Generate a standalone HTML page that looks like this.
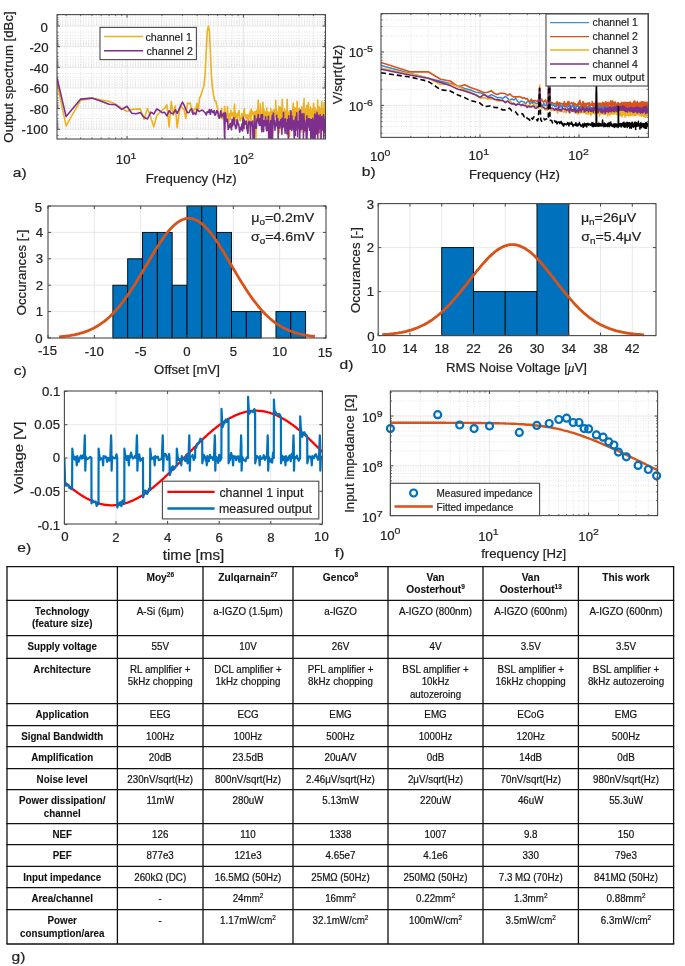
<!DOCTYPE html>
<html><head><meta charset="utf-8"><style>
html,body{margin:0;padding:0;background:#fff;}
body{width:685px;height:966px;overflow:hidden;position:relative;}
svg{position:absolute;left:0;top:0;font-family:"Liberation Sans", sans-serif;will-change:transform;}
</style></head><body>
<svg width="685" height="966" viewBox="0 0 685 966">
<clipPath id="ca"><rect x="57" y="14.6" width="268.5" height="124.4"/></clipPath>
<line x1="66.14" y1="14.60" x2="66.14" y2="139.00" stroke="#d0d0d0" stroke-width="0.7" stroke-dasharray="0.9 1.7"/>
<line x1="80.68" y1="14.60" x2="80.68" y2="139.00" stroke="#d0d0d0" stroke-width="0.7" stroke-dasharray="0.9 1.7"/>
<line x1="91.96" y1="14.60" x2="91.96" y2="139.00" stroke="#d0d0d0" stroke-width="0.7" stroke-dasharray="0.9 1.7"/>
<line x1="101.18" y1="14.60" x2="101.18" y2="139.00" stroke="#d0d0d0" stroke-width="0.7" stroke-dasharray="0.9 1.7"/>
<line x1="108.97" y1="14.60" x2="108.97" y2="139.00" stroke="#d0d0d0" stroke-width="0.7" stroke-dasharray="0.9 1.7"/>
<line x1="115.72" y1="14.60" x2="115.72" y2="139.00" stroke="#d0d0d0" stroke-width="0.7" stroke-dasharray="0.9 1.7"/>
<line x1="121.67" y1="14.60" x2="121.67" y2="139.00" stroke="#d0d0d0" stroke-width="0.7" stroke-dasharray="0.9 1.7"/>
<line x1="162.04" y1="14.60" x2="162.04" y2="139.00" stroke="#d0d0d0" stroke-width="0.7" stroke-dasharray="0.9 1.7"/>
<line x1="182.54" y1="14.60" x2="182.54" y2="139.00" stroke="#d0d0d0" stroke-width="0.7" stroke-dasharray="0.9 1.7"/>
<line x1="197.08" y1="14.60" x2="197.08" y2="139.00" stroke="#d0d0d0" stroke-width="0.7" stroke-dasharray="0.9 1.7"/>
<line x1="208.36" y1="14.60" x2="208.36" y2="139.00" stroke="#d0d0d0" stroke-width="0.7" stroke-dasharray="0.9 1.7"/>
<line x1="217.58" y1="14.60" x2="217.58" y2="139.00" stroke="#d0d0d0" stroke-width="0.7" stroke-dasharray="0.9 1.7"/>
<line x1="225.37" y1="14.60" x2="225.37" y2="139.00" stroke="#d0d0d0" stroke-width="0.7" stroke-dasharray="0.9 1.7"/>
<line x1="232.12" y1="14.60" x2="232.12" y2="139.00" stroke="#d0d0d0" stroke-width="0.7" stroke-dasharray="0.9 1.7"/>
<line x1="238.07" y1="14.60" x2="238.07" y2="139.00" stroke="#d0d0d0" stroke-width="0.7" stroke-dasharray="0.9 1.7"/>
<line x1="278.44" y1="14.60" x2="278.44" y2="139.00" stroke="#d0d0d0" stroke-width="0.7" stroke-dasharray="0.9 1.7"/>
<line x1="298.94" y1="14.60" x2="298.94" y2="139.00" stroke="#d0d0d0" stroke-width="0.7" stroke-dasharray="0.9 1.7"/>
<line x1="313.48" y1="14.60" x2="313.48" y2="139.00" stroke="#d0d0d0" stroke-width="0.7" stroke-dasharray="0.9 1.7"/>
<line x1="57.00" y1="15.20" x2="325.50" y2="15.20" stroke="#d0d0d0" stroke-width="0.7" stroke-dasharray="0.9 1.7"/>
<line x1="57.00" y1="15.20" x2="58.60" y2="15.20" stroke="#4a4a4a" stroke-width="0.7" />
<line x1="325.50" y1="15.20" x2="323.90" y2="15.20" stroke="#4a4a4a" stroke-width="0.7" />
<line x1="57.00" y1="17.78" x2="325.50" y2="17.78" stroke="#d0d0d0" stroke-width="0.7" stroke-dasharray="0.9 1.7"/>
<line x1="57.00" y1="17.78" x2="58.60" y2="17.78" stroke="#4a4a4a" stroke-width="0.7" />
<line x1="325.50" y1="17.78" x2="323.90" y2="17.78" stroke="#4a4a4a" stroke-width="0.7" />
<line x1="57.00" y1="19.78" x2="325.50" y2="19.78" stroke="#d0d0d0" stroke-width="0.7" stroke-dasharray="0.9 1.7"/>
<line x1="57.00" y1="19.78" x2="58.60" y2="19.78" stroke="#4a4a4a" stroke-width="0.7" />
<line x1="325.50" y1="19.78" x2="323.90" y2="19.78" stroke="#4a4a4a" stroke-width="0.7" />
<line x1="57.00" y1="21.42" x2="325.50" y2="21.42" stroke="#d0d0d0" stroke-width="0.7" stroke-dasharray="0.9 1.7"/>
<line x1="57.00" y1="21.42" x2="58.60" y2="21.42" stroke="#4a4a4a" stroke-width="0.7" />
<line x1="325.50" y1="21.42" x2="323.90" y2="21.42" stroke="#4a4a4a" stroke-width="0.7" />
<line x1="57.00" y1="22.80" x2="325.50" y2="22.80" stroke="#d0d0d0" stroke-width="0.7" stroke-dasharray="0.9 1.7"/>
<line x1="57.00" y1="22.80" x2="58.60" y2="22.80" stroke="#4a4a4a" stroke-width="0.7" />
<line x1="325.50" y1="22.80" x2="323.90" y2="22.80" stroke="#4a4a4a" stroke-width="0.7" />
<line x1="57.00" y1="24.00" x2="325.50" y2="24.00" stroke="#d0d0d0" stroke-width="0.7" stroke-dasharray="0.9 1.7"/>
<line x1="57.00" y1="24.00" x2="58.60" y2="24.00" stroke="#4a4a4a" stroke-width="0.7" />
<line x1="325.50" y1="24.00" x2="323.90" y2="24.00" stroke="#4a4a4a" stroke-width="0.7" />
<line x1="57.00" y1="25.05" x2="325.50" y2="25.05" stroke="#d0d0d0" stroke-width="0.7" stroke-dasharray="0.9 1.7"/>
<line x1="57.00" y1="25.05" x2="58.60" y2="25.05" stroke="#4a4a4a" stroke-width="0.7" />
<line x1="325.50" y1="25.05" x2="323.90" y2="25.05" stroke="#4a4a4a" stroke-width="0.7" />
<line x1="57.00" y1="32.22" x2="325.50" y2="32.22" stroke="#d0d0d0" stroke-width="0.7" stroke-dasharray="0.9 1.7"/>
<line x1="57.00" y1="32.22" x2="58.60" y2="32.22" stroke="#4a4a4a" stroke-width="0.7" />
<line x1="325.50" y1="32.22" x2="323.90" y2="32.22" stroke="#4a4a4a" stroke-width="0.7" />
<line x1="57.00" y1="35.86" x2="325.50" y2="35.86" stroke="#d0d0d0" stroke-width="0.7" stroke-dasharray="0.9 1.7"/>
<line x1="57.00" y1="35.86" x2="58.60" y2="35.86" stroke="#4a4a4a" stroke-width="0.7" />
<line x1="325.50" y1="35.86" x2="323.90" y2="35.86" stroke="#4a4a4a" stroke-width="0.7" />
<line x1="57.00" y1="38.44" x2="325.50" y2="38.44" stroke="#d0d0d0" stroke-width="0.7" stroke-dasharray="0.9 1.7"/>
<line x1="57.00" y1="38.44" x2="58.60" y2="38.44" stroke="#4a4a4a" stroke-width="0.7" />
<line x1="325.50" y1="38.44" x2="323.90" y2="38.44" stroke="#4a4a4a" stroke-width="0.7" />
<line x1="57.00" y1="40.44" x2="325.50" y2="40.44" stroke="#d0d0d0" stroke-width="0.7" stroke-dasharray="0.9 1.7"/>
<line x1="57.00" y1="40.44" x2="58.60" y2="40.44" stroke="#4a4a4a" stroke-width="0.7" />
<line x1="325.50" y1="40.44" x2="323.90" y2="40.44" stroke="#4a4a4a" stroke-width="0.7" />
<line x1="57.00" y1="42.08" x2="325.50" y2="42.08" stroke="#d0d0d0" stroke-width="0.7" stroke-dasharray="0.9 1.7"/>
<line x1="57.00" y1="42.08" x2="58.60" y2="42.08" stroke="#4a4a4a" stroke-width="0.7" />
<line x1="325.50" y1="42.08" x2="323.90" y2="42.08" stroke="#4a4a4a" stroke-width="0.7" />
<line x1="57.00" y1="43.46" x2="325.50" y2="43.46" stroke="#d0d0d0" stroke-width="0.7" stroke-dasharray="0.9 1.7"/>
<line x1="57.00" y1="43.46" x2="58.60" y2="43.46" stroke="#4a4a4a" stroke-width="0.7" />
<line x1="325.50" y1="43.46" x2="323.90" y2="43.46" stroke="#4a4a4a" stroke-width="0.7" />
<line x1="57.00" y1="44.66" x2="325.50" y2="44.66" stroke="#d0d0d0" stroke-width="0.7" stroke-dasharray="0.9 1.7"/>
<line x1="57.00" y1="44.66" x2="58.60" y2="44.66" stroke="#4a4a4a" stroke-width="0.7" />
<line x1="325.50" y1="44.66" x2="323.90" y2="44.66" stroke="#4a4a4a" stroke-width="0.7" />
<line x1="57.00" y1="45.71" x2="325.50" y2="45.71" stroke="#d0d0d0" stroke-width="0.7" stroke-dasharray="0.9 1.7"/>
<line x1="57.00" y1="45.71" x2="58.60" y2="45.71" stroke="#4a4a4a" stroke-width="0.7" />
<line x1="325.50" y1="45.71" x2="323.90" y2="45.71" stroke="#4a4a4a" stroke-width="0.7" />
<line x1="57.00" y1="52.88" x2="325.50" y2="52.88" stroke="#d0d0d0" stroke-width="0.7" stroke-dasharray="0.9 1.7"/>
<line x1="57.00" y1="52.88" x2="58.60" y2="52.88" stroke="#4a4a4a" stroke-width="0.7" />
<line x1="325.50" y1="52.88" x2="323.90" y2="52.88" stroke="#4a4a4a" stroke-width="0.7" />
<line x1="57.00" y1="56.52" x2="325.50" y2="56.52" stroke="#d0d0d0" stroke-width="0.7" stroke-dasharray="0.9 1.7"/>
<line x1="57.00" y1="56.52" x2="58.60" y2="56.52" stroke="#4a4a4a" stroke-width="0.7" />
<line x1="325.50" y1="56.52" x2="323.90" y2="56.52" stroke="#4a4a4a" stroke-width="0.7" />
<line x1="57.00" y1="59.10" x2="325.50" y2="59.10" stroke="#d0d0d0" stroke-width="0.7" stroke-dasharray="0.9 1.7"/>
<line x1="57.00" y1="59.10" x2="58.60" y2="59.10" stroke="#4a4a4a" stroke-width="0.7" />
<line x1="325.50" y1="59.10" x2="323.90" y2="59.10" stroke="#4a4a4a" stroke-width="0.7" />
<line x1="57.00" y1="61.10" x2="325.50" y2="61.10" stroke="#d0d0d0" stroke-width="0.7" stroke-dasharray="0.9 1.7"/>
<line x1="57.00" y1="61.10" x2="58.60" y2="61.10" stroke="#4a4a4a" stroke-width="0.7" />
<line x1="325.50" y1="61.10" x2="323.90" y2="61.10" stroke="#4a4a4a" stroke-width="0.7" />
<line x1="57.00" y1="62.74" x2="325.50" y2="62.74" stroke="#d0d0d0" stroke-width="0.7" stroke-dasharray="0.9 1.7"/>
<line x1="57.00" y1="62.74" x2="58.60" y2="62.74" stroke="#4a4a4a" stroke-width="0.7" />
<line x1="325.50" y1="62.74" x2="323.90" y2="62.74" stroke="#4a4a4a" stroke-width="0.7" />
<line x1="57.00" y1="64.12" x2="325.50" y2="64.12" stroke="#d0d0d0" stroke-width="0.7" stroke-dasharray="0.9 1.7"/>
<line x1="57.00" y1="64.12" x2="58.60" y2="64.12" stroke="#4a4a4a" stroke-width="0.7" />
<line x1="325.50" y1="64.12" x2="323.90" y2="64.12" stroke="#4a4a4a" stroke-width="0.7" />
<line x1="57.00" y1="65.32" x2="325.50" y2="65.32" stroke="#d0d0d0" stroke-width="0.7" stroke-dasharray="0.9 1.7"/>
<line x1="57.00" y1="65.32" x2="58.60" y2="65.32" stroke="#4a4a4a" stroke-width="0.7" />
<line x1="325.50" y1="65.32" x2="323.90" y2="65.32" stroke="#4a4a4a" stroke-width="0.7" />
<line x1="57.00" y1="66.37" x2="325.50" y2="66.37" stroke="#d0d0d0" stroke-width="0.7" stroke-dasharray="0.9 1.7"/>
<line x1="57.00" y1="66.37" x2="58.60" y2="66.37" stroke="#4a4a4a" stroke-width="0.7" />
<line x1="325.50" y1="66.37" x2="323.90" y2="66.37" stroke="#4a4a4a" stroke-width="0.7" />
<line x1="57.00" y1="73.54" x2="325.50" y2="73.54" stroke="#d0d0d0" stroke-width="0.7" stroke-dasharray="0.9 1.7"/>
<line x1="57.00" y1="73.54" x2="58.60" y2="73.54" stroke="#4a4a4a" stroke-width="0.7" />
<line x1="325.50" y1="73.54" x2="323.90" y2="73.54" stroke="#4a4a4a" stroke-width="0.7" />
<line x1="57.00" y1="77.18" x2="325.50" y2="77.18" stroke="#d0d0d0" stroke-width="0.7" stroke-dasharray="0.9 1.7"/>
<line x1="57.00" y1="77.18" x2="58.60" y2="77.18" stroke="#4a4a4a" stroke-width="0.7" />
<line x1="325.50" y1="77.18" x2="323.90" y2="77.18" stroke="#4a4a4a" stroke-width="0.7" />
<line x1="57.00" y1="79.76" x2="325.50" y2="79.76" stroke="#d0d0d0" stroke-width="0.7" stroke-dasharray="0.9 1.7"/>
<line x1="57.00" y1="79.76" x2="58.60" y2="79.76" stroke="#4a4a4a" stroke-width="0.7" />
<line x1="325.50" y1="79.76" x2="323.90" y2="79.76" stroke="#4a4a4a" stroke-width="0.7" />
<line x1="57.00" y1="81.76" x2="325.50" y2="81.76" stroke="#d0d0d0" stroke-width="0.7" stroke-dasharray="0.9 1.7"/>
<line x1="57.00" y1="81.76" x2="58.60" y2="81.76" stroke="#4a4a4a" stroke-width="0.7" />
<line x1="325.50" y1="81.76" x2="323.90" y2="81.76" stroke="#4a4a4a" stroke-width="0.7" />
<line x1="57.00" y1="83.40" x2="325.50" y2="83.40" stroke="#d0d0d0" stroke-width="0.7" stroke-dasharray="0.9 1.7"/>
<line x1="57.00" y1="83.40" x2="58.60" y2="83.40" stroke="#4a4a4a" stroke-width="0.7" />
<line x1="325.50" y1="83.40" x2="323.90" y2="83.40" stroke="#4a4a4a" stroke-width="0.7" />
<line x1="57.00" y1="84.78" x2="325.50" y2="84.78" stroke="#d0d0d0" stroke-width="0.7" stroke-dasharray="0.9 1.7"/>
<line x1="57.00" y1="84.78" x2="58.60" y2="84.78" stroke="#4a4a4a" stroke-width="0.7" />
<line x1="325.50" y1="84.78" x2="323.90" y2="84.78" stroke="#4a4a4a" stroke-width="0.7" />
<line x1="57.00" y1="85.98" x2="325.50" y2="85.98" stroke="#d0d0d0" stroke-width="0.7" stroke-dasharray="0.9 1.7"/>
<line x1="57.00" y1="85.98" x2="58.60" y2="85.98" stroke="#4a4a4a" stroke-width="0.7" />
<line x1="325.50" y1="85.98" x2="323.90" y2="85.98" stroke="#4a4a4a" stroke-width="0.7" />
<line x1="57.00" y1="87.03" x2="325.50" y2="87.03" stroke="#d0d0d0" stroke-width="0.7" stroke-dasharray="0.9 1.7"/>
<line x1="57.00" y1="87.03" x2="58.60" y2="87.03" stroke="#4a4a4a" stroke-width="0.7" />
<line x1="325.50" y1="87.03" x2="323.90" y2="87.03" stroke="#4a4a4a" stroke-width="0.7" />
<line x1="57.00" y1="94.20" x2="325.50" y2="94.20" stroke="#d0d0d0" stroke-width="0.7" stroke-dasharray="0.9 1.7"/>
<line x1="57.00" y1="94.20" x2="58.60" y2="94.20" stroke="#4a4a4a" stroke-width="0.7" />
<line x1="325.50" y1="94.20" x2="323.90" y2="94.20" stroke="#4a4a4a" stroke-width="0.7" />
<line x1="57.00" y1="97.84" x2="325.50" y2="97.84" stroke="#d0d0d0" stroke-width="0.7" stroke-dasharray="0.9 1.7"/>
<line x1="57.00" y1="97.84" x2="58.60" y2="97.84" stroke="#4a4a4a" stroke-width="0.7" />
<line x1="325.50" y1="97.84" x2="323.90" y2="97.84" stroke="#4a4a4a" stroke-width="0.7" />
<line x1="57.00" y1="100.42" x2="325.50" y2="100.42" stroke="#d0d0d0" stroke-width="0.7" stroke-dasharray="0.9 1.7"/>
<line x1="57.00" y1="100.42" x2="58.60" y2="100.42" stroke="#4a4a4a" stroke-width="0.7" />
<line x1="325.50" y1="100.42" x2="323.90" y2="100.42" stroke="#4a4a4a" stroke-width="0.7" />
<line x1="57.00" y1="102.42" x2="325.50" y2="102.42" stroke="#d0d0d0" stroke-width="0.7" stroke-dasharray="0.9 1.7"/>
<line x1="57.00" y1="102.42" x2="58.60" y2="102.42" stroke="#4a4a4a" stroke-width="0.7" />
<line x1="325.50" y1="102.42" x2="323.90" y2="102.42" stroke="#4a4a4a" stroke-width="0.7" />
<line x1="57.00" y1="104.06" x2="325.50" y2="104.06" stroke="#d0d0d0" stroke-width="0.7" stroke-dasharray="0.9 1.7"/>
<line x1="57.00" y1="104.06" x2="58.60" y2="104.06" stroke="#4a4a4a" stroke-width="0.7" />
<line x1="325.50" y1="104.06" x2="323.90" y2="104.06" stroke="#4a4a4a" stroke-width="0.7" />
<line x1="57.00" y1="105.44" x2="325.50" y2="105.44" stroke="#d0d0d0" stroke-width="0.7" stroke-dasharray="0.9 1.7"/>
<line x1="57.00" y1="105.44" x2="58.60" y2="105.44" stroke="#4a4a4a" stroke-width="0.7" />
<line x1="325.50" y1="105.44" x2="323.90" y2="105.44" stroke="#4a4a4a" stroke-width="0.7" />
<line x1="57.00" y1="106.64" x2="325.50" y2="106.64" stroke="#d0d0d0" stroke-width="0.7" stroke-dasharray="0.9 1.7"/>
<line x1="57.00" y1="106.64" x2="58.60" y2="106.64" stroke="#4a4a4a" stroke-width="0.7" />
<line x1="325.50" y1="106.64" x2="323.90" y2="106.64" stroke="#4a4a4a" stroke-width="0.7" />
<line x1="57.00" y1="107.69" x2="325.50" y2="107.69" stroke="#d0d0d0" stroke-width="0.7" stroke-dasharray="0.9 1.7"/>
<line x1="57.00" y1="107.69" x2="58.60" y2="107.69" stroke="#4a4a4a" stroke-width="0.7" />
<line x1="325.50" y1="107.69" x2="323.90" y2="107.69" stroke="#4a4a4a" stroke-width="0.7" />
<line x1="57.00" y1="114.86" x2="325.50" y2="114.86" stroke="#d0d0d0" stroke-width="0.7" stroke-dasharray="0.9 1.7"/>
<line x1="57.00" y1="114.86" x2="58.60" y2="114.86" stroke="#4a4a4a" stroke-width="0.7" />
<line x1="325.50" y1="114.86" x2="323.90" y2="114.86" stroke="#4a4a4a" stroke-width="0.7" />
<line x1="57.00" y1="118.50" x2="325.50" y2="118.50" stroke="#d0d0d0" stroke-width="0.7" stroke-dasharray="0.9 1.7"/>
<line x1="57.00" y1="118.50" x2="58.60" y2="118.50" stroke="#4a4a4a" stroke-width="0.7" />
<line x1="325.50" y1="118.50" x2="323.90" y2="118.50" stroke="#4a4a4a" stroke-width="0.7" />
<line x1="57.00" y1="121.08" x2="325.50" y2="121.08" stroke="#d0d0d0" stroke-width="0.7" stroke-dasharray="0.9 1.7"/>
<line x1="57.00" y1="121.08" x2="58.60" y2="121.08" stroke="#4a4a4a" stroke-width="0.7" />
<line x1="325.50" y1="121.08" x2="323.90" y2="121.08" stroke="#4a4a4a" stroke-width="0.7" />
<line x1="57.00" y1="123.08" x2="325.50" y2="123.08" stroke="#d0d0d0" stroke-width="0.7" stroke-dasharray="0.9 1.7"/>
<line x1="57.00" y1="123.08" x2="58.60" y2="123.08" stroke="#4a4a4a" stroke-width="0.7" />
<line x1="325.50" y1="123.08" x2="323.90" y2="123.08" stroke="#4a4a4a" stroke-width="0.7" />
<line x1="57.00" y1="124.72" x2="325.50" y2="124.72" stroke="#d0d0d0" stroke-width="0.7" stroke-dasharray="0.9 1.7"/>
<line x1="57.00" y1="124.72" x2="58.60" y2="124.72" stroke="#4a4a4a" stroke-width="0.7" />
<line x1="325.50" y1="124.72" x2="323.90" y2="124.72" stroke="#4a4a4a" stroke-width="0.7" />
<line x1="57.00" y1="126.10" x2="325.50" y2="126.10" stroke="#d0d0d0" stroke-width="0.7" stroke-dasharray="0.9 1.7"/>
<line x1="57.00" y1="126.10" x2="58.60" y2="126.10" stroke="#4a4a4a" stroke-width="0.7" />
<line x1="325.50" y1="126.10" x2="323.90" y2="126.10" stroke="#4a4a4a" stroke-width="0.7" />
<line x1="57.00" y1="127.30" x2="325.50" y2="127.30" stroke="#d0d0d0" stroke-width="0.7" stroke-dasharray="0.9 1.7"/>
<line x1="57.00" y1="127.30" x2="58.60" y2="127.30" stroke="#4a4a4a" stroke-width="0.7" />
<line x1="325.50" y1="127.30" x2="323.90" y2="127.30" stroke="#4a4a4a" stroke-width="0.7" />
<line x1="57.00" y1="128.35" x2="325.50" y2="128.35" stroke="#d0d0d0" stroke-width="0.7" stroke-dasharray="0.9 1.7"/>
<line x1="57.00" y1="128.35" x2="58.60" y2="128.35" stroke="#4a4a4a" stroke-width="0.7" />
<line x1="325.50" y1="128.35" x2="323.90" y2="128.35" stroke="#4a4a4a" stroke-width="0.7" />
<line x1="57.00" y1="135.52" x2="325.50" y2="135.52" stroke="#d0d0d0" stroke-width="0.7" stroke-dasharray="0.9 1.7"/>
<line x1="57.00" y1="135.52" x2="58.60" y2="135.52" stroke="#4a4a4a" stroke-width="0.7" />
<line x1="325.50" y1="135.52" x2="323.90" y2="135.52" stroke="#4a4a4a" stroke-width="0.7" />
<line x1="57.00" y1="26.00" x2="325.50" y2="26.00" stroke="#e2e2e2" stroke-width="0.8" />
<line x1="57.00" y1="46.66" x2="325.50" y2="46.66" stroke="#e2e2e2" stroke-width="0.8" />
<line x1="57.00" y1="67.32" x2="325.50" y2="67.32" stroke="#e2e2e2" stroke-width="0.8" />
<line x1="57.00" y1="87.98" x2="325.50" y2="87.98" stroke="#e2e2e2" stroke-width="0.8" />
<line x1="57.00" y1="108.64" x2="325.50" y2="108.64" stroke="#e2e2e2" stroke-width="0.8" />
<line x1="57.00" y1="129.30" x2="325.50" y2="129.30" stroke="#e2e2e2" stroke-width="0.8" />
<line x1="127.00" y1="14.60" x2="127.00" y2="139.00" stroke="#e2e2e2" stroke-width="0.8" />
<line x1="243.40" y1="14.60" x2="243.40" y2="139.00" stroke="#e2e2e2" stroke-width="0.8" />
<line x1="57.00" y1="26.00" x2="60.00" y2="26.00" stroke="#4a4a4a" stroke-width="1" />
<line x1="325.50" y1="26.00" x2="322.50" y2="26.00" stroke="#4a4a4a" stroke-width="1" />
<line x1="57.00" y1="46.66" x2="60.00" y2="46.66" stroke="#4a4a4a" stroke-width="1" />
<line x1="325.50" y1="46.66" x2="322.50" y2="46.66" stroke="#4a4a4a" stroke-width="1" />
<line x1="57.00" y1="67.32" x2="60.00" y2="67.32" stroke="#4a4a4a" stroke-width="1" />
<line x1="325.50" y1="67.32" x2="322.50" y2="67.32" stroke="#4a4a4a" stroke-width="1" />
<line x1="57.00" y1="87.98" x2="60.00" y2="87.98" stroke="#4a4a4a" stroke-width="1" />
<line x1="325.50" y1="87.98" x2="322.50" y2="87.98" stroke="#4a4a4a" stroke-width="1" />
<line x1="57.00" y1="108.64" x2="60.00" y2="108.64" stroke="#4a4a4a" stroke-width="1" />
<line x1="325.50" y1="108.64" x2="322.50" y2="108.64" stroke="#4a4a4a" stroke-width="1" />
<line x1="57.00" y1="129.30" x2="60.00" y2="129.30" stroke="#4a4a4a" stroke-width="1" />
<line x1="325.50" y1="129.30" x2="322.50" y2="129.30" stroke="#4a4a4a" stroke-width="1" />
<line x1="127.00" y1="14.60" x2="127.00" y2="17.60" stroke="#4a4a4a" stroke-width="1" />
<line x1="127.00" y1="139.00" x2="127.00" y2="136.00" stroke="#4a4a4a" stroke-width="1" />
<line x1="243.40" y1="14.60" x2="243.40" y2="17.60" stroke="#4a4a4a" stroke-width="1" />
<line x1="243.40" y1="139.00" x2="243.40" y2="136.00" stroke="#4a4a4a" stroke-width="1" />
<line x1="66.14" y1="14.60" x2="66.14" y2="16.20" stroke="#4a4a4a" stroke-width="0.8" />
<line x1="66.14" y1="139.00" x2="66.14" y2="137.40" stroke="#4a4a4a" stroke-width="0.8" />
<line x1="80.68" y1="14.60" x2="80.68" y2="16.20" stroke="#4a4a4a" stroke-width="0.8" />
<line x1="80.68" y1="139.00" x2="80.68" y2="137.40" stroke="#4a4a4a" stroke-width="0.8" />
<line x1="91.96" y1="14.60" x2="91.96" y2="16.20" stroke="#4a4a4a" stroke-width="0.8" />
<line x1="91.96" y1="139.00" x2="91.96" y2="137.40" stroke="#4a4a4a" stroke-width="0.8" />
<line x1="101.18" y1="14.60" x2="101.18" y2="16.20" stroke="#4a4a4a" stroke-width="0.8" />
<line x1="101.18" y1="139.00" x2="101.18" y2="137.40" stroke="#4a4a4a" stroke-width="0.8" />
<line x1="108.97" y1="14.60" x2="108.97" y2="16.20" stroke="#4a4a4a" stroke-width="0.8" />
<line x1="108.97" y1="139.00" x2="108.97" y2="137.40" stroke="#4a4a4a" stroke-width="0.8" />
<line x1="115.72" y1="14.60" x2="115.72" y2="16.20" stroke="#4a4a4a" stroke-width="0.8" />
<line x1="115.72" y1="139.00" x2="115.72" y2="137.40" stroke="#4a4a4a" stroke-width="0.8" />
<line x1="121.67" y1="14.60" x2="121.67" y2="16.20" stroke="#4a4a4a" stroke-width="0.8" />
<line x1="121.67" y1="139.00" x2="121.67" y2="137.40" stroke="#4a4a4a" stroke-width="0.8" />
<line x1="162.04" y1="14.60" x2="162.04" y2="16.20" stroke="#4a4a4a" stroke-width="0.8" />
<line x1="162.04" y1="139.00" x2="162.04" y2="137.40" stroke="#4a4a4a" stroke-width="0.8" />
<line x1="182.54" y1="14.60" x2="182.54" y2="16.20" stroke="#4a4a4a" stroke-width="0.8" />
<line x1="182.54" y1="139.00" x2="182.54" y2="137.40" stroke="#4a4a4a" stroke-width="0.8" />
<line x1="197.08" y1="14.60" x2="197.08" y2="16.20" stroke="#4a4a4a" stroke-width="0.8" />
<line x1="197.08" y1="139.00" x2="197.08" y2="137.40" stroke="#4a4a4a" stroke-width="0.8" />
<line x1="208.36" y1="14.60" x2="208.36" y2="16.20" stroke="#4a4a4a" stroke-width="0.8" />
<line x1="208.36" y1="139.00" x2="208.36" y2="137.40" stroke="#4a4a4a" stroke-width="0.8" />
<line x1="217.58" y1="14.60" x2="217.58" y2="16.20" stroke="#4a4a4a" stroke-width="0.8" />
<line x1="217.58" y1="139.00" x2="217.58" y2="137.40" stroke="#4a4a4a" stroke-width="0.8" />
<line x1="225.37" y1="14.60" x2="225.37" y2="16.20" stroke="#4a4a4a" stroke-width="0.8" />
<line x1="225.37" y1="139.00" x2="225.37" y2="137.40" stroke="#4a4a4a" stroke-width="0.8" />
<line x1="232.12" y1="14.60" x2="232.12" y2="16.20" stroke="#4a4a4a" stroke-width="0.8" />
<line x1="232.12" y1="139.00" x2="232.12" y2="137.40" stroke="#4a4a4a" stroke-width="0.8" />
<line x1="238.07" y1="14.60" x2="238.07" y2="16.20" stroke="#4a4a4a" stroke-width="0.8" />
<line x1="238.07" y1="139.00" x2="238.07" y2="137.40" stroke="#4a4a4a" stroke-width="0.8" />
<line x1="278.44" y1="14.60" x2="278.44" y2="16.20" stroke="#4a4a4a" stroke-width="0.8" />
<line x1="278.44" y1="139.00" x2="278.44" y2="137.40" stroke="#4a4a4a" stroke-width="0.8" />
<line x1="298.94" y1="14.60" x2="298.94" y2="16.20" stroke="#4a4a4a" stroke-width="0.8" />
<line x1="298.94" y1="139.00" x2="298.94" y2="137.40" stroke="#4a4a4a" stroke-width="0.8" />
<line x1="313.48" y1="14.60" x2="313.48" y2="16.20" stroke="#4a4a4a" stroke-width="0.8" />
<line x1="313.48" y1="139.00" x2="313.48" y2="137.40" stroke="#4a4a4a" stroke-width="0.8" />
<g clip-path="url(#ca)">
<path d="M56.9 82.6L66.1 125.9L80.7 100.1L92.0 98.1L101.2 100.1L109.0 101.2L115.7 104.2L121.7 108.4L127.0 111.5L131.8 109.4L136.2 109.1L140.3 108.9L144.0 119.2L147.5 108.6L150.8 117.3L153.8 126.9L156.7 115.7L159.4 112.7L162.0 110.4L164.5 108.4L166.9 104.8L169.1 127.0L171.3 101.6L173.3 115.1L175.3 106.0L177.2 127.7L179.0 113.7L180.8 105.8L182.5 108.1L184.2 110.0L185.8 118.4L187.4 103.0L188.9 103.7L190.3 102.9L191.8 112.3L193.1 113.6L194.5 108.4L195.8 109.5L197.1 103.2L198.3 111.7L199.5 98.1L200.7 96.0L201.9 91.9L203.0 88.8L204.1 84.7L205.2 73.3L206.3 49.7L207.3 31.1L208.4 26.0L209.4 31.1L210.3 49.7L211.3 73.3L212.3 86.7L213.2 92.9L214.1 98.1L215.0 101.2L215.9 101.2L216.7 105.3L217.6 108.4L218.4 116.9L219.2 116.0L220.0 115.5L220.8 118.1L221.6 108.3L222.4 118.6L223.2 118.9L223.9 118.3L224.6 106.5L225.4 114.4L226.1 116.6L226.8 115.8L227.5 106.8L228.2 122.6L228.9 121.6L229.5 113.7L230.2 119.3L230.8 110.1L231.5 115.9L232.1 113.7L232.7 112.9L233.4 118.4L234.0 112.1L234.6 104.1L235.2 121.4L235.8 113.2L236.4 116.8L236.9 114.7L237.5 118.6L238.1 113.0L238.6 112.1L239.2 110.6L239.7 119.0L240.3 120.8L240.8 117.9L241.3 118.6L241.9 113.5L242.4 118.8L242.9 120.0L243.4 116.0L243.9 110.3L244.4 108.8L244.9 116.2L245.4 114.8L245.9 117.7L246.3 118.8L246.8 117.5L247.3 114.6L247.8 115.8L248.2 131.5L248.7 119.5L249.1 116.4L249.6 113.4L250.0 112.8L250.5 110.4L250.9 125.0L251.3 109.3L251.8 115.0L252.2 112.9L252.6 111.5L253.0 113.1L253.5 113.3L253.9 123.8L254.3 114.6L254.7 111.7L255.1 111.3L255.5 115.2L255.9 137.9L256.3 120.8L256.7 110.3L257.1 115.5L257.4 117.4L257.8 116.0L258.2 100.3L258.6 118.6L258.9 120.5L259.3 112.0L259.7 118.8L260.0 115.5L260.4 104.1L260.8 115.5L261.1 116.6L261.5 122.9L261.8 116.0L262.2 117.0L262.5 110.0L262.9 102.4L263.2 113.3L263.6 117.1L263.9 109.1L264.2 114.8L264.6 119.0L264.9 112.4L265.2 113.4L265.6 116.7L265.9 111.8L266.2 115.8L266.5 116.1L266.8 108.0L267.2 119.6L267.5 122.7L267.8 111.9L268.1 112.9L268.4 120.1L268.7 115.7L269.0 112.3L269.3 118.7L269.6 116.5L269.9 123.2L270.2 121.9L270.5 118.2L270.8 108.6L271.1 117.0L271.4 131.8L271.7 114.5L272.0 119.1L272.3 113.9L272.5 111.5L272.8 115.1L273.1 115.5L273.4 109.9L273.7 114.1L273.9 114.8L274.2 111.5L274.5 110.8L274.8 116.4L275.0 109.7L275.3 109.4L275.6 109.6L275.8 100.4L276.1 116.9L276.4 109.6L276.6 115.9L276.9 111.8L277.2 111.9L277.4 118.8L277.7 118.3L277.9 115.2L278.2 114.9L278.4 115.2L278.7 112.6L278.9 106.2L279.2 116.1L279.4 132.5L279.7 115.5L279.9 123.0L280.2 120.2L280.4 107.3L280.7 115.6L280.9 115.8L281.1 120.2L281.4 118.1L281.6 110.9L281.9 117.4L282.1 106.9L282.3 99.3L282.6 119.1L282.8 115.4L283.0 114.0L283.3 113.1L283.5 113.3L283.7 115.4L283.9 116.2L284.2 115.3L284.4 114.3L284.6 109.0L284.8 113.9L285.1 117.6L285.3 120.1L285.5 116.7L285.7 113.1L285.9 118.5L286.2 120.6L286.4 110.2L286.6 112.3L286.8 112.5L287.0 107.9L287.2 99.4L287.4 118.1L287.7 116.6L287.9 115.2L288.1 116.7L288.3 118.2L288.5 115.3L288.7 112.1L288.9 120.6L289.1 111.9L289.3 113.4L289.5 136.4L289.7 110.8L289.9 113.6L290.1 117.3L290.3 116.5L290.5 113.6L290.7 118.4L290.9 114.9L291.1 115.1L291.3 117.0L291.5 112.8L291.7 119.4L291.9 112.1L292.1 114.2L292.3 121.6L292.5 114.8L292.7 112.0L292.9 108.1L293.0 107.1L293.2 103.4L293.4 109.0L293.6 112.8L293.8 117.5L294.0 120.1L294.2 120.7L294.4 107.5L294.5 113.3L294.7 117.2L294.9 112.8L295.1 108.0L295.3 109.5L295.4 117.5L295.6 118.3L295.8 119.5L296.0 118.6L296.2 114.7L296.3 119.7L296.5 117.6L296.7 108.6L296.9 107.8L297.0 113.4L297.2 101.5L297.4 120.4L297.6 111.0L297.7 117.3L297.9 113.9L298.1 112.6L298.3 117.5L298.4 118.4L298.6 116.7L298.8 118.3L298.9 111.1L299.1 108.3L299.3 111.5L299.4 112.5L299.6 111.6L299.8 112.8L299.9 118.2L300.1 112.6L300.3 116.1L300.4 111.4L300.6 115.0L300.8 115.4L300.9 118.4L301.1 125.5L301.2 131.9L301.4 118.3L301.6 114.3L301.7 106.8L301.9 115.1L302.0 111.2L302.2 114.5L302.4 112.8L302.5 115.3L302.7 114.7L302.8 115.5L303.0 116.2L303.1 118.1L303.3 113.3L303.4 114.0L303.6 103.1L303.8 109.9L303.9 116.7L304.1 98.5L304.2 132.2L304.4 123.4L304.5 115.5L304.7 114.0L304.8 109.7L305.0 111.3L305.1 115.9L305.3 120.4L305.4 118.7L305.6 117.8L305.7 116.5L305.9 110.2L306.0 108.6L306.1 111.3L306.3 123.6L306.4 124.3L306.6 111.7L306.7 105.3L306.9 109.6L307.0 110.0L307.2 120.3L307.3 114.2L307.4 119.6L307.6 110.4L307.7 113.3L307.9 112.9L308.0 118.5L308.2 117.5L308.3 116.0L308.4 102.9L308.6 113.5L308.7 117.6L308.9 113.2L309.0 113.1L309.1 109.6L309.3 118.6L309.4 115.7L309.5 117.2L309.7 114.3L309.8 119.0L309.9 109.6L310.1 113.6L310.2 115.0L310.4 115.8L310.5 113.7L310.6 107.1L310.8 114.6L310.9 116.4L311.0 108.7L311.2 114.9L311.3 115.7L311.4 116.9L311.5 112.7L311.7 113.3L311.8 118.2L311.9 114.8L312.1 120.3L312.2 116.1L312.3 115.0L312.5 118.8L312.6 115.6L312.7 110.5L312.8 108.7L313.0 121.1L313.1 117.4L313.2 114.4L313.4 114.5L313.5 116.8L313.6 103.4L313.7 119.7L313.9 118.2L314.0 136.5L314.1 113.6L314.2 121.8L314.4 109.4L314.5 120.8L314.6 113.1L314.7 116.5L314.9 118.8L315.0 107.7L315.1 108.5L315.2 120.2L315.3 114.5L315.5 121.7L315.6 120.3L315.7 116.0L315.8 115.8L315.9 112.3L316.1 117.6L316.2 115.9L316.3 110.3L316.4 118.3L316.5 114.9L316.7 113.4L316.8 113.6L316.9 109.8L317.0 110.2L317.1 113.1L317.3 118.4L317.4 117.4L317.5 112.6L317.6 112.5L317.7 100.0L317.8 117.4L318.0 115.6L318.1 114.5L318.2 113.9L318.3 120.4L318.4 117.1L318.5 117.9L318.6 120.4L318.8 113.5L318.9 106.6L319.0 113.9L319.1 122.9L319.2 120.4L319.3 117.0L319.4 115.2L319.5 119.5L319.7 113.2L319.8 108.6L319.9 108.1L320.0 114.1L320.1 108.6L320.2 114.9L320.3 137.6L320.4 115.8L320.5 111.5L320.7 116.3L320.8 113.8L320.9 111.1L321.0 116.1L321.1 116.8L321.2 109.9L321.3 116.8L321.4 132.4L321.5 113.6L321.6 115.7L321.7 104.9L321.8 101.8L322.0 115.9L322.1 110.9L322.2 117.0L322.3 113.7L322.4 120.3L322.5 113.8L322.6 116.2L322.7 116.4L322.8 120.7L322.9 121.4L323.0 111.5L323.1 117.6L323.2 119.0L323.3 112.1L323.4 113.2L323.5 108.8L323.6 114.5L323.7 111.4L323.8 110.4L323.9 113.8L324.0 117.3L324.1 103.0L324.3 110.3L324.4 117.0L324.5 118.9L324.6 113.0L324.7 117.0L324.8 111.6" fill="none" stroke="#EDB120" stroke-width="1.6" stroke-linejoin="round" />
<path d="M56.9 77.5L66.1 116.6L80.7 99.1L92.0 98.1L101.2 101.2L109.0 104.2L115.7 104.8L121.7 109.4L127.0 106.3L131.8 113.2L136.2 113.8L140.3 112.6L144.0 117.2L147.5 119.0L150.8 112.1L153.8 114.0L156.7 109.0L159.4 110.5L162.0 112.7L164.5 112.2L166.9 115.9L169.1 110.7L171.3 113.3L173.3 113.6L175.3 109.8L177.2 113.3L179.0 109.4L180.8 105.3L182.5 102.2L184.2 105.3L185.8 109.4L187.4 112.7L188.9 112.6L190.3 110.0L191.8 108.7L193.1 114.2L194.5 113.0L195.8 114.4L197.1 109.1L198.3 110.9L199.5 111.5L200.7 110.5L201.9 110.3L203.0 110.4L204.1 111.8L205.2 112.9L206.3 115.0L207.3 111.6L208.4 112.5L209.4 109.5L210.3 114.3L211.3 109.6L212.3 111.9L213.2 112.8L214.1 110.5L215.0 115.3L215.9 113.9L216.7 110.8L217.6 111.2L218.4 115.2L219.2 118.2L220.0 115.0L220.8 110.7L221.6 117.0L222.4 114.3L223.2 115.7L223.9 113.0L224.6 138.2L225.4 112.8L226.1 119.2L226.8 121.5L227.5 119.4L228.2 129.5L228.9 125.5L229.5 127.4L230.2 123.3L230.8 126.0L231.5 129.8L232.1 119.2L232.7 125.6L233.4 120.1L234.0 117.6L234.6 124.6L235.2 125.6L235.8 128.7L236.4 127.7L236.9 119.7L237.5 119.9L238.1 124.9L238.6 124.0L239.2 128.0L239.7 132.2L240.3 128.9L240.8 127.2L241.3 129.4L241.9 124.0L242.4 131.0L242.9 120.4L243.4 117.4L243.9 128.8L244.4 120.0L244.9 124.0L245.4 124.0L245.9 124.1L246.3 121.0L246.8 128.2L247.3 130.1L247.8 133.4L248.2 125.6L248.7 122.7L249.1 121.3L249.6 122.0L250.0 122.9L250.5 138.2L250.9 122.1L251.3 125.5L251.8 124.9L252.2 123.3L252.6 121.1L253.0 138.2L253.5 131.7L253.9 125.4L254.3 138.2L254.7 115.9L255.1 126.3L255.5 124.0L255.9 128.3L256.3 128.1L256.7 121.5L257.1 118.7L257.4 120.7L257.8 119.6L258.2 114.6L258.6 123.3L258.9 120.7L259.3 125.4L259.7 118.6L260.0 120.6L260.4 119.4L260.8 125.5L261.1 114.9L261.5 120.9L261.8 131.7L262.2 125.4L262.5 114.6L262.9 126.1L263.2 124.3L263.6 131.6L263.9 120.5L264.2 125.2L264.6 125.6L264.9 120.5L265.2 123.3L265.6 116.9L265.9 121.0L266.2 126.9L266.5 130.8L266.8 124.7L267.2 121.8L267.5 120.6L267.8 123.6L268.1 130.6L268.4 116.2L268.7 138.2L269.0 127.2L269.3 126.0L269.6 124.0L269.9 130.5L270.2 138.2L270.5 120.9L270.8 122.8L271.1 124.5L271.4 138.2L271.7 123.3L272.0 119.8L272.3 115.5L272.5 138.2L272.8 129.1L273.1 120.7L273.4 113.1L273.7 123.3L273.9 117.3L274.2 123.7L274.5 120.6L274.8 127.1L275.0 130.2L275.3 124.3L275.6 125.8L275.8 124.0L276.1 125.8L276.4 121.1L276.6 115.2L276.9 120.2L277.2 124.2L277.4 119.4L277.7 128.1L277.9 119.1L278.2 138.2L278.4 123.4L278.7 127.6L278.9 122.1L279.2 121.8L279.4 124.9L279.7 122.6L279.9 128.3L280.2 122.4L280.4 122.9L280.7 120.0L280.9 119.7L281.1 123.3L281.4 125.7L281.6 119.8L281.9 134.2L282.1 118.4L282.3 128.2L282.6 125.1L282.8 118.6L283.0 122.8L283.3 127.0L283.5 112.2L283.7 126.3L283.9 125.9L284.2 119.0L284.4 124.4L284.6 123.7L284.8 127.1L285.1 133.1L285.3 127.4L285.5 118.9L285.7 121.0L285.9 124.1L286.2 127.8L286.4 126.1L286.6 123.6L286.8 126.6L287.0 134.0L287.2 124.1L287.4 126.4L287.7 119.5L287.9 124.6L288.1 125.5L288.3 138.2L288.5 138.2L288.7 115.7L288.9 129.4L289.1 118.0L289.3 120.9L289.5 120.8L289.7 125.5L289.9 119.5L290.1 125.9L290.3 129.1L290.5 121.8L290.7 123.0L290.9 110.7L291.1 120.5L291.3 126.3L291.5 118.9L291.7 130.5L291.9 115.9L292.1 123.0L292.3 122.6L292.5 120.2L292.7 123.0L292.9 122.5L293.0 123.7L293.2 120.5L293.4 129.5L293.6 122.0L293.8 129.9L294.0 131.4L294.2 138.2L294.4 125.4L294.5 130.2L294.7 120.9L294.9 126.5L295.1 134.0L295.3 119.3L295.4 135.5L295.6 117.0L295.8 124.6L296.0 124.6L296.2 118.2L296.3 125.1L296.5 122.8L296.7 112.9L296.9 120.6L297.0 121.0L297.2 130.4L297.4 127.6L297.6 125.4L297.7 136.7L297.9 124.8L298.1 122.8L298.3 122.6L298.4 121.4L298.6 126.1L298.8 122.5L298.9 124.0L299.1 128.0L299.3 125.7L299.4 115.5L299.6 111.3L299.8 138.2L299.9 127.0L300.1 130.5L300.3 124.2L300.4 110.0L300.6 117.3L300.8 125.8L300.9 119.7L301.1 123.8L301.2 128.9L301.4 124.1L301.6 124.4L301.7 129.2L301.9 127.0L302.0 126.1L302.2 113.7L302.4 127.9L302.5 125.2L302.7 123.3L302.8 117.6L303.0 125.2L303.1 128.6L303.3 128.0L303.4 138.2L303.6 128.2L303.8 126.2L303.9 113.7L304.1 120.8L304.2 121.0L304.4 119.7L304.5 121.9L304.7 125.6L304.8 128.7L305.0 130.6L305.1 126.2L305.3 126.9L305.4 123.9L305.6 128.1L305.7 127.5L305.9 123.2L306.0 123.1L306.1 129.9L306.3 138.2L306.4 120.7L306.6 124.9L306.7 127.7L306.9 115.8L307.0 138.2L307.2 130.4L307.3 126.8L307.4 122.1L307.6 123.2L307.7 123.3L307.9 119.7L308.0 119.5L308.2 125.2L308.3 122.1L308.4 120.7L308.6 122.9L308.7 118.6L308.9 123.3L309.0 127.6L309.1 126.5L309.3 121.2L309.4 122.4L309.5 130.2L309.7 118.9L309.8 119.1L309.9 119.9L310.1 122.8L310.2 119.3L310.4 129.7L310.5 119.5L310.6 127.0L310.8 138.2L310.9 130.0L311.0 126.2L311.2 123.8L311.3 122.2L311.4 124.4L311.5 124.1L311.7 122.4L311.8 120.6L311.9 119.5L312.1 123.2L312.2 127.3L312.3 138.2L312.5 138.2L312.6 131.0L312.7 118.2L312.8 127.2L313.0 123.7L313.1 124.2L313.2 127.6L313.4 120.5L313.5 124.2L313.6 123.4L313.7 138.2L313.9 120.2L314.0 120.8L314.1 129.0L314.2 128.7L314.4 126.6L314.5 119.5L314.6 126.9L314.7 114.0L314.9 127.4L315.0 119.8L315.1 138.2L315.2 125.4L315.3 125.5L315.5 123.3L315.6 115.1L315.7 129.2L315.8 118.9L315.9 129.6L316.1 134.1L316.2 123.9L316.3 121.4L316.4 118.2L316.5 127.4L316.7 119.2L316.8 131.1L316.9 120.6L317.0 112.3L317.1 120.8L317.3 122.5L317.4 126.0L317.5 121.0L317.6 119.8L317.7 138.2L317.8 121.5L318.0 127.1L318.1 124.6L318.2 115.2L318.3 131.6L318.4 123.4L318.5 119.8L318.6 121.6L318.8 128.9L318.9 132.7L319.0 119.8L319.1 117.0L319.2 124.4L319.3 119.3L319.4 123.4L319.5 128.7L319.7 127.1L319.8 117.3L319.9 128.7L320.0 124.8L320.1 114.7L320.2 122.5L320.3 128.7L320.4 123.2L320.5 120.8L320.7 123.0L320.8 129.2L320.9 127.2L321.0 127.4L321.1 140.8L321.2 122.6L321.3 126.5L321.4 125.0L321.5 126.9L321.6 117.0L321.7 122.0L321.8 121.9L322.0 130.6L322.1 126.6L322.2 124.6L322.3 120.8L322.4 116.3L322.5 124.9L322.6 119.9L322.7 120.0L322.8 119.6L322.9 128.2L323.0 124.9L323.1 123.9L323.2 123.0L323.3 127.4L323.4 122.1L323.5 125.0L323.6 126.4L323.7 114.7L323.8 138.2L323.9 122.4L324.0 133.2L324.1 119.8L324.3 121.8L324.4 127.7L324.5 121.1L324.6 132.6L324.7 119.5L324.8 126.0" fill="none" stroke="#7E2F8E" stroke-width="1.6" stroke-linejoin="round" />
</g>
<rect x="57.00" y="14.60" width="268.50" height="124.40" fill="none" stroke="#4a4a4a" stroke-width="1.1" />
<rect x="100.00" y="27.40" width="96.40" height="32.20" fill="#fff" stroke="#4a4a4a" stroke-width="1.1" />
<line x1="104.00" y1="36.60" x2="143.00" y2="36.60" stroke="#EDB120" stroke-width="1.5" />
<text id="L_a_leg1" transform="translate(145.50 40.60)" font-size="10.7" text-anchor="start" font-weight="normal" fill="#222222" stroke="#222222" stroke-width="0.2">channel 1</text>
<line x1="104.00" y1="50.80" x2="143.00" y2="50.80" stroke="#7E2F8E" stroke-width="1.5" />
<text id="L_a_leg2" transform="translate(146.50 54.80)" font-size="10.7" text-anchor="start" font-weight="normal" fill="#222222" stroke="#222222" stroke-width="0.2">channel 2</text>
<text id="L_a_y0" transform="translate(47.80 31.60) scale(1.1 1)" font-size="12" text-anchor="end" font-weight="normal" fill="#222222" stroke="#222222" stroke-width="0.2">0</text>
<text id="L_a_y-20" transform="translate(48.50 51.90) scale(1.1 1)" font-size="12" text-anchor="end" font-weight="normal" fill="#222222" stroke="#222222" stroke-width="0.2">-20</text>
<text id="L_a_y-40" transform="translate(48.50 72.50) scale(1.1 1)" font-size="12" text-anchor="end" font-weight="normal" fill="#222222" stroke="#222222" stroke-width="0.2">-40</text>
<text id="L_a_y-60" transform="translate(48.50 93.10) scale(1.1 1)" font-size="12" text-anchor="end" font-weight="normal" fill="#222222" stroke="#222222" stroke-width="0.2">-60</text>
<text id="L_a_y-80" transform="translate(48.50 113.70) scale(1.1 1)" font-size="12" text-anchor="end" font-weight="normal" fill="#222222" stroke="#222222" stroke-width="0.2">-80</text>
<text id="L_a_y-100" transform="translate(48.00 134.40) scale(1.1 1)" font-size="12" text-anchor="end" font-weight="normal" fill="#222222" stroke="#222222" stroke-width="0.2">-100</text>
<text id="L_a_x1" transform="translate(126.10 163.70) scale(1.1 1)" font-size="12" text-anchor="middle" font-weight="normal" fill="#222222" stroke="#222222" stroke-width="0.2">10<tspan font-size="9.6" dy="-5.2">1</tspan></text>
<text id="L_a_x2" transform="translate(243.50 163.70) scale(1.1 1)" font-size="12" text-anchor="middle" font-weight="normal" fill="#222222" stroke="#222222" stroke-width="0.2">10<tspan font-size="9.6" dy="-5.2">2</tspan></text>
<text id="L_a_xl" transform="translate(191.20 182.80) scale(1.1 1)" font-size="12" text-anchor="middle" font-weight="normal" fill="#222222" stroke="#222222" stroke-width="0.2">Frequency (Hz)</text>
<text id="L_a_yl" transform="translate(13.30 77.00) rotate(-90) scale(1.1 1)" font-size="12" text-anchor="middle" font-weight="normal" fill="#222222" stroke="#222222" stroke-width="0.2">Output spectrum [dBc]</text>
<text id="L_a_lab" transform="translate(12.80 176.60) scale(1.2 1)" font-size="13" text-anchor="start" font-weight="normal" fill="#222222" stroke="#222222" stroke-width="0.2">a)</text>
<clipPath id="cb"><rect x="381" y="13.6" width="267.4" height="123.80000000000001"/></clipPath>
<line x1="410.80" y1="13.60" x2="410.80" y2="137.40" stroke="#d4d4d4" stroke-width="0.6" stroke-dasharray="1 1.5"/>
<line x1="428.24" y1="13.60" x2="428.24" y2="137.40" stroke="#d4d4d4" stroke-width="0.6" stroke-dasharray="1 1.5"/>
<line x1="440.60" y1="13.60" x2="440.60" y2="137.40" stroke="#d4d4d4" stroke-width="0.6" stroke-dasharray="1 1.5"/>
<line x1="450.20" y1="13.60" x2="450.20" y2="137.40" stroke="#d4d4d4" stroke-width="0.6" stroke-dasharray="1 1.5"/>
<line x1="458.04" y1="13.60" x2="458.04" y2="137.40" stroke="#d4d4d4" stroke-width="0.6" stroke-dasharray="1 1.5"/>
<line x1="464.66" y1="13.60" x2="464.66" y2="137.40" stroke="#d4d4d4" stroke-width="0.6" stroke-dasharray="1 1.5"/>
<line x1="470.41" y1="13.60" x2="470.41" y2="137.40" stroke="#d4d4d4" stroke-width="0.6" stroke-dasharray="1 1.5"/>
<line x1="475.47" y1="13.60" x2="475.47" y2="137.40" stroke="#d4d4d4" stroke-width="0.6" stroke-dasharray="1 1.5"/>
<line x1="509.80" y1="13.60" x2="509.80" y2="137.40" stroke="#d4d4d4" stroke-width="0.6" stroke-dasharray="1 1.5"/>
<line x1="527.24" y1="13.60" x2="527.24" y2="137.40" stroke="#d4d4d4" stroke-width="0.6" stroke-dasharray="1 1.5"/>
<line x1="539.60" y1="13.60" x2="539.60" y2="137.40" stroke="#d4d4d4" stroke-width="0.6" stroke-dasharray="1 1.5"/>
<line x1="549.20" y1="13.60" x2="549.20" y2="137.40" stroke="#d4d4d4" stroke-width="0.6" stroke-dasharray="1 1.5"/>
<line x1="557.04" y1="13.60" x2="557.04" y2="137.40" stroke="#d4d4d4" stroke-width="0.6" stroke-dasharray="1 1.5"/>
<line x1="563.66" y1="13.60" x2="563.66" y2="137.40" stroke="#d4d4d4" stroke-width="0.6" stroke-dasharray="1 1.5"/>
<line x1="569.41" y1="13.60" x2="569.41" y2="137.40" stroke="#d4d4d4" stroke-width="0.6" stroke-dasharray="1 1.5"/>
<line x1="574.47" y1="13.60" x2="574.47" y2="137.40" stroke="#d4d4d4" stroke-width="0.6" stroke-dasharray="1 1.5"/>
<line x1="608.80" y1="13.60" x2="608.80" y2="137.40" stroke="#d4d4d4" stroke-width="0.6" stroke-dasharray="1 1.5"/>
<line x1="626.24" y1="13.60" x2="626.24" y2="137.40" stroke="#d4d4d4" stroke-width="0.6" stroke-dasharray="1 1.5"/>
<line x1="638.60" y1="13.60" x2="638.60" y2="137.40" stroke="#d4d4d4" stroke-width="0.6" stroke-dasharray="1 1.5"/>
<line x1="381.00" y1="35.92" x2="648.40" y2="35.92" stroke="#d4d4d4" stroke-width="0.6" stroke-dasharray="1 1.5"/>
<line x1="381.00" y1="26.52" x2="648.40" y2="26.52" stroke="#d4d4d4" stroke-width="0.6" stroke-dasharray="1 1.5"/>
<line x1="381.00" y1="19.85" x2="648.40" y2="19.85" stroke="#d4d4d4" stroke-width="0.6" stroke-dasharray="1 1.5"/>
<line x1="381.00" y1="14.68" x2="648.40" y2="14.68" stroke="#d4d4d4" stroke-width="0.6" stroke-dasharray="1 1.5"/>
<line x1="381.00" y1="89.32" x2="648.40" y2="89.32" stroke="#d4d4d4" stroke-width="0.6" stroke-dasharray="1 1.5"/>
<line x1="381.00" y1="79.92" x2="648.40" y2="79.92" stroke="#d4d4d4" stroke-width="0.6" stroke-dasharray="1 1.5"/>
<line x1="381.00" y1="73.25" x2="648.40" y2="73.25" stroke="#d4d4d4" stroke-width="0.6" stroke-dasharray="1 1.5"/>
<line x1="381.00" y1="68.08" x2="648.40" y2="68.08" stroke="#d4d4d4" stroke-width="0.6" stroke-dasharray="1 1.5"/>
<line x1="381.00" y1="63.85" x2="648.40" y2="63.85" stroke="#d4d4d4" stroke-width="0.6" stroke-dasharray="1 1.5"/>
<line x1="381.00" y1="60.27" x2="648.40" y2="60.27" stroke="#d4d4d4" stroke-width="0.6" stroke-dasharray="1 1.5"/>
<line x1="381.00" y1="57.17" x2="648.40" y2="57.17" stroke="#d4d4d4" stroke-width="0.6" stroke-dasharray="1 1.5"/>
<line x1="381.00" y1="54.44" x2="648.40" y2="54.44" stroke="#d4d4d4" stroke-width="0.6" stroke-dasharray="1 1.5"/>
<line x1="381.00" y1="133.32" x2="648.40" y2="133.32" stroke="#d4d4d4" stroke-width="0.6" stroke-dasharray="1 1.5"/>
<line x1="381.00" y1="126.65" x2="648.40" y2="126.65" stroke="#d4d4d4" stroke-width="0.6" stroke-dasharray="1 1.5"/>
<line x1="381.00" y1="121.48" x2="648.40" y2="121.48" stroke="#d4d4d4" stroke-width="0.6" stroke-dasharray="1 1.5"/>
<line x1="381.00" y1="117.25" x2="648.40" y2="117.25" stroke="#d4d4d4" stroke-width="0.6" stroke-dasharray="1 1.5"/>
<line x1="381.00" y1="113.67" x2="648.40" y2="113.67" stroke="#d4d4d4" stroke-width="0.6" stroke-dasharray="1 1.5"/>
<line x1="381.00" y1="110.57" x2="648.40" y2="110.57" stroke="#d4d4d4" stroke-width="0.6" stroke-dasharray="1 1.5"/>
<line x1="381.00" y1="107.84" x2="648.40" y2="107.84" stroke="#d4d4d4" stroke-width="0.6" stroke-dasharray="1 1.5"/>
<line x1="381.00" y1="52.00" x2="648.40" y2="52.00" stroke="#e2e2e2" stroke-width="0.8" />
<line x1="381.00" y1="105.40" x2="648.40" y2="105.40" stroke="#e2e2e2" stroke-width="0.8" />
<line x1="480.00" y1="13.60" x2="480.00" y2="137.40" stroke="#e2e2e2" stroke-width="0.8" />
<line x1="579.00" y1="13.60" x2="579.00" y2="137.40" stroke="#e2e2e2" stroke-width="0.8" />
<line x1="381.00" y1="52.00" x2="384.00" y2="52.00" stroke="#4a4a4a" stroke-width="1" />
<line x1="648.40" y1="52.00" x2="645.40" y2="52.00" stroke="#4a4a4a" stroke-width="1" />
<line x1="381.00" y1="105.40" x2="384.00" y2="105.40" stroke="#4a4a4a" stroke-width="1" />
<line x1="648.40" y1="105.40" x2="645.40" y2="105.40" stroke="#4a4a4a" stroke-width="1" />
<line x1="480.00" y1="13.60" x2="480.00" y2="16.60" stroke="#4a4a4a" stroke-width="1" />
<line x1="480.00" y1="137.40" x2="480.00" y2="134.40" stroke="#4a4a4a" stroke-width="1" />
<line x1="579.00" y1="13.60" x2="579.00" y2="16.60" stroke="#4a4a4a" stroke-width="1" />
<line x1="579.00" y1="137.40" x2="579.00" y2="134.40" stroke="#4a4a4a" stroke-width="1" />
<line x1="410.80" y1="13.60" x2="410.80" y2="15.20" stroke="#4a4a4a" stroke-width="0.8" />
<line x1="410.80" y1="137.40" x2="410.80" y2="135.80" stroke="#4a4a4a" stroke-width="0.8" />
<line x1="428.24" y1="13.60" x2="428.24" y2="15.20" stroke="#4a4a4a" stroke-width="0.8" />
<line x1="428.24" y1="137.40" x2="428.24" y2="135.80" stroke="#4a4a4a" stroke-width="0.8" />
<line x1="440.60" y1="13.60" x2="440.60" y2="15.20" stroke="#4a4a4a" stroke-width="0.8" />
<line x1="440.60" y1="137.40" x2="440.60" y2="135.80" stroke="#4a4a4a" stroke-width="0.8" />
<line x1="450.20" y1="13.60" x2="450.20" y2="15.20" stroke="#4a4a4a" stroke-width="0.8" />
<line x1="450.20" y1="137.40" x2="450.20" y2="135.80" stroke="#4a4a4a" stroke-width="0.8" />
<line x1="458.04" y1="13.60" x2="458.04" y2="15.20" stroke="#4a4a4a" stroke-width="0.8" />
<line x1="458.04" y1="137.40" x2="458.04" y2="135.80" stroke="#4a4a4a" stroke-width="0.8" />
<line x1="464.66" y1="13.60" x2="464.66" y2="15.20" stroke="#4a4a4a" stroke-width="0.8" />
<line x1="464.66" y1="137.40" x2="464.66" y2="135.80" stroke="#4a4a4a" stroke-width="0.8" />
<line x1="470.41" y1="13.60" x2="470.41" y2="15.20" stroke="#4a4a4a" stroke-width="0.8" />
<line x1="470.41" y1="137.40" x2="470.41" y2="135.80" stroke="#4a4a4a" stroke-width="0.8" />
<line x1="475.47" y1="13.60" x2="475.47" y2="15.20" stroke="#4a4a4a" stroke-width="0.8" />
<line x1="475.47" y1="137.40" x2="475.47" y2="135.80" stroke="#4a4a4a" stroke-width="0.8" />
<line x1="509.80" y1="13.60" x2="509.80" y2="15.20" stroke="#4a4a4a" stroke-width="0.8" />
<line x1="509.80" y1="137.40" x2="509.80" y2="135.80" stroke="#4a4a4a" stroke-width="0.8" />
<line x1="527.24" y1="13.60" x2="527.24" y2="15.20" stroke="#4a4a4a" stroke-width="0.8" />
<line x1="527.24" y1="137.40" x2="527.24" y2="135.80" stroke="#4a4a4a" stroke-width="0.8" />
<line x1="539.60" y1="13.60" x2="539.60" y2="15.20" stroke="#4a4a4a" stroke-width="0.8" />
<line x1="539.60" y1="137.40" x2="539.60" y2="135.80" stroke="#4a4a4a" stroke-width="0.8" />
<line x1="549.20" y1="13.60" x2="549.20" y2="15.20" stroke="#4a4a4a" stroke-width="0.8" />
<line x1="549.20" y1="137.40" x2="549.20" y2="135.80" stroke="#4a4a4a" stroke-width="0.8" />
<line x1="557.04" y1="13.60" x2="557.04" y2="15.20" stroke="#4a4a4a" stroke-width="0.8" />
<line x1="557.04" y1="137.40" x2="557.04" y2="135.80" stroke="#4a4a4a" stroke-width="0.8" />
<line x1="563.66" y1="13.60" x2="563.66" y2="15.20" stroke="#4a4a4a" stroke-width="0.8" />
<line x1="563.66" y1="137.40" x2="563.66" y2="135.80" stroke="#4a4a4a" stroke-width="0.8" />
<line x1="569.41" y1="13.60" x2="569.41" y2="15.20" stroke="#4a4a4a" stroke-width="0.8" />
<line x1="569.41" y1="137.40" x2="569.41" y2="135.80" stroke="#4a4a4a" stroke-width="0.8" />
<line x1="574.47" y1="13.60" x2="574.47" y2="15.20" stroke="#4a4a4a" stroke-width="0.8" />
<line x1="574.47" y1="137.40" x2="574.47" y2="135.80" stroke="#4a4a4a" stroke-width="0.8" />
<line x1="608.80" y1="13.60" x2="608.80" y2="15.20" stroke="#4a4a4a" stroke-width="0.8" />
<line x1="608.80" y1="137.40" x2="608.80" y2="135.80" stroke="#4a4a4a" stroke-width="0.8" />
<line x1="626.24" y1="13.60" x2="626.24" y2="15.20" stroke="#4a4a4a" stroke-width="0.8" />
<line x1="626.24" y1="137.40" x2="626.24" y2="135.80" stroke="#4a4a4a" stroke-width="0.8" />
<line x1="638.60" y1="13.60" x2="638.60" y2="15.20" stroke="#4a4a4a" stroke-width="0.8" />
<line x1="638.60" y1="137.40" x2="638.60" y2="135.80" stroke="#4a4a4a" stroke-width="0.8" />
<line x1="381.00" y1="35.92" x2="382.60" y2="35.92" stroke="#4a4a4a" stroke-width="0.8" />
<line x1="648.40" y1="35.92" x2="646.80" y2="35.92" stroke="#4a4a4a" stroke-width="0.8" />
<line x1="381.00" y1="26.52" x2="382.60" y2="26.52" stroke="#4a4a4a" stroke-width="0.8" />
<line x1="648.40" y1="26.52" x2="646.80" y2="26.52" stroke="#4a4a4a" stroke-width="0.8" />
<line x1="381.00" y1="19.85" x2="382.60" y2="19.85" stroke="#4a4a4a" stroke-width="0.8" />
<line x1="648.40" y1="19.85" x2="646.80" y2="19.85" stroke="#4a4a4a" stroke-width="0.8" />
<line x1="381.00" y1="14.68" x2="382.60" y2="14.68" stroke="#4a4a4a" stroke-width="0.8" />
<line x1="648.40" y1="14.68" x2="646.80" y2="14.68" stroke="#4a4a4a" stroke-width="0.8" />
<line x1="381.00" y1="89.32" x2="382.60" y2="89.32" stroke="#4a4a4a" stroke-width="0.8" />
<line x1="648.40" y1="89.32" x2="646.80" y2="89.32" stroke="#4a4a4a" stroke-width="0.8" />
<line x1="381.00" y1="79.92" x2="382.60" y2="79.92" stroke="#4a4a4a" stroke-width="0.8" />
<line x1="648.40" y1="79.92" x2="646.80" y2="79.92" stroke="#4a4a4a" stroke-width="0.8" />
<line x1="381.00" y1="73.25" x2="382.60" y2="73.25" stroke="#4a4a4a" stroke-width="0.8" />
<line x1="648.40" y1="73.25" x2="646.80" y2="73.25" stroke="#4a4a4a" stroke-width="0.8" />
<line x1="381.00" y1="68.08" x2="382.60" y2="68.08" stroke="#4a4a4a" stroke-width="0.8" />
<line x1="648.40" y1="68.08" x2="646.80" y2="68.08" stroke="#4a4a4a" stroke-width="0.8" />
<line x1="381.00" y1="63.85" x2="382.60" y2="63.85" stroke="#4a4a4a" stroke-width="0.8" />
<line x1="648.40" y1="63.85" x2="646.80" y2="63.85" stroke="#4a4a4a" stroke-width="0.8" />
<line x1="381.00" y1="60.27" x2="382.60" y2="60.27" stroke="#4a4a4a" stroke-width="0.8" />
<line x1="648.40" y1="60.27" x2="646.80" y2="60.27" stroke="#4a4a4a" stroke-width="0.8" />
<line x1="381.00" y1="57.17" x2="382.60" y2="57.17" stroke="#4a4a4a" stroke-width="0.8" />
<line x1="648.40" y1="57.17" x2="646.80" y2="57.17" stroke="#4a4a4a" stroke-width="0.8" />
<line x1="381.00" y1="54.44" x2="382.60" y2="54.44" stroke="#4a4a4a" stroke-width="0.8" />
<line x1="648.40" y1="54.44" x2="646.80" y2="54.44" stroke="#4a4a4a" stroke-width="0.8" />
<line x1="381.00" y1="133.32" x2="382.60" y2="133.32" stroke="#4a4a4a" stroke-width="0.8" />
<line x1="648.40" y1="133.32" x2="646.80" y2="133.32" stroke="#4a4a4a" stroke-width="0.8" />
<line x1="381.00" y1="126.65" x2="382.60" y2="126.65" stroke="#4a4a4a" stroke-width="0.8" />
<line x1="648.40" y1="126.65" x2="646.80" y2="126.65" stroke="#4a4a4a" stroke-width="0.8" />
<line x1="381.00" y1="121.48" x2="382.60" y2="121.48" stroke="#4a4a4a" stroke-width="0.8" />
<line x1="648.40" y1="121.48" x2="646.80" y2="121.48" stroke="#4a4a4a" stroke-width="0.8" />
<line x1="381.00" y1="117.25" x2="382.60" y2="117.25" stroke="#4a4a4a" stroke-width="0.8" />
<line x1="648.40" y1="117.25" x2="646.80" y2="117.25" stroke="#4a4a4a" stroke-width="0.8" />
<line x1="381.00" y1="113.67" x2="382.60" y2="113.67" stroke="#4a4a4a" stroke-width="0.8" />
<line x1="648.40" y1="113.67" x2="646.80" y2="113.67" stroke="#4a4a4a" stroke-width="0.8" />
<line x1="381.00" y1="110.57" x2="382.60" y2="110.57" stroke="#4a4a4a" stroke-width="0.8" />
<line x1="648.40" y1="110.57" x2="646.80" y2="110.57" stroke="#4a4a4a" stroke-width="0.8" />
<line x1="381.00" y1="107.84" x2="382.60" y2="107.84" stroke="#4a4a4a" stroke-width="0.8" />
<line x1="648.40" y1="107.84" x2="646.80" y2="107.84" stroke="#4a4a4a" stroke-width="0.8" />
<g clip-path="url(#cb)">
<path d="M381.0 65.5L410.8 73.5L428.2 78.1L440.6 81.2L450.2 83.5L458.0 86.0L464.7 88.5L470.4 90.0L475.5 92.1L480.0 92.7L484.1 94.4L487.8 96.7L491.3 94.6L494.5 96.2L497.4 97.7L500.2 97.4L502.8 98.5L505.3 96.4L507.6 98.2L509.8 100.4L511.9 98.9L513.9 100.1L515.8 98.3L517.6 101.4L519.4 102.8L521.1 101.0L522.7 101.6L524.3 102.0L525.8 103.9L527.2 101.7L528.6 100.7L530.0 104.5L531.3 101.7L532.6 103.6L533.9 100.9L535.1 103.1L536.3 103.9L537.4 102.8L538.5 103.6L539.6 104.9L540.7 103.7L541.7 105.0L542.7 106.5L543.7 102.5L544.7 105.1L545.6 105.5L546.5 104.5L547.4 106.7L548.3 106.5L549.2 46.7L550.0 105.7L550.9 105.2L551.7 104.1L552.5 105.9L553.3 104.9L554.1 104.8L554.8 106.8L555.6 105.4L556.3 106.8L557.0 104.5L557.7 105.3L558.4 105.8L559.1 107.4L559.8 105.8L560.5 106.9L561.1 105.3L561.8 106.3L562.4 107.1L563.0 105.2L563.7 105.5L564.3 107.0L564.9 105.0L565.5 106.8L566.1 106.8L566.6 106.4L567.2 107.5L567.8 107.1L568.3 106.9L568.9 104.9L569.4 105.0L569.9 107.1L570.5 104.9L571.0 106.9L571.5 106.5L572.0 105.9L572.5 106.7L573.0 104.1L573.5 106.8L574.0 108.6L574.5 105.6L574.9 107.7L575.4 107.6L575.9 110.9L576.3 106.1L576.8 106.3L577.2 106.4L577.7 106.2L578.1 105.4L578.6 107.6L579.0 106.4L579.4 108.5L579.9 108.0L580.3 106.2L580.7 107.1L581.1 109.2L581.5 107.1L581.9 107.8L582.3 108.6L582.7 107.0L583.1 108.1L583.5 109.6L583.9 109.0L584.3 105.3L584.6 109.5L585.0 107.3L585.4 106.8L585.8 106.8L586.1 109.2L586.5 108.0L586.8 107.4L587.2 106.6L587.5 108.4L587.9 109.1L588.2 106.3L588.6 106.2L588.9 107.1L589.3 108.4L589.6 107.1L589.9 107.5L590.3 106.5L590.6 109.3L590.9 107.5L591.3 107.8L591.6 109.1L591.9 107.4L592.2 107.6L592.5 108.2L592.8 107.1L593.2 109.5L593.5 107.7L593.8 107.1L594.1 107.3L594.4 106.2L594.7 109.2L595.0 109.7L595.3 107.3L595.6 107.1L595.9 104.8L596.1 106.8L596.4 108.8L596.7 106.6L597.0 108.8L597.3 109.7L597.6 104.2L597.8 107.2L598.1 106.7L598.4 106.9L598.7 105.3L598.9 107.3L599.2 106.1L599.5 109.1L599.7 109.6L600.0 105.8L600.3 105.7L600.5 107.0L600.8 107.4L601.0 107.5L601.3 108.6L601.6 105.6L601.8 106.8L602.1 107.0L602.3 107.2L602.6 106.3L602.8 107.0L603.1 106.7L603.3 109.3L603.5 107.0L603.8 104.7L604.0 108.4L604.3 107.9L604.5 106.5L604.7 106.4L605.0 106.9L605.2 110.0L605.5 107.0L605.7 109.4L605.9 108.9L606.1 107.0L606.4 108.2L606.6 106.6L606.8 103.4L607.0 106.7L607.3 106.8L607.5 109.0L607.7 108.7L607.9 109.2L608.2 108.5L608.4 109.3L608.6 108.7L608.8 108.1L609.0 109.2L609.2 109.8L609.4 109.7L609.7 107.1L609.9 107.7L610.1 106.3L610.3 106.3L610.5 108.3L610.7 106.8L610.9 109.8L611.1 104.6L611.3 106.1L611.5 108.1L611.7 109.4L611.9 107.3L612.1 110.4L612.3 108.9L612.5 106.7L612.7 107.7L612.9 108.5L613.1 106.4L613.3 109.3L613.5 107.4L613.7 108.5L613.9 109.0L614.1 107.1L614.2 109.2L614.4 105.1L614.6 108.6L614.8 105.0L615.0 109.4L615.2 106.9L615.4 109.5L615.6 109.7L615.7 107.6L615.9 106.8L616.1 109.7L616.3 106.1L616.5 109.0L616.6 107.6L616.8 107.3L617.0 107.0L617.2 110.4L617.4 105.5L617.5 107.0L617.7 108.4L617.9 109.3L618.1 110.3L618.2 109.8L618.4 107.1L618.6 108.3L618.7 109.5L618.9 108.6L619.1 105.6L619.2 108.3L619.4 108.7L619.6 105.9L619.8 107.2L619.9 107.8L620.1 108.7L620.2 110.1L620.4 109.6L620.6 108.6L620.7 108.2L620.9 107.3L621.1 107.1L621.2 107.5L621.4 107.5L621.5 109.3L621.7 111.0L621.9 108.6L622.0 109.3L622.2 108.8L622.3 108.3L622.5 109.7L622.6 109.5L622.8 108.0L623.0 107.7L623.1 108.8L623.3 107.1L623.4 108.2L623.6 109.4L623.7 107.8L623.9 105.1L624.0 108.9L624.2 106.2L624.3 105.9L624.5 105.7L624.6 109.1L624.8 104.9L624.9 107.7L625.1 108.3L625.2 108.2L625.4 107.0L625.5 107.8L625.7 108.2L625.8 106.0L625.9 109.0L626.1 109.5L626.2 106.7L626.4 106.9L626.5 106.3L626.7 109.5L626.8 106.3L626.9 107.2L627.1 105.3L627.2 109.8L627.4 107.6L627.5 108.3L627.6 110.3L627.8 109.0L627.9 106.2L628.1 108.6L628.2 109.0L628.3 106.6L628.5 106.4L628.6 106.4L628.7 109.1L628.9 108.0L629.0 106.4L629.1 108.9L629.3 109.1L629.4 106.7L629.5 105.6L629.7 109.7L629.8 111.8L629.9 110.1L630.1 109.5L630.2 108.1L630.3 107.0L630.5 108.2L630.6 109.0L630.7 107.7L630.9 109.4L631.0 108.0L631.1 108.9L631.2 103.9L631.4 106.7L631.5 109.2L631.6 109.5L631.7 108.6L631.9 110.4L632.0 109.1L632.1 109.1L632.2 106.6L632.4 108.6L632.5 109.2L632.6 110.0L632.7 109.7L632.9 108.1L633.0 108.3L633.1 106.2L633.2 108.9L633.4 106.3L633.5 107.6L633.6 108.0L633.7 111.0L633.8 109.9L634.0 106.8L634.1 105.8L634.2 107.6L634.3 106.8L634.4 108.6L634.5 108.5L634.7 109.0L634.8 106.5L634.9 107.4L635.0 108.3L635.1 108.5L635.3 107.1L635.4 107.5L635.5 109.2L635.6 105.3L635.7 107.6L635.8 108.0L635.9 105.7L636.1 106.4L636.2 108.1L636.3 107.2L636.4 109.6L636.5 109.0L636.6 111.5L636.7 106.1L636.8 110.9L637.0 106.9L637.1 109.3L637.2 109.5L637.3 108.3L637.4 107.6L637.5 107.0L637.6 105.2L637.7 107.4L637.8 106.6L638.0 108.9L638.1 106.9L638.2 107.8L638.3 108.7L638.4 108.1L638.5 108.1L638.6 107.7L638.7 107.4L638.8 108.8L638.9 109.1L639.0 106.8L639.1 110.6L639.2 109.0L639.3 105.6L639.5 112.2L639.6 109.1L639.7 106.9L639.8 110.6L639.9 104.0L640.0 112.0L640.1 105.8L640.2 105.6L640.3 106.6L640.4 108.4L640.5 107.5L640.6 109.4L640.7 106.7L640.8 109.8L640.9 108.4L641.0 106.5L641.1 109.8L641.2 108.6L641.3 107.8L641.4 110.1L641.5 106.2L641.6 107.5L641.7 110.4L641.8 108.1L641.9 109.2L642.0 109.1L642.1 107.9L642.2 109.1L642.3 106.5L642.4 109.1L642.5 106.5L642.6 108.1L642.7 106.7L642.8 108.9L642.9 108.8L643.0 109.8L643.1 107.1L643.2 106.6L643.3 104.7L643.4 106.0L643.5 107.6L643.6 108.4L643.7 107.4L643.8 108.1L643.9 105.7L644.0 106.5L644.0 109.4L644.1 109.1L644.2 105.9L644.3 107.6L644.4 108.4L644.5 106.2L644.6 108.7L644.7 108.5L644.8 108.8L644.9 111.2L645.0 106.7L645.1 110.0L645.2 108.9L645.3 109.2L645.4 106.9L645.4 108.2L645.5 108.0L645.6 110.7L645.7 108.2L645.8 110.4L645.9 107.6L646.0 107.5L646.1 108.1L646.2 104.8L646.3 107.2L646.4 107.1L646.4 107.8L646.5 108.4L646.6 106.5L646.7 106.3L646.8 110.1L646.9 106.4L647.0 107.2L647.1 106.5L647.2 107.3L647.2 110.0L647.3 109.9L647.4 105.1L647.5 107.7L647.6 110.3L647.7 107.5L647.8 108.6L647.9 111.0L647.9 111.7L648.0 110.6L648.1 107.6L648.2 108.1" fill="none" stroke="#2f8ad0" stroke-width="1.4" stroke-linejoin="round" />
<path d="M381.0 62.5L410.8 71.9L428.2 71.7L440.6 79.3L450.2 81.0L458.0 86.7L464.7 84.8L470.4 87.5L475.5 89.2L480.0 91.1L484.1 92.5L487.8 92.3L491.3 90.7L494.5 93.6L497.4 94.5L500.2 93.3L502.8 93.3L505.3 93.7L507.6 95.4L509.8 93.8L511.9 96.0L513.9 96.9L515.8 96.9L517.6 96.9L519.4 96.6L521.1 97.2L522.7 98.2L524.3 97.7L525.8 98.9L527.2 98.5L528.6 101.0L530.0 101.3L531.3 99.2L532.6 101.5L533.9 100.6L535.1 100.6L536.3 101.1L537.4 101.3L538.5 99.5L539.6 103.7L540.7 100.3L541.7 99.0L542.7 101.5L543.7 101.7L544.7 101.0L545.6 99.9L546.5 103.3L547.4 102.0L548.3 102.5L549.2 46.7L550.0 102.3L550.9 101.9L551.7 103.2L552.5 102.8L553.3 103.7L554.1 103.8L554.8 103.3L555.6 103.4L556.3 104.6L557.0 101.7L557.7 103.7L558.4 105.2L559.1 102.5L559.8 104.7L560.5 103.2L561.1 103.9L561.8 103.6L562.4 103.7L563.0 104.6L563.7 103.9L564.3 101.6L564.9 106.6L565.5 103.9L566.1 103.5L566.6 105.2L567.2 105.6L567.8 101.5L568.3 104.5L568.9 101.6L569.4 103.4L569.9 104.0L570.5 103.5L571.0 103.3L571.5 102.7L572.0 103.6L572.5 104.0L573.0 104.0L573.5 102.5L574.0 103.2L574.5 105.4L574.9 105.0L575.4 103.8L575.9 105.0L576.3 104.7L576.8 105.4L577.2 104.6L577.7 103.8L578.1 103.1L578.6 104.3L579.0 101.8L579.4 104.4L579.9 100.4L580.3 103.1L580.7 103.7L581.1 105.0L581.5 107.9L581.9 104.5L582.3 104.1L582.7 101.9L583.1 106.1L583.5 102.0L583.9 104.7L584.3 103.5L584.6 107.6L585.0 104.2L585.4 104.8L585.8 103.5L586.1 104.3L586.5 105.9L586.8 103.2L587.2 103.5L587.5 103.6L587.9 103.1L588.2 103.0L588.6 104.4L588.9 106.2L589.3 106.2L589.6 102.7L589.9 103.5L590.3 104.3L590.6 105.0L590.9 104.4L591.3 104.4L591.6 104.9L591.9 105.3L592.2 101.6L592.5 104.1L592.8 105.2L593.2 106.2L593.5 105.4L593.8 103.5L594.1 103.4L594.4 104.7L594.7 104.4L595.0 104.9L595.3 105.9L595.6 102.7L595.9 104.0L596.1 101.2L596.4 105.5L596.7 104.7L597.0 103.3L597.3 104.8L597.6 106.3L597.8 105.7L598.1 104.3L598.4 104.0L598.7 104.6L598.9 103.1L599.2 103.2L599.5 104.1L599.7 104.5L600.0 104.8L600.3 103.8L600.5 103.3L600.8 104.4L601.0 103.9L601.3 104.9L601.6 106.4L601.8 105.9L602.1 103.5L602.3 103.9L602.6 102.3L602.8 104.4L603.1 103.3L603.3 102.7L603.5 103.2L603.8 105.4L604.0 104.8L604.3 104.3L604.5 105.9L604.7 103.9L605.0 103.1L605.2 105.2L605.5 101.8L605.7 104.9L605.9 104.8L606.1 104.9L606.4 105.5L606.6 104.0L606.8 104.5L607.0 102.2L607.3 103.7L607.5 103.8L607.7 104.9L607.9 106.5L608.2 104.7L608.4 105.7L608.6 103.2L608.8 104.6L609.0 102.2L609.2 103.5L609.4 103.4L609.7 104.2L609.9 104.3L610.1 103.7L610.3 103.3L610.5 105.6L610.7 103.9L610.9 100.9L611.1 104.7L611.3 104.9L611.5 105.6L611.7 106.6L611.9 102.9L612.1 104.5L612.3 104.2L612.5 102.0L612.7 101.0L612.9 105.9L613.1 103.1L613.3 103.7L613.5 104.0L613.7 103.9L613.9 104.6L614.1 102.3L614.2 103.7L614.4 104.1L614.6 102.8L614.8 103.3L615.0 103.9L615.2 104.1L615.4 102.1L615.6 103.9L615.7 104.7L615.9 105.8L616.1 105.1L616.3 106.1L616.5 104.5L616.6 104.2L616.8 107.6L617.0 104.6L617.2 103.7L617.4 104.4L617.5 106.0L617.7 102.8L617.9 105.6L618.1 106.4L618.2 106.2L618.4 104.7L618.6 103.2L618.7 102.9L618.9 104.3L619.1 106.4L619.2 105.6L619.4 105.9L619.6 104.9L619.8 107.2L619.9 104.5L620.1 103.7L620.2 104.9L620.4 104.0L620.6 106.0L620.7 106.8L620.9 105.6L621.1 103.0L621.2 103.2L621.4 105.3L621.5 102.9L621.7 105.1L621.9 102.4L622.0 104.0L622.2 105.3L622.3 103.5L622.5 105.8L622.6 106.0L622.8 106.8L623.0 104.3L623.1 104.8L623.3 104.8L623.4 105.3L623.6 102.6L623.7 105.3L623.9 105.7L624.0 102.8L624.2 102.6L624.3 104.2L624.5 107.3L624.6 105.6L624.8 103.8L624.9 104.7L625.1 102.4L625.2 106.7L625.4 103.7L625.5 105.6L625.7 102.7L625.8 104.8L625.9 103.2L626.1 105.7L626.2 106.8L626.4 106.4L626.5 105.6L626.7 106.2L626.8 102.9L626.9 102.7L627.1 104.3L627.2 106.2L627.4 104.9L627.5 105.7L627.6 102.5L627.8 104.2L627.9 104.0L628.1 105.3L628.2 107.7L628.3 105.9L628.5 106.4L628.6 104.2L628.7 104.6L628.9 105.9L629.0 105.3L629.1 102.4L629.3 106.2L629.4 106.1L629.5 105.1L629.7 105.8L629.8 105.4L629.9 103.9L630.1 102.1L630.2 107.4L630.3 104.8L630.5 104.7L630.6 104.9L630.7 105.0L630.9 105.2L631.0 103.2L631.1 105.4L631.2 104.9L631.4 104.7L631.5 104.6L631.6 105.0L631.7 103.2L631.9 104.8L632.0 104.5L632.1 104.8L632.2 106.3L632.4 106.0L632.5 106.3L632.6 104.5L632.7 105.8L632.9 106.4L633.0 104.4L633.1 103.9L633.2 107.4L633.4 102.2L633.5 104.7L633.6 104.9L633.7 103.1L633.8 104.6L634.0 105.7L634.1 101.4L634.2 106.4L634.3 104.9L634.4 103.5L634.5 106.4L634.7 104.9L634.8 104.2L634.9 101.1L635.0 106.1L635.1 104.8L635.3 103.8L635.4 104.6L635.5 106.6L635.6 104.1L635.7 104.6L635.8 104.1L635.9 103.0L636.1 103.2L636.2 104.1L636.3 104.3L636.4 106.5L636.5 105.0L636.6 104.4L636.7 105.4L636.8 104.6L637.0 106.1L637.1 102.4L637.2 101.5L637.3 105.4L637.4 104.2L637.5 105.1L637.6 102.8L637.7 104.1L637.8 104.7L638.0 105.1L638.1 104.6L638.2 106.3L638.3 103.7L638.4 105.9L638.5 104.0L638.6 104.6L638.7 103.1L638.8 104.8L638.9 103.2L639.0 106.2L639.1 103.8L639.2 105.1L639.3 104.5L639.5 104.7L639.6 103.3L639.7 107.9L639.8 104.3L639.9 107.1L640.0 102.9L640.1 107.9L640.2 106.4L640.3 107.4L640.4 102.2L640.5 106.8L640.6 104.6L640.7 105.6L640.8 107.6L640.9 105.3L641.0 103.8L641.1 105.1L641.2 103.3L641.3 105.4L641.4 104.8L641.5 105.4L641.6 104.3L641.7 101.8L641.8 104.2L641.9 104.5L642.0 105.8L642.1 106.0L642.2 102.5L642.3 106.6L642.4 106.3L642.5 105.0L642.6 105.5L642.7 101.7L642.8 108.5L642.9 104.3L643.0 103.7L643.1 106.6L643.2 105.8L643.3 104.1L643.4 102.3L643.5 106.3L643.6 107.3L643.7 103.3L643.8 102.4L643.9 105.4L644.0 108.3L644.0 102.5L644.1 105.1L644.2 103.1L644.3 104.9L644.4 105.4L644.5 105.6L644.6 102.5L644.7 102.6L644.8 108.2L644.9 106.3L645.0 102.0L645.1 105.4L645.2 107.0L645.3 104.8L645.4 105.0L645.4 105.0L645.5 105.6L645.6 105.3L645.7 105.6L645.8 104.3L645.9 106.1L646.0 105.3L646.1 105.1L646.2 102.8L646.3 104.3L646.4 105.0L646.4 104.0L646.5 104.2L646.6 103.1L646.7 104.0L646.8 102.0L646.9 102.7L647.0 104.9L647.1 105.5L647.2 103.4L647.2 104.0L647.3 105.0L647.4 107.2L647.5 107.8L647.6 104.3L647.7 103.6L647.8 103.6L647.9 106.9L647.9 103.2L648.0 105.7L648.1 104.2L648.2 104.2" fill="none" stroke="#D95319" stroke-width="1.6" stroke-linejoin="round" />
<path d="M381.0 68.2L410.8 74.0L428.2 78.0L440.6 84.5L450.2 84.0L458.0 86.5L464.7 89.9L470.4 92.1L475.5 94.9L480.0 97.9L484.1 97.8L487.8 98.9L491.3 98.7L494.5 99.4L497.4 101.0L500.2 100.6L502.8 101.0L505.3 101.7L507.6 101.0L509.8 100.6L511.9 102.8L513.9 103.1L515.8 105.1L517.6 103.5L519.4 104.0L521.1 105.9L522.7 103.9L524.3 103.8L525.8 105.3L527.2 105.2L528.6 106.1L530.0 104.6L531.3 107.1L532.6 106.1L533.9 104.1L535.1 106.2L536.3 106.0L537.4 106.8L538.5 108.1L539.6 85.1L540.7 106.9L541.7 108.5L542.7 107.3L543.7 106.5L544.7 106.9L545.6 109.9L546.5 109.4L547.4 110.2L548.3 107.5L549.2 46.7L550.0 108.2L550.9 110.1L551.7 110.6L552.5 109.3L553.3 109.5L554.1 110.7L554.8 109.7L555.6 109.3L556.3 109.9L557.0 111.4L557.7 112.8L558.4 110.8L559.1 110.4L559.8 111.0L560.5 111.3L561.1 111.6L561.8 110.0L562.4 110.9L563.0 110.8L563.7 112.1L564.3 111.7L564.9 110.8L565.5 112.2L566.1 112.6L566.6 111.5L567.2 109.7L567.8 111.0L568.3 109.5L568.9 111.4L569.4 111.6L569.9 113.0L570.5 112.0L571.0 109.6L571.5 111.0L572.0 110.5L572.5 110.6L573.0 111.5L573.5 111.8L574.0 111.4L574.5 110.7L574.9 111.0L575.4 111.0L575.9 111.4L576.3 112.6L576.8 112.0L577.2 112.9L577.7 110.5L578.1 114.4L578.6 112.1L579.0 108.8L579.4 112.2L579.9 113.2L580.3 111.9L580.7 110.2L581.1 112.1L581.5 111.1L581.9 111.7L582.3 112.4L582.7 107.9L583.1 111.8L583.5 112.6L583.9 112.5L584.3 111.4L584.6 111.4L585.0 111.0L585.4 111.8L585.8 113.8L586.1 111.3L586.5 112.4L586.8 112.4L587.2 113.9L587.5 112.7L587.9 113.0L588.2 112.1L588.6 113.9L588.9 112.0L589.3 111.9L589.6 113.5L589.9 112.9L590.3 113.2L590.6 110.9L590.9 115.4L591.3 112.5L591.6 114.3L591.9 112.7L592.2 111.0L592.5 112.9L592.8 111.9L593.2 113.2L593.5 109.6L593.8 110.9L594.1 110.7L594.4 113.9L594.7 113.6L595.0 110.7L595.3 112.4L595.6 112.5L595.9 111.8L596.1 113.9L596.4 111.2L596.7 112.2L597.0 111.6L597.3 113.1L597.6 111.6L597.8 113.2L598.1 111.0L598.4 110.7L598.7 111.0L598.9 111.6L599.2 111.4L599.5 115.9L599.7 111.2L600.0 112.7L600.3 112.2L600.5 112.7L600.8 114.2L601.0 113.0L601.3 111.4L601.6 110.4L601.8 113.2L602.1 113.6L602.3 110.4L602.6 113.6L602.8 109.5L603.1 112.3L603.3 113.6L603.5 111.0L603.8 110.1L604.0 114.4L604.3 110.3L604.5 112.8L604.7 110.4L605.0 112.9L605.2 114.6L605.5 111.7L605.7 111.1L605.9 109.5L606.1 110.1L606.4 111.5L606.6 112.8L606.8 113.2L607.0 112.9L607.3 113.6L607.5 112.8L607.7 116.0L607.9 112.2L608.2 112.5L608.4 108.9L608.6 111.4L608.8 113.2L609.0 111.7L609.2 114.2L609.4 113.4L609.7 115.1L609.9 110.5L610.1 111.7L610.3 114.2L610.5 112.6L610.7 111.2L610.9 111.8L611.1 112.0L611.3 113.8L611.5 113.5L611.7 112.4L611.9 111.3L612.1 113.7L612.3 114.2L612.5 111.0L612.7 113.9L612.9 111.1L613.1 112.3L613.3 111.4L613.5 110.1L613.7 111.6L613.9 111.5L614.1 113.9L614.2 113.6L614.4 111.7L614.6 110.4L614.8 110.6L615.0 109.3L615.2 112.2L615.4 112.4L615.6 111.2L615.7 112.6L615.9 112.8L616.1 114.2L616.3 111.2L616.5 114.2L616.6 111.9L616.8 114.7L617.0 111.1L617.2 114.2L617.4 111.5L617.5 115.0L617.7 113.3L617.9 111.0L618.1 113.9L618.2 112.6L618.4 113.4L618.6 116.1L618.7 112.3L618.9 112.1L619.1 114.3L619.2 111.9L619.4 113.9L619.6 114.2L619.8 112.7L619.9 113.7L620.1 109.4L620.2 115.0L620.4 111.7L620.6 111.3L620.7 115.7L620.9 115.3L621.1 112.0L621.2 113.5L621.4 112.2L621.5 111.1L621.7 113.3L621.9 114.4L622.0 116.8L622.2 112.5L622.3 114.2L622.5 112.4L622.6 112.5L622.8 114.9L623.0 110.3L623.1 111.2L623.3 111.6L623.4 114.6L623.6 113.4L623.7 113.6L623.9 113.5L624.0 114.5L624.2 112.2L624.3 112.5L624.5 112.3L624.6 113.6L624.8 111.0L624.9 112.6L625.1 116.9L625.2 113.8L625.4 113.0L625.5 111.5L625.7 113.3L625.8 113.3L625.9 113.9L626.1 111.9L626.2 113.6L626.4 113.8L626.5 114.0L626.7 112.1L626.8 113.7L626.9 115.4L627.1 112.0L627.2 114.0L627.4 112.4L627.5 112.4L627.6 111.1L627.8 111.4L627.9 113.8L628.1 113.2L628.2 114.9L628.3 110.4L628.5 112.3L628.6 110.9L628.7 113.4L628.9 116.0L629.0 110.7L629.1 112.8L629.3 112.8L629.4 112.9L629.5 112.0L629.7 112.2L629.8 115.4L629.9 111.3L630.1 113.8L630.2 113.7L630.3 110.4L630.5 111.6L630.6 113.5L630.7 115.8L630.9 112.8L631.0 112.2L631.1 113.1L631.2 114.9L631.4 114.2L631.5 114.9L631.6 112.7L631.7 111.8L631.9 111.5L632.0 114.1L632.1 112.7L632.2 112.2L632.4 113.8L632.5 113.3L632.6 109.8L632.7 112.7L632.9 111.7L633.0 113.7L633.1 113.0L633.2 115.7L633.4 113.1L633.5 111.3L633.6 109.9L633.7 111.2L633.8 112.0L634.0 113.0L634.1 114.0L634.2 113.3L634.3 112.2L634.4 114.3L634.5 111.7L634.7 114.6L634.8 115.8L634.9 114.7L635.0 115.7L635.1 115.2L635.3 111.4L635.4 113.4L635.5 112.8L635.6 111.3L635.7 111.2L635.8 113.9L635.9 111.1L636.1 112.5L636.2 113.1L636.3 112.5L636.4 115.3L636.5 114.4L636.6 113.3L636.7 112.2L636.8 113.7L637.0 113.3L637.1 111.7L637.2 111.0L637.3 112.0L637.4 111.2L637.5 113.8L637.6 113.6L637.7 112.7L637.8 113.6L638.0 114.0L638.1 110.6L638.2 113.5L638.3 114.7L638.4 112.4L638.5 110.3L638.6 113.1L638.7 111.3L638.8 113.9L638.9 114.0L639.0 114.3L639.1 113.4L639.2 110.3L639.3 115.0L639.5 110.7L639.6 114.8L639.7 113.6L639.8 111.9L639.9 112.2L640.0 112.8L640.1 115.8L640.2 112.7L640.3 114.8L640.4 109.2L640.5 113.6L640.6 112.9L640.7 115.0L640.8 114.0L640.9 115.3L641.0 111.7L641.1 113.7L641.2 112.4L641.3 114.3L641.4 114.0L641.5 111.2L641.6 114.8L641.7 116.1L641.8 112.6L641.9 115.1L642.0 114.0L642.1 111.8L642.2 114.6L642.3 111.9L642.4 114.3L642.5 110.9L642.6 111.2L642.7 114.0L642.8 113.6L642.9 114.6L643.0 113.0L643.1 111.5L643.2 115.6L643.3 111.9L643.4 115.4L643.5 114.7L643.6 116.1L643.7 110.0L643.8 113.2L643.9 112.9L644.0 114.4L644.0 111.6L644.1 116.6L644.2 113.3L644.3 109.8L644.4 113.9L644.5 113.3L644.6 112.3L644.7 114.6L644.8 113.3L644.9 111.8L645.0 113.0L645.1 112.7L645.2 113.9L645.3 112.8L645.4 113.3L645.4 111.0L645.5 112.2L645.6 113.7L645.7 117.2L645.8 112.2L645.9 112.2L646.0 114.8L646.1 116.5L646.2 115.2L646.3 111.9L646.4 115.1L646.4 114.1L646.5 113.0L646.6 111.4L646.7 113.4L646.8 113.5L646.9 114.3L647.0 110.8L647.1 111.7L647.2 113.5L647.2 115.6L647.3 114.7L647.4 112.5L647.5 114.5L647.6 112.0L647.7 112.8L647.8 112.9L647.9 112.4L647.9 112.6L648.0 114.8L648.1 113.9L648.2 109.7" fill="none" stroke="#EDB120" stroke-width="1.6" stroke-linejoin="round" />
<path d="M381.0 69.3L410.8 75.3L428.2 78.2L440.6 82.4L450.2 85.6L458.0 89.3L464.7 90.9L470.4 93.0L475.5 94.7L480.0 97.4L484.1 94.3L487.8 97.2L491.3 97.4L494.5 99.2L497.4 99.6L500.2 100.1L502.8 100.3L505.3 102.6L507.6 101.1L509.8 103.0L511.9 104.0L513.9 103.6L515.8 105.2L517.6 104.2L519.4 104.3L521.1 105.1L522.7 104.7L524.3 105.8L525.8 105.8L527.2 107.4L528.6 106.1L530.0 107.0L531.3 106.7L532.6 106.4L533.9 106.2L535.1 108.1L536.3 108.2L537.4 107.1L538.5 106.4L539.6 88.3L540.7 106.3L541.7 106.0L542.7 106.9L543.7 107.6L544.7 108.8L545.6 108.8L546.5 108.5L547.4 107.8L548.3 107.9L549.2 46.7L550.0 108.6L550.9 107.8L551.7 108.4L552.5 108.4L553.3 108.5L554.1 109.5L554.8 110.2L555.6 108.6L556.3 108.8L557.0 109.6L557.7 109.9L558.4 106.9L559.1 110.4L559.8 109.9L560.5 109.4L561.1 111.0L561.8 109.6L562.4 107.7L563.0 108.7L563.7 109.0L564.3 109.1L564.9 109.7L565.5 108.7L566.1 110.0L566.6 110.4L567.2 109.8L567.8 108.8L568.3 109.5L568.9 109.1L569.4 112.4L569.9 108.5L570.5 107.2L571.0 108.4L571.5 110.4L572.0 111.0L572.5 109.7L573.0 111.2L573.5 109.2L574.0 110.7L574.5 108.9L574.9 108.4L575.4 112.6L575.9 109.8L576.3 111.0L576.8 111.9L577.2 110.9L577.7 110.4L578.1 108.9L578.6 112.1L579.0 108.9L579.4 107.7L579.9 109.5L580.3 109.5L580.7 110.2L581.1 111.7L581.5 109.5L581.9 109.7L582.3 109.3L582.7 107.0L583.1 109.3L583.5 109.7L583.9 108.2L584.3 111.9L584.6 111.7L585.0 110.7L585.4 111.0L585.8 109.3L586.1 110.6L586.5 108.0L586.8 108.3L587.2 109.2L587.5 110.7L587.9 109.4L588.2 109.2L588.6 111.6L588.9 109.8L589.3 109.3L589.6 109.9L589.9 108.2L590.3 108.6L590.6 111.3L590.9 110.0L591.3 111.3L591.6 109.4L591.9 111.3L592.2 109.0L592.5 109.7L592.8 108.9L593.2 110.4L593.5 112.1L593.8 107.9L594.1 110.4L594.4 108.4L594.7 109.6L595.0 109.3L595.3 107.8L595.6 109.8L595.9 108.3L596.1 112.2L596.4 92.0L596.7 110.5L597.0 110.4L597.3 110.2L597.6 109.7L597.8 108.0L598.1 112.7L598.4 110.1L598.7 111.2L598.9 108.6L599.2 110.8L599.5 109.6L599.7 110.7L600.0 109.3L600.3 108.8L600.5 110.7L600.8 110.1L601.0 112.1L601.3 109.8L601.6 109.0L601.8 111.0L602.1 108.7L602.3 113.0L602.6 112.7L602.8 112.1L603.1 110.9L603.3 110.2L603.5 110.3L603.8 110.3L604.0 109.2L604.3 110.9L604.5 111.9L604.7 111.9L605.0 107.3L605.2 113.4L605.5 110.4L605.7 108.2L605.9 109.5L606.1 111.4L606.4 110.2L606.6 109.0L606.8 108.5L607.0 111.5L607.3 109.1L607.5 109.9L607.7 108.7L607.9 108.3L608.2 110.7L608.4 112.2L608.6 109.7L608.8 107.7L609.0 109.2L609.2 109.8L609.4 106.7L609.7 111.4L609.9 108.6L610.1 110.7L610.3 109.7L610.5 109.6L610.7 107.5L610.9 110.9L611.1 110.3L611.3 111.8L611.5 108.8L611.7 110.0L611.9 108.7L612.1 110.8L612.3 109.7L612.5 107.7L612.7 109.4L612.9 108.2L613.1 108.3L613.3 109.5L613.5 111.1L613.7 107.4L613.9 108.6L614.1 107.3L614.2 111.6L614.4 111.0L614.6 111.6L614.8 109.8L615.0 107.0L615.2 107.6L615.4 108.4L615.6 108.1L615.7 107.2L615.9 108.7L616.1 107.6L616.3 107.9L616.5 111.2L616.6 108.6L616.8 106.0L617.0 108.5L617.2 108.1L617.4 108.7L617.5 108.5L617.7 106.1L617.9 108.1L618.1 109.1L618.2 112.1L618.4 108.4L618.6 110.4L618.7 110.2L618.9 106.5L619.1 106.6L619.2 110.5L619.4 106.5L619.6 107.1L619.8 108.9L619.9 106.8L620.1 110.2L620.2 109.7L620.4 110.0L620.6 109.6L620.7 106.7L620.9 110.0L621.1 109.8L621.2 109.5L621.4 107.9L621.5 108.7L621.7 106.9L621.9 109.3L622.0 110.2L622.2 109.0L622.3 108.3L622.5 109.7L622.6 108.0L622.8 105.8L623.0 109.3L623.1 108.4L623.3 106.5L623.4 109.5L623.6 109.8L623.7 110.2L623.9 108.1L624.0 107.9L624.2 108.9L624.3 108.7L624.5 106.9L624.6 107.5L624.8 110.9L624.9 108.9L625.1 108.8L625.2 107.9L625.4 109.3L625.5 110.0L625.7 109.7L625.8 111.7L625.9 109.1L626.1 110.0L626.2 108.5L626.4 110.7L626.5 109.9L626.7 110.7L626.8 110.9L626.9 108.3L627.1 110.0L627.2 108.7L627.4 111.1L627.5 109.3L627.6 112.0L627.8 110.2L627.9 110.3L628.1 108.7L628.2 109.3L628.3 109.9L628.5 108.4L628.6 109.4L628.7 108.9L628.9 108.6L629.0 109.8L629.1 110.2L629.3 109.3L629.4 110.4L629.5 109.2L629.7 108.1L629.8 108.5L629.9 110.3L630.1 111.7L630.2 109.9L630.3 110.0L630.5 108.1L630.6 110.4L630.7 110.1L630.9 108.7L631.0 110.5L631.1 110.0L631.2 107.2L631.4 107.6L631.5 108.9L631.6 109.4L631.7 111.3L631.9 109.0L632.0 109.7L632.1 109.5L632.2 110.6L632.4 109.9L632.5 110.1L632.6 109.4L632.7 107.7L632.9 109.3L633.0 112.4L633.1 111.3L633.2 112.3L633.4 111.1L633.5 109.0L633.6 109.3L633.7 110.8L633.8 109.5L634.0 111.0L634.1 112.1L634.2 112.0L634.3 111.2L634.4 107.7L634.5 111.9L634.7 108.0L634.8 107.9L634.9 110.2L635.0 110.0L635.1 110.9L635.3 110.0L635.4 108.9L635.5 109.9L635.6 108.4L635.7 108.1L635.8 109.4L635.9 109.4L636.1 110.0L636.2 109.4L636.3 111.7L636.4 109.3L636.5 109.6L636.6 111.3L636.7 106.7L636.8 111.5L637.0 111.3L637.1 109.5L637.2 113.0L637.3 111.2L637.4 112.3L637.5 111.5L637.6 110.2L637.7 109.5L637.8 108.3L638.0 108.8L638.1 108.2L638.2 109.1L638.3 110.7L638.4 108.3L638.5 110.8L638.6 111.0L638.7 107.7L638.8 108.8L638.9 109.7L639.0 108.9L639.1 108.7L639.2 112.2L639.3 110.2L639.5 111.9L639.6 109.9L639.7 111.1L639.8 107.9L639.9 109.3L640.0 111.3L640.1 110.1L640.2 112.0L640.3 110.0L640.4 109.2L640.5 109.7L640.6 113.1L640.7 110.6L640.8 109.3L640.9 109.6L641.0 108.3L641.1 112.1L641.2 109.3L641.3 111.1L641.4 109.8L641.5 109.5L641.6 109.0L641.7 111.0L641.8 109.8L641.9 112.0L642.0 112.3L642.1 109.3L642.2 110.2L642.3 112.7L642.4 111.5L642.5 110.1L642.6 107.7L642.7 108.5L642.8 108.9L642.9 113.0L643.0 110.3L643.1 109.4L643.2 109.5L643.3 109.5L643.4 110.5L643.5 107.4L643.6 107.8L643.7 110.3L643.8 111.7L643.9 106.9L644.0 111.1L644.0 108.3L644.1 107.2L644.2 111.7L644.3 109.7L644.4 110.7L644.5 109.4L644.6 109.7L644.7 107.1L644.8 109.3L644.9 110.2L645.0 108.4L645.1 110.6L645.2 110.8L645.3 106.7L645.4 111.5L645.4 111.0L645.5 110.2L645.6 111.9L645.7 113.6L645.8 108.6L645.9 111.5L646.0 111.1L646.1 110.8L646.2 111.8L646.3 112.0L646.4 110.0L646.4 106.4L646.5 109.1L646.6 109.1L646.7 112.7L646.8 110.3L646.9 112.2L647.0 109.0L647.1 110.6L647.2 110.2L647.2 110.4L647.3 111.2L647.4 112.7L647.5 109.4L647.6 112.5L647.7 112.2L647.8 110.8L647.9 111.4L647.9 109.9L648.0 108.7L648.1 109.9L648.2 110.0" fill="none" stroke="#7E2F8E" stroke-width="1.6" stroke-linejoin="round" />
<path d="M381.0 72.8L410.8 77.2L428.2 81.3L440.6 89.7L450.2 91.0L458.0 95.1L464.7 97.6L470.4 100.6L475.5 101.8L480.0 103.1L484.1 106.7L487.8 106.2L491.3 105.7L494.5 107.5L497.4 107.6L500.2 108.7L502.8 110.0L505.3 109.9L507.6 108.5L509.8 108.4L511.9 110.9L513.9 111.5L515.8 112.1L517.6 114.7L519.4 114.5L521.1 113.6L522.7 114.0L524.3 116.8L525.8 115.9L527.2 118.4L528.6 118.9L530.0 120.4L531.3 117.7L532.6 119.1L533.9 116.9L535.1 118.9L536.3 119.0L537.4 120.9L538.5 117.8L539.6 88.3L540.7 119.4L541.7 121.3L542.7 118.4L543.7 118.3L544.7 119.9L545.6 119.2L546.5 118.9L547.4 118.4L548.3 119.2L549.2 46.7L550.0 119.9L550.9 120.5L551.7 120.6L552.5 122.9L553.3 121.5L554.1 120.0L554.8 121.0L555.6 122.3L556.3 121.4L557.0 123.9" fill="none" stroke="#000" stroke-width="1.6" stroke-linejoin="round" stroke-dasharray="5 3"/>
<path d="M556.3 121.4L557.0 123.9L557.7 122.5L558.4 121.9L559.1 121.9L559.8 123.6L560.5 122.2L561.1 121.4L561.8 123.9L562.4 123.0L563.0 125.5L563.7 126.1L564.3 123.5L564.9 124.1L565.5 124.0L566.1 124.8L566.6 124.5L567.2 123.4L567.8 122.5L568.3 124.5L568.9 126.0L569.4 123.0L569.9 123.7L570.5 123.7L571.0 124.2L571.5 122.0L572.0 124.4L572.5 123.9L573.0 126.4L573.5 125.1L574.0 125.2L574.5 124.6L574.9 124.2L575.4 125.3L575.9 122.7L576.3 125.7L576.8 125.1L577.2 124.4L577.7 126.0L578.1 124.0L578.6 124.0L579.0 125.0L579.4 122.6L579.9 124.6L580.3 124.4L580.7 125.7L581.1 126.5L581.5 125.4L581.9 125.1L582.3 125.2L582.7 123.9L583.1 127.3L583.5 125.9L583.9 126.7L584.3 123.3L584.6 125.3L585.0 125.3L585.4 125.9L585.8 123.7L586.1 125.2L586.5 124.5L586.8 127.0L587.2 123.5L587.5 124.3L587.9 124.1L588.2 123.4L588.6 125.0L588.9 124.9L589.3 124.0L589.6 124.3L589.9 125.0L590.3 124.7L590.6 125.3L590.9 124.0L591.3 123.7L591.6 124.8L591.9 122.7L592.2 126.5L592.5 125.0L592.8 122.9L593.2 125.3L593.5 126.6L593.8 123.2L594.1 124.2L594.4 126.1L594.7 123.9L595.0 126.0L595.3 126.3L595.6 125.0L595.9 125.4L596.1 126.1L596.4 46.7L596.7 126.0L597.0 124.7L597.3 124.8L597.6 124.0L597.8 125.3L598.1 126.4L598.4 126.3L598.7 125.1L598.9 123.1L599.2 123.9L599.5 125.6L599.7 123.8L600.0 126.2L600.3 123.7L600.5 125.3L600.8 124.0L601.0 124.1L601.3 125.2L601.6 124.5L601.8 126.1L602.1 124.9L602.3 123.6L602.6 120.1L602.8 124.0L603.1 124.8L603.3 126.0L603.5 123.6L603.8 126.8L604.0 125.8L604.3 124.5L604.5 126.3L604.7 123.1L605.0 123.6L605.2 125.5L605.5 125.5L605.7 126.4L605.9 126.5L606.1 124.4L606.4 124.2L606.6 124.5L606.8 124.6L607.0 125.6L607.3 124.5L607.5 126.6L607.7 124.9L607.9 123.2L608.2 123.3L608.4 125.5L608.6 125.3L608.8 123.3L609.0 122.8L609.2 126.7L609.4 125.4L609.7 124.6L609.9 123.5L610.1 125.9L610.3 124.2L610.5 125.3L610.7 122.1L610.9 124.4L611.1 125.1L611.3 125.3L611.5 123.7L611.7 124.1L611.9 126.2L612.1 124.7L612.3 126.5L612.5 125.8L612.7 126.5L612.9 126.5L613.1 125.8L613.3 126.1L613.5 124.3L613.7 124.0L613.9 125.2L614.1 126.3L614.2 124.0L614.4 127.4L614.6 127.3L614.8 124.1L615.0 124.2L615.2 123.8L615.4 125.2L615.6 126.5L615.7 125.6L615.9 124.3L616.1 125.9L616.3 125.8L616.5 126.7L616.6 126.4L616.8 123.9L617.0 124.4L617.2 126.4L617.4 126.3L617.5 125.7L617.7 124.3L617.9 126.4L618.1 125.2L618.2 127.6L618.4 106.5L618.6 124.5L618.7 123.9L618.9 126.4L619.1 125.9L619.2 124.0L619.4 125.5L619.6 125.7L619.8 124.4L619.9 124.8L620.1 123.6L620.2 124.0L620.4 125.7L620.6 125.1L620.7 125.1L620.9 126.7L621.1 126.2L621.2 123.8L621.4 127.0L621.5 123.8L621.7 124.7L621.9 125.2L622.0 124.3L622.2 124.4L622.3 123.5L622.5 125.5L622.6 125.3L622.8 125.3L623.0 122.7L623.1 123.8L623.3 126.2L623.4 125.4L623.6 125.9L623.7 125.0L623.9 124.8L624.0 122.2L624.2 127.3L624.3 123.7L624.5 124.5L624.6 125.9L624.8 125.2L624.9 125.6L625.1 125.0L625.2 123.8L625.4 126.9L625.5 123.4L625.7 125.5L625.8 123.1L625.9 124.5L626.1 123.5L626.2 124.3L626.4 123.7L626.5 125.0L626.7 126.1L626.8 124.2L626.9 124.1L627.1 122.4L627.2 127.6L627.4 125.3L627.5 123.7L627.6 126.6L627.8 125.3L627.9 122.4L628.1 123.3L628.2 126.2L628.3 123.2L628.5 123.6L628.6 124.1L628.7 124.6L628.9 124.7L629.0 126.2L629.1 125.7L629.3 124.1L629.4 124.9L629.5 122.7L629.7 125.5L629.8 128.1L629.9 125.5L630.1 124.7L630.2 124.6L630.3 125.0L630.5 126.1L630.6 123.2L630.7 125.9L630.9 124.2L631.0 125.4L631.1 126.6L631.2 123.3L631.4 128.3L631.5 126.1L631.6 124.5L631.7 125.5L631.9 124.1L632.0 125.2L632.1 125.6L632.2 122.3L632.4 125.3L632.5 125.3L632.6 126.5L632.7 126.0L632.9 124.2L633.0 124.3L633.1 125.1L633.2 126.0L633.4 124.2L633.5 127.3L633.6 125.5L633.7 125.4L633.8 126.2L634.0 124.9L634.1 125.9L634.2 126.1L634.3 122.8L634.4 124.1L634.5 123.5L634.7 125.0L634.8 123.8L634.9 124.1L635.0 123.5L635.1 122.0L635.3 125.4L635.4 124.7L635.5 125.1L635.6 129.6L635.7 126.9L635.8 125.1L635.9 124.3L636.1 125.8L636.2 123.6L636.3 123.4L636.4 125.6L636.5 123.2L636.6 122.8L636.7 124.5L636.8 126.3L637.0 123.2L637.1 125.3L637.2 125.6L637.3 124.9L637.4 125.8L637.5 123.7L637.6 124.1L637.7 123.5L637.8 124.3L638.0 126.1L638.1 125.3L638.2 123.9L638.3 125.6L638.4 121.3L638.5 125.4L638.6 125.8L638.7 123.6L638.8 124.1L638.9 125.1L639.0 125.4L639.1 124.5L639.2 124.0L639.3 124.1L639.5 125.5L639.6 124.5L639.7 124.0L639.8 124.1L639.9 129.1L640.0 126.3L640.1 126.1L640.2 125.4L640.3 124.9L640.4 123.9L640.5 124.3L640.6 125.3L640.7 125.1L640.8 122.8L640.9 125.9L641.0 124.7L641.1 123.1L641.2 124.7L641.3 127.8L641.4 124.6L641.5 125.6L641.6 125.3L641.7 123.7L641.8 124.5L641.9 125.5L642.0 123.9L642.1 124.5L642.2 125.0L642.3 124.7L642.4 124.8L642.5 125.6L642.6 125.7L642.7 125.1L642.8 126.4L642.9 126.8L643.0 123.4L643.1 125.4L643.2 125.2L643.3 125.3L643.4 125.1L643.5 125.1L643.6 125.0L643.7 126.2L643.8 123.9L643.9 126.0L644.0 123.8L644.0 127.7L644.1 126.5L644.2 123.8L644.3 125.3L644.4 126.0L644.5 124.6L644.6 126.5L644.7 125.0L644.8 128.1L644.9 125.7L645.0 126.0L645.1 124.4L645.2 124.0L645.3 126.3L645.4 123.0L645.4 125.9L645.5 127.9L645.6 128.3L645.7 123.1L645.8 125.3L645.9 126.0L646.0 126.1L646.1 126.6L646.2 123.3L646.3 125.3L646.4 122.8L646.4 125.4L646.5 128.3L646.6 124.0L646.7 125.6L646.8 125.5L646.9 123.1L647.0 125.5L647.1 123.6L647.2 125.2L647.2 126.2L647.3 124.5L647.4 126.0L647.5 123.5L647.6 123.9L647.7 125.1L647.8 124.3L647.9 124.4L647.9 125.5L648.0 124.0L648.1 125.5L648.2 124.3" fill="none" stroke="#000" stroke-width="1.5" stroke-linejoin="round" />
</g>
<rect x="381.00" y="13.60" width="267.40" height="123.80" fill="none" stroke="#4a4a4a" stroke-width="1.1" />
<rect x="546.00" y="14.00" width="102.00" height="72.00" fill="#fff" stroke="#4a4a4a" stroke-width="1.1" />
<line x1="550.00" y1="22.60" x2="589.00" y2="22.60" stroke="#3a95d8" stroke-width="1.3" />
<text id="L_b_leg0" transform="translate(592.40 26.40)" font-size="10.5" text-anchor="start" font-weight="normal" fill="#222222" stroke="#222222" stroke-width="0.2">channel 1</text>
<line x1="550.00" y1="36.60" x2="589.00" y2="36.60" stroke="#D95319" stroke-width="1.3" />
<text id="L_b_leg1" transform="translate(592.40 40.40)" font-size="10.5" text-anchor="start" font-weight="normal" fill="#222222" stroke="#222222" stroke-width="0.2">channel 2</text>
<line x1="550.00" y1="50.00" x2="589.00" y2="50.00" stroke="#EDB120" stroke-width="1.3" />
<text id="L_b_leg2" transform="translate(592.40 53.80)" font-size="10.5" text-anchor="start" font-weight="normal" fill="#222222" stroke="#222222" stroke-width="0.2">channel 3</text>
<line x1="550.00" y1="64.00" x2="589.00" y2="64.00" stroke="#7E2F8E" stroke-width="1.3" />
<text id="L_b_leg3" transform="translate(592.40 67.80)" font-size="10.5" text-anchor="start" font-weight="normal" fill="#222222" stroke="#222222" stroke-width="0.2">channel 4</text>
<line x1="550.00" y1="77.60" x2="589.00" y2="77.60" stroke="#000" stroke-width="1.4" stroke-dasharray="6 4"/>
<text id="L_b_leg4" transform="translate(592.40 81.40)" font-size="10.5" text-anchor="start" font-weight="normal" fill="#222222" stroke="#222222" stroke-width="0.2">mux output</text>
<text id="L_b_y5" transform="translate(372.80 57.40) scale(1.1 1)" font-size="12" text-anchor="end" font-weight="normal" fill="#222222" stroke="#222222" stroke-width="0.2">10<tspan font-size="9.6" dy="-5.2">-5</tspan></text>
<text id="L_b_y6" transform="translate(372.80 110.90) scale(1.1 1)" font-size="12" text-anchor="end" font-weight="normal" fill="#222222" stroke="#222222" stroke-width="0.2">10<tspan font-size="9.6" dy="-5.2">-6</tspan></text>
<text id="L_b_x0" transform="translate(380.20 161.00) scale(1.1 1)" font-size="12" text-anchor="middle" font-weight="normal" fill="#222222" stroke="#222222" stroke-width="0.2">10<tspan font-size="9.6" dy="-5.2">0</tspan></text>
<text id="L_b_x1" transform="translate(478.80 160.10) scale(1.1 1)" font-size="12" text-anchor="middle" font-weight="normal" fill="#222222" stroke="#222222" stroke-width="0.2">10<tspan font-size="9.6" dy="-5.2">1</tspan></text>
<text id="L_b_x2" transform="translate(578.50 160.10) scale(1.1 1)" font-size="12" text-anchor="middle" font-weight="normal" fill="#222222" stroke="#222222" stroke-width="0.2">10<tspan font-size="9.6" dy="-5.2">2</tspan></text>
<text id="L_b_xl" transform="translate(514.40 179.20) scale(1.1 1)" font-size="12" text-anchor="middle" font-weight="normal" fill="#222222" stroke="#222222" stroke-width="0.2">Frequency (Hz)</text>
<text id="L_b_yl" transform="translate(341.50 74.50) rotate(-90) scale(1.1 1)" font-size="12" text-anchor="middle" font-weight="normal" fill="#222222" stroke="#222222" stroke-width="0.2">V/sqrt(Hz)</text>
<text id="L_b_lab" transform="translate(361.80 175.50) scale(1.2 1)" font-size="13" text-anchor="start" font-weight="normal" fill="#222222" stroke="#222222" stroke-width="0.2">b)</text>
<line x1="94.33" y1="206.00" x2="94.33" y2="338.00" stroke="#e2e2e2" stroke-width="0.8" />
<line x1="140.67" y1="206.00" x2="140.67" y2="338.00" stroke="#e2e2e2" stroke-width="0.8" />
<line x1="187.00" y1="206.00" x2="187.00" y2="338.00" stroke="#e2e2e2" stroke-width="0.8" />
<line x1="233.33" y1="206.00" x2="233.33" y2="338.00" stroke="#e2e2e2" stroke-width="0.8" />
<line x1="279.67" y1="206.00" x2="279.67" y2="338.00" stroke="#e2e2e2" stroke-width="0.8" />
<line x1="48.00" y1="311.60" x2="326.00" y2="311.60" stroke="#e2e2e2" stroke-width="0.8" />
<line x1="48.00" y1="285.20" x2="326.00" y2="285.20" stroke="#e2e2e2" stroke-width="0.8" />
<line x1="48.00" y1="258.80" x2="326.00" y2="258.80" stroke="#e2e2e2" stroke-width="0.8" />
<line x1="48.00" y1="232.40" x2="326.00" y2="232.40" stroke="#e2e2e2" stroke-width="0.8" />
<rect x="112.87" y="285.20" width="14.83" height="52.80" fill="#0072BD" stroke="#000" stroke-width="0.9" />
<rect x="127.69" y="258.80" width="14.83" height="79.20" fill="#0072BD" stroke="#000" stroke-width="0.9" />
<rect x="142.52" y="232.40" width="14.83" height="105.60" fill="#0072BD" stroke="#000" stroke-width="0.9" />
<rect x="157.35" y="232.40" width="14.83" height="105.60" fill="#0072BD" stroke="#000" stroke-width="0.9" />
<rect x="172.17" y="285.20" width="14.83" height="52.80" fill="#0072BD" stroke="#000" stroke-width="0.9" />
<rect x="187.00" y="206.00" width="14.83" height="132.00" fill="#0072BD" stroke="#000" stroke-width="0.9" />
<rect x="201.83" y="206.00" width="14.83" height="132.00" fill="#0072BD" stroke="#000" stroke-width="0.9" />
<rect x="216.65" y="232.40" width="14.83" height="105.60" fill="#0072BD" stroke="#000" stroke-width="0.9" />
<rect x="231.48" y="311.60" width="14.83" height="26.40" fill="#0072BD" stroke="#000" stroke-width="0.9" />
<rect x="246.31" y="311.60" width="14.83" height="26.40" fill="#0072BD" stroke="#000" stroke-width="0.9" />
<rect x="275.96" y="311.60" width="14.83" height="26.40" fill="#0072BD" stroke="#000" stroke-width="0.9" />
<rect x="290.79" y="311.60" width="14.83" height="26.40" fill="#0072BD" stroke="#000" stroke-width="0.9" />
<line x1="48.00" y1="338.00" x2="48.00" y2="335.00" stroke="#4a4a4a" stroke-width="1" />
<line x1="48.00" y1="206.00" x2="48.00" y2="209.00" stroke="#4a4a4a" stroke-width="1" />
<line x1="94.33" y1="338.00" x2="94.33" y2="335.00" stroke="#4a4a4a" stroke-width="1" />
<line x1="94.33" y1="206.00" x2="94.33" y2="209.00" stroke="#4a4a4a" stroke-width="1" />
<line x1="140.67" y1="338.00" x2="140.67" y2="335.00" stroke="#4a4a4a" stroke-width="1" />
<line x1="140.67" y1="206.00" x2="140.67" y2="209.00" stroke="#4a4a4a" stroke-width="1" />
<line x1="187.00" y1="338.00" x2="187.00" y2="335.00" stroke="#4a4a4a" stroke-width="1" />
<line x1="187.00" y1="206.00" x2="187.00" y2="209.00" stroke="#4a4a4a" stroke-width="1" />
<line x1="233.33" y1="338.00" x2="233.33" y2="335.00" stroke="#4a4a4a" stroke-width="1" />
<line x1="233.33" y1="206.00" x2="233.33" y2="209.00" stroke="#4a4a4a" stroke-width="1" />
<line x1="279.67" y1="338.00" x2="279.67" y2="335.00" stroke="#4a4a4a" stroke-width="1" />
<line x1="279.67" y1="206.00" x2="279.67" y2="209.00" stroke="#4a4a4a" stroke-width="1" />
<line x1="326.00" y1="338.00" x2="326.00" y2="335.00" stroke="#4a4a4a" stroke-width="1" />
<line x1="326.00" y1="206.00" x2="326.00" y2="209.00" stroke="#4a4a4a" stroke-width="1" />
<line x1="48.00" y1="338.00" x2="51.00" y2="338.00" stroke="#4a4a4a" stroke-width="1" />
<line x1="326.00" y1="338.00" x2="323.00" y2="338.00" stroke="#4a4a4a" stroke-width="1" />
<line x1="48.00" y1="311.60" x2="51.00" y2="311.60" stroke="#4a4a4a" stroke-width="1" />
<line x1="326.00" y1="311.60" x2="323.00" y2="311.60" stroke="#4a4a4a" stroke-width="1" />
<line x1="48.00" y1="285.20" x2="51.00" y2="285.20" stroke="#4a4a4a" stroke-width="1" />
<line x1="326.00" y1="285.20" x2="323.00" y2="285.20" stroke="#4a4a4a" stroke-width="1" />
<line x1="48.00" y1="258.80" x2="51.00" y2="258.80" stroke="#4a4a4a" stroke-width="1" />
<line x1="326.00" y1="258.80" x2="323.00" y2="258.80" stroke="#4a4a4a" stroke-width="1" />
<line x1="48.00" y1="232.40" x2="51.00" y2="232.40" stroke="#4a4a4a" stroke-width="1" />
<line x1="326.00" y1="232.40" x2="323.00" y2="232.40" stroke="#4a4a4a" stroke-width="1" />
<line x1="48.00" y1="206.00" x2="51.00" y2="206.00" stroke="#4a4a4a" stroke-width="1" />
<line x1="326.00" y1="206.00" x2="323.00" y2="206.00" stroke="#4a4a4a" stroke-width="1" />
<path d="M59.1 336.8L61.3 336.6L63.4 336.4L65.6 336.2L67.7 335.9L69.9 335.6L72.0 335.2L74.2 334.8L76.3 334.3L78.5 333.8L80.6 333.2L82.8 332.6L84.9 331.9L87.1 331.1L89.2 330.2L91.4 329.2L93.5 328.2L95.7 327.0L97.8 325.8L100.0 324.4L102.1 322.9L104.3 321.3L106.4 319.6L108.6 317.7L110.7 315.7L112.9 313.6L115.0 311.3L117.1 308.9L119.3 306.4L121.4 303.7L123.6 300.9L125.7 298.0L127.9 295.0L130.0 291.8L132.2 288.5L134.3 285.2L136.5 281.7L138.6 278.2L140.8 274.6L142.9 271.0L145.1 267.3L147.2 263.7L149.4 260.0L151.5 256.4L153.7 252.8L155.8 249.3L158.0 245.9L160.1 242.6L162.3 239.4L164.4 236.4L166.6 233.6L168.7 230.9L170.9 228.5L173.0 226.3L175.2 224.3L177.3 222.6L179.5 221.2L181.6 220.0L183.8 219.2L185.9 218.6L188.1 218.3L190.2 218.4L192.4 218.7L194.5 219.4L196.7 220.3L198.8 221.5L201.0 223.1L203.1 224.8L205.3 226.9L207.4 229.1L209.6 231.6L211.7 234.4L213.9 237.2L216.0 240.3L218.2 243.5L220.3 246.9L222.5 250.3L224.6 253.8L226.8 257.4L228.9 261.0L231.1 264.7L233.2 268.4L235.4 272.0L237.5 275.6L239.7 279.2L241.8 282.7L244.0 286.1L246.1 289.4L248.3 292.7L250.4 295.8L252.6 298.8L254.7 301.7L256.9 304.5L259.0 307.1L261.1 309.6L263.3 312.0L265.4 314.2L267.6 316.3L269.7 318.2L271.9 320.1L274.0 321.8L276.2 323.3L278.3 324.8L280.5 326.1L282.6 327.4L284.8 328.5L286.9 329.5L289.1 330.5L291.2 331.3L293.4 332.1L295.5 332.8L297.7 333.4L299.8 334.0L302.0 334.5L304.1 334.9L306.3 335.3L308.4 335.7L310.6 336.0L312.7 336.2L314.9 336.5" fill="none" stroke="#D95319" stroke-width="2.8" stroke-linejoin="round" />
<rect x="48.00" y="206.00" width="278.00" height="132.00" fill="none" stroke="#4a4a4a" stroke-width="1.1" />
<text id="L_c_y0" transform="translate(42.70 343.20) scale(1.1 1)" font-size="12" text-anchor="end" font-weight="normal" fill="#222222" stroke="#222222" stroke-width="0.2">0</text>
<text id="L_c_y1" transform="translate(43.00 315.90) scale(1.1 1)" font-size="12" text-anchor="end" font-weight="normal" fill="#222222" stroke="#222222" stroke-width="0.2">1</text>
<text id="L_c_y2" transform="translate(43.00 289.50) scale(1.1 1)" font-size="12" text-anchor="end" font-weight="normal" fill="#222222" stroke="#222222" stroke-width="0.2">2</text>
<text id="L_c_y3" transform="translate(43.00 263.10) scale(1.1 1)" font-size="12" text-anchor="end" font-weight="normal" fill="#222222" stroke="#222222" stroke-width="0.2">3</text>
<text id="L_c_y4" transform="translate(43.00 236.70) scale(1.1 1)" font-size="12" text-anchor="end" font-weight="normal" fill="#222222" stroke="#222222" stroke-width="0.2">4</text>
<text id="L_c_y5" transform="translate(42.20 211.80) scale(1.1 1)" font-size="12" text-anchor="end" font-weight="normal" fill="#222222" stroke="#222222" stroke-width="0.2">5</text>
<text id="L_c_x-15" transform="translate(47.50 355.20) scale(1.1 1)" font-size="12" text-anchor="middle" font-weight="normal" fill="#222222" stroke="#222222" stroke-width="0.2">-15</text>
<text id="L_c_x-10" transform="translate(94.33 356.00) scale(1.1 1)" font-size="12" text-anchor="middle" font-weight="normal" fill="#222222" stroke="#222222" stroke-width="0.2">-10</text>
<text id="L_c_x-5" transform="translate(140.67 356.00) scale(1.1 1)" font-size="12" text-anchor="middle" font-weight="normal" fill="#222222" stroke="#222222" stroke-width="0.2">-5</text>
<text id="L_c_x0" transform="translate(187.00 356.00) scale(1.1 1)" font-size="12" text-anchor="middle" font-weight="normal" fill="#222222" stroke="#222222" stroke-width="0.2">0</text>
<text id="L_c_x5" transform="translate(233.33 356.00) scale(1.1 1)" font-size="12" text-anchor="middle" font-weight="normal" fill="#222222" stroke="#222222" stroke-width="0.2">5</text>
<text id="L_c_x10" transform="translate(279.67 356.00) scale(1.1 1)" font-size="12" text-anchor="middle" font-weight="normal" fill="#222222" stroke="#222222" stroke-width="0.2">10</text>
<text id="L_c_x15" transform="translate(325.00 356.60) scale(1.1 1)" font-size="12" text-anchor="middle" font-weight="normal" fill="#222222" stroke="#222222" stroke-width="0.2">15</text>
<text id="L_c_mu" transform="translate(282.70 222.30) scale(1.1 1)" font-size="12.9" text-anchor="middle" font-weight="normal" fill="#222222" stroke="#222222" stroke-width="0.2">μ<tspan font-size="9" dy="3">o</tspan><tspan dy="-3">=0.2mV</tspan></text>
<text id="L_c_sig" transform="translate(282.70 240.70) scale(1.1 1)" font-size="12.9" text-anchor="middle" font-weight="normal" fill="#222222" stroke="#222222" stroke-width="0.2">σ<tspan font-size="9" dy="3">o</tspan><tspan dy="-3">=4.6mV</tspan></text>
<text id="L_c_xl" transform="translate(187.00 373.80) scale(1.1 1)" font-size="12" text-anchor="middle" font-weight="normal" fill="#222222" stroke="#222222" stroke-width="0.2">Offset [mV]</text>
<text id="L_c_yl" transform="translate(25.70 272.40) rotate(-90) scale(1.1 1)" font-size="12" text-anchor="middle" font-weight="normal" fill="#222222" stroke="#222222" stroke-width="0.2">Occurances [-]</text>
<text id="L_c_lab" transform="translate(13.70 375.30) scale(1.2 1)" font-size="13" text-anchor="start" font-weight="normal" fill="#222222" stroke="#222222" stroke-width="0.2">c)</text>
<line x1="409.96" y1="203.60" x2="409.96" y2="335.60" stroke="#e2e2e2" stroke-width="0.8" />
<line x1="441.72" y1="203.60" x2="441.72" y2="335.60" stroke="#e2e2e2" stroke-width="0.8" />
<line x1="473.48" y1="203.60" x2="473.48" y2="335.60" stroke="#e2e2e2" stroke-width="0.8" />
<line x1="505.24" y1="203.60" x2="505.24" y2="335.60" stroke="#e2e2e2" stroke-width="0.8" />
<line x1="537.00" y1="203.60" x2="537.00" y2="335.60" stroke="#e2e2e2" stroke-width="0.8" />
<line x1="568.76" y1="203.60" x2="568.76" y2="335.60" stroke="#e2e2e2" stroke-width="0.8" />
<line x1="600.52" y1="203.60" x2="600.52" y2="335.60" stroke="#e2e2e2" stroke-width="0.8" />
<line x1="632.28" y1="203.60" x2="632.28" y2="335.60" stroke="#e2e2e2" stroke-width="0.8" />
<line x1="378.20" y1="291.60" x2="656.00" y2="291.60" stroke="#e2e2e2" stroke-width="0.8" />
<line x1="378.20" y1="247.60" x2="656.00" y2="247.60" stroke="#e2e2e2" stroke-width="0.8" />
<rect x="441.72" y="247.60" width="31.76" height="88.00" fill="#0072BD" stroke="#000" stroke-width="0.9" />
<rect x="473.48" y="291.60" width="31.76" height="44.00" fill="#0072BD" stroke="#000" stroke-width="0.9" />
<rect x="505.24" y="291.60" width="31.76" height="44.00" fill="#0072BD" stroke="#000" stroke-width="0.9" />
<rect x="537.00" y="203.60" width="31.76" height="132.00" fill="#0072BD" stroke="#000" stroke-width="0.9" />
<line x1="378.20" y1="335.60" x2="378.20" y2="332.60" stroke="#4a4a4a" stroke-width="1" />
<line x1="378.20" y1="203.60" x2="378.20" y2="206.60" stroke="#4a4a4a" stroke-width="1" />
<line x1="409.96" y1="335.60" x2="409.96" y2="332.60" stroke="#4a4a4a" stroke-width="1" />
<line x1="409.96" y1="203.60" x2="409.96" y2="206.60" stroke="#4a4a4a" stroke-width="1" />
<line x1="441.72" y1="335.60" x2="441.72" y2="332.60" stroke="#4a4a4a" stroke-width="1" />
<line x1="441.72" y1="203.60" x2="441.72" y2="206.60" stroke="#4a4a4a" stroke-width="1" />
<line x1="473.48" y1="335.60" x2="473.48" y2="332.60" stroke="#4a4a4a" stroke-width="1" />
<line x1="473.48" y1="203.60" x2="473.48" y2="206.60" stroke="#4a4a4a" stroke-width="1" />
<line x1="505.24" y1="335.60" x2="505.24" y2="332.60" stroke="#4a4a4a" stroke-width="1" />
<line x1="505.24" y1="203.60" x2="505.24" y2="206.60" stroke="#4a4a4a" stroke-width="1" />
<line x1="537.00" y1="335.60" x2="537.00" y2="332.60" stroke="#4a4a4a" stroke-width="1" />
<line x1="537.00" y1="203.60" x2="537.00" y2="206.60" stroke="#4a4a4a" stroke-width="1" />
<line x1="568.76" y1="335.60" x2="568.76" y2="332.60" stroke="#4a4a4a" stroke-width="1" />
<line x1="568.76" y1="203.60" x2="568.76" y2="206.60" stroke="#4a4a4a" stroke-width="1" />
<line x1="600.52" y1="335.60" x2="600.52" y2="332.60" stroke="#4a4a4a" stroke-width="1" />
<line x1="600.52" y1="203.60" x2="600.52" y2="206.60" stroke="#4a4a4a" stroke-width="1" />
<line x1="632.28" y1="335.60" x2="632.28" y2="332.60" stroke="#4a4a4a" stroke-width="1" />
<line x1="632.28" y1="203.60" x2="632.28" y2="206.60" stroke="#4a4a4a" stroke-width="1" />
<line x1="378.20" y1="335.60" x2="381.20" y2="335.60" stroke="#4a4a4a" stroke-width="1" />
<line x1="656.00" y1="335.60" x2="653.00" y2="335.60" stroke="#4a4a4a" stroke-width="1" />
<line x1="378.20" y1="291.60" x2="381.20" y2="291.60" stroke="#4a4a4a" stroke-width="1" />
<line x1="656.00" y1="291.60" x2="653.00" y2="291.60" stroke="#4a4a4a" stroke-width="1" />
<line x1="378.20" y1="247.60" x2="381.20" y2="247.60" stroke="#4a4a4a" stroke-width="1" />
<line x1="656.00" y1="247.60" x2="653.00" y2="247.60" stroke="#4a4a4a" stroke-width="1" />
<line x1="378.20" y1="203.60" x2="381.20" y2="203.60" stroke="#4a4a4a" stroke-width="1" />
<line x1="656.00" y1="203.60" x2="653.00" y2="203.60" stroke="#4a4a4a" stroke-width="1" />
<path d="M382.2 334.7L384.4 334.5L386.6 334.4L388.8 334.2L391.0 333.9L393.2 333.7L395.4 333.4L397.6 333.1L399.8 332.7L402.0 332.3L404.2 331.8L406.4 331.3L408.6 330.7L410.8 330.1L413.0 329.4L415.2 328.6L417.4 327.8L419.6 326.8L421.8 325.8L424.0 324.7L426.2 323.5L428.4 322.2L430.6 320.8L432.8 319.3L435.0 317.7L437.2 316.0L439.4 314.2L441.6 312.3L443.8 310.3L446.0 308.1L448.2 305.9L450.4 303.6L452.6 301.1L454.8 298.6L457.0 296.0L459.2 293.4L461.4 290.7L463.6 287.9L465.8 285.1L468.0 282.3L470.2 279.4L472.4 276.6L474.6 273.8L476.8 271.0L479.1 268.3L481.3 265.7L483.5 263.1L485.7 260.7L487.9 258.3L490.1 256.1L492.3 254.1L494.5 252.2L496.7 250.5L498.9 249.0L501.1 247.7L503.3 246.6L505.5 245.8L507.7 245.1L509.9 244.7L512.1 244.6L514.3 244.7L516.5 245.0L518.7 245.6L520.9 246.4L523.1 247.4L525.3 248.6L527.5 250.1L529.7 251.7L531.9 253.5L534.1 255.5L536.3 257.7L538.5 260.0L540.7 262.4L542.9 265.0L545.1 267.6L547.3 270.3L549.5 273.0L551.7 275.8L553.9 278.7L556.1 281.5L558.3 284.3L560.5 287.1L562.7 289.9L564.9 292.6L567.1 295.3L569.3 297.9L571.5 300.4L573.7 302.9L575.9 305.3L578.1 307.5L580.3 309.7L582.5 311.7L584.7 313.7L586.9 315.5L589.1 317.3L591.3 318.9L593.5 320.4L595.7 321.9L598.0 323.2L600.2 324.4L602.4 325.5L604.6 326.6L606.8 327.5L609.0 328.4L611.2 329.2L613.4 329.9L615.6 330.6L617.8 331.2L620.0 331.7L622.2 332.2L624.4 332.6L626.6 333.0L628.8 333.3L631.0 333.6L633.2 333.9L635.4 334.1L637.6 334.3L639.8 334.5L642.0 334.7L644.2 334.8" fill="none" stroke="#D95319" stroke-width="2.8" stroke-linejoin="round" />
<rect x="378.20" y="203.60" width="277.80" height="132.00" fill="none" stroke="#4a4a4a" stroke-width="1.1" />
<text id="L_d_y0" transform="translate(374.60 340.90) scale(1.1 1)" font-size="12" text-anchor="end" font-weight="normal" fill="#222222" stroke="#222222" stroke-width="0.2">0</text>
<text id="L_d_y1" transform="translate(374.00 295.90) scale(1.1 1)" font-size="12" text-anchor="end" font-weight="normal" fill="#222222" stroke="#222222" stroke-width="0.2">1</text>
<text id="L_d_y2" transform="translate(374.00 251.90) scale(1.1 1)" font-size="12" text-anchor="end" font-weight="normal" fill="#222222" stroke="#222222" stroke-width="0.2">2</text>
<text id="L_d_y3" transform="translate(374.10 208.90) scale(1.1 1)" font-size="12" text-anchor="end" font-weight="normal" fill="#222222" stroke="#222222" stroke-width="0.2">3</text>
<text id="L_d_x10" transform="translate(378.50 352.80) scale(1.1 1)" font-size="12" text-anchor="middle" font-weight="normal" fill="#222222" stroke="#222222" stroke-width="0.2">10</text>
<text id="L_d_x14" transform="translate(409.96 353.00) scale(1.1 1)" font-size="12" text-anchor="middle" font-weight="normal" fill="#222222" stroke="#222222" stroke-width="0.2">14</text>
<text id="L_d_x18" transform="translate(441.72 353.00) scale(1.1 1)" font-size="12" text-anchor="middle" font-weight="normal" fill="#222222" stroke="#222222" stroke-width="0.2">18</text>
<text id="L_d_x22" transform="translate(473.48 353.00) scale(1.1 1)" font-size="12" text-anchor="middle" font-weight="normal" fill="#222222" stroke="#222222" stroke-width="0.2">22</text>
<text id="L_d_x26" transform="translate(505.24 353.00) scale(1.1 1)" font-size="12" text-anchor="middle" font-weight="normal" fill="#222222" stroke="#222222" stroke-width="0.2">26</text>
<text id="L_d_x30" transform="translate(537.00 353.00) scale(1.1 1)" font-size="12" text-anchor="middle" font-weight="normal" fill="#222222" stroke="#222222" stroke-width="0.2">30</text>
<text id="L_d_x34" transform="translate(568.76 353.00) scale(1.1 1)" font-size="12" text-anchor="middle" font-weight="normal" fill="#222222" stroke="#222222" stroke-width="0.2">34</text>
<text id="L_d_x38" transform="translate(600.52 353.00) scale(1.1 1)" font-size="12" text-anchor="middle" font-weight="normal" fill="#222222" stroke="#222222" stroke-width="0.2">38</text>
<text id="L_d_x42" transform="translate(632.28 353.00) scale(1.1 1)" font-size="12" text-anchor="middle" font-weight="normal" fill="#222222" stroke="#222222" stroke-width="0.2">42</text>
<text id="L_d_mu" transform="translate(608.60 222.30) scale(1.1 1)" font-size="12.9" text-anchor="middle" font-weight="normal" fill="#222222" stroke="#222222" stroke-width="0.2">μ<tspan font-size="9" dy="3">n</tspan><tspan dy="-3">=26μV</tspan></text>
<text id="L_d_sig" transform="translate(611.20 241.10) scale(1.1 1)" font-size="12.9" text-anchor="middle" font-weight="normal" fill="#222222" stroke="#222222" stroke-width="0.2">σ<tspan font-size="9" dy="3">n</tspan><tspan dy="-3">=5.4μV</tspan></text>
<text id="L_d_xl" transform="translate(516.50 371.90) scale(1.1 1)" font-size="12" text-anchor="middle" font-weight="normal" fill="#222222" stroke="#222222" stroke-width="0.2">RMS Noise Voltage [<tspan font-family="Liberation Serif" font-style="italic">μ</tspan>V]</text>
<text id="L_d_yl" transform="translate(359.80 270.00) rotate(-90) scale(1.1 1)" font-size="12" text-anchor="middle" font-weight="normal" fill="#222222" stroke="#222222" stroke-width="0.2">Occurances [-]</text>
<text id="L_d_lab" transform="translate(339.60 369.00) scale(1.2 1)" font-size="13" text-anchor="start" font-weight="normal" fill="#222222" stroke="#222222" stroke-width="0.2">d)</text>
<line x1="116.00" y1="391.00" x2="116.00" y2="524.00" stroke="#e2e2e2" stroke-width="0.8" />
<line x1="167.60" y1="391.00" x2="167.60" y2="524.00" stroke="#e2e2e2" stroke-width="0.8" />
<line x1="219.20" y1="391.00" x2="219.20" y2="524.00" stroke="#e2e2e2" stroke-width="0.8" />
<line x1="270.80" y1="391.00" x2="270.80" y2="524.00" stroke="#e2e2e2" stroke-width="0.8" />
<line x1="64.40" y1="424.70" x2="322.40" y2="424.70" stroke="#e2e2e2" stroke-width="0.8" />
<line x1="64.40" y1="458.00" x2="322.40" y2="458.00" stroke="#e2e2e2" stroke-width="0.8" />
<line x1="64.40" y1="491.30" x2="322.40" y2="491.30" stroke="#e2e2e2" stroke-width="0.8" />
<line x1="64.40" y1="524.00" x2="64.40" y2="521.00" stroke="#4a4a4a" stroke-width="1" />
<line x1="64.40" y1="391.00" x2="64.40" y2="394.00" stroke="#4a4a4a" stroke-width="1" />
<line x1="116.00" y1="524.00" x2="116.00" y2="521.00" stroke="#4a4a4a" stroke-width="1" />
<line x1="116.00" y1="391.00" x2="116.00" y2="394.00" stroke="#4a4a4a" stroke-width="1" />
<line x1="167.60" y1="524.00" x2="167.60" y2="521.00" stroke="#4a4a4a" stroke-width="1" />
<line x1="167.60" y1="391.00" x2="167.60" y2="394.00" stroke="#4a4a4a" stroke-width="1" />
<line x1="219.20" y1="524.00" x2="219.20" y2="521.00" stroke="#4a4a4a" stroke-width="1" />
<line x1="219.20" y1="391.00" x2="219.20" y2="394.00" stroke="#4a4a4a" stroke-width="1" />
<line x1="270.80" y1="524.00" x2="270.80" y2="521.00" stroke="#4a4a4a" stroke-width="1" />
<line x1="270.80" y1="391.00" x2="270.80" y2="394.00" stroke="#4a4a4a" stroke-width="1" />
<line x1="322.40" y1="524.00" x2="322.40" y2="521.00" stroke="#4a4a4a" stroke-width="1" />
<line x1="322.40" y1="391.00" x2="322.40" y2="394.00" stroke="#4a4a4a" stroke-width="1" />
<line x1="64.40" y1="391.40" x2="67.40" y2="391.40" stroke="#4a4a4a" stroke-width="1" />
<line x1="322.40" y1="391.40" x2="319.40" y2="391.40" stroke="#4a4a4a" stroke-width="1" />
<line x1="64.40" y1="424.70" x2="67.40" y2="424.70" stroke="#4a4a4a" stroke-width="1" />
<line x1="322.40" y1="424.70" x2="319.40" y2="424.70" stroke="#4a4a4a" stroke-width="1" />
<line x1="64.40" y1="458.00" x2="67.40" y2="458.00" stroke="#4a4a4a" stroke-width="1" />
<line x1="322.40" y1="458.00" x2="319.40" y2="458.00" stroke="#4a4a4a" stroke-width="1" />
<line x1="64.40" y1="491.30" x2="67.40" y2="491.30" stroke="#4a4a4a" stroke-width="1" />
<line x1="322.40" y1="491.30" x2="319.40" y2="491.30" stroke="#4a4a4a" stroke-width="1" />
<line x1="64.40" y1="524.60" x2="67.40" y2="524.60" stroke="#4a4a4a" stroke-width="1" />
<line x1="322.40" y1="524.60" x2="319.40" y2="524.60" stroke="#4a4a4a" stroke-width="1" />
<clipPath id="ce"><rect x="64.4" y="391" width="258.0" height="133"/></clipPath>
<g clip-path="url(#ce)">
<path d="M64.4 482.2L65.3 482.9L66.1 483.7L67.0 484.4L67.9 485.2L68.7 485.9L69.6 486.6L70.4 487.3L71.3 488.0L72.2 488.7L73.0 489.3L73.9 490.0L74.8 490.7L75.6 491.3L76.5 491.9L77.3 492.5L78.2 493.1L79.1 493.7L79.9 494.3L80.8 494.9L81.7 495.4L82.5 495.9L83.4 496.5L84.2 497.0L85.1 497.5L86.0 498.0L86.8 498.4L87.7 498.9L88.6 499.3L89.4 499.7L90.3 500.2L91.1 500.5L92.0 500.9L92.9 501.3L93.7 501.6L94.6 502.0L95.5 502.3L96.3 502.6L97.2 502.9L98.1 503.2L98.9 503.4L99.8 503.7L100.6 503.9L101.5 504.1L102.4 504.3L103.2 504.5L104.1 504.6L105.0 504.8L105.8 504.9L106.7 505.0L107.5 505.1L108.4 505.2L109.3 505.2L110.1 505.3L111.0 505.3L111.9 505.3L112.7 505.3L113.6 505.3L114.4 505.2L115.3 505.2L116.2 505.1L117.0 505.0L117.9 504.9L118.8 504.8L119.6 504.6L120.5 504.5L121.3 504.3L122.2 504.1L123.1 503.9L123.9 503.7L124.8 503.4L125.7 503.2L126.5 502.9L127.4 502.6L128.3 502.3L129.1 502.0L130.0 501.7L130.8 501.3L131.7 500.9L132.6 500.6L133.4 500.2L134.3 499.8L135.2 499.3L136.0 498.9L136.9 498.4L137.7 498.0L138.6 497.5L139.5 497.0L140.3 496.5L141.2 496.0L142.1 495.4L142.9 494.9L143.8 494.3L144.6 493.7L145.5 493.1L146.4 492.5L147.2 491.9L148.1 491.3L149.0 490.7L149.8 490.0L150.7 489.4L151.6 488.7L152.4 488.0L153.3 487.3L154.1 486.6L155.0 485.9L155.9 485.2L156.7 484.5L157.6 483.7L158.5 483.0L159.3 482.2L160.2 481.4L161.0 480.7L161.9 479.9L162.8 479.1L163.6 478.3L164.5 477.5L165.4 476.7L166.2 475.8L167.1 475.0L167.9 474.2L168.8 473.3L169.7 472.5L170.5 471.7L171.4 470.8L172.3 469.9L173.1 469.1L174.0 468.2L174.8 467.3L175.7 466.5L176.6 465.6L177.4 464.7L178.3 463.8L179.2 463.0L180.0 462.1L180.9 461.2L181.8 460.3L182.6 459.4L183.5 458.5L184.3 457.6L185.2 456.7L186.1 455.9L186.9 455.0L187.8 454.1L188.7 453.2L189.5 452.3L190.4 451.4L191.2 450.6L192.1 449.7L193.0 448.8L193.8 447.9L194.7 447.1L195.6 446.2L196.4 445.3L197.3 444.5L198.1 443.6L199.0 442.8L199.9 442.0L200.7 441.1L201.6 440.3L202.5 439.5L203.3 438.7L204.2 437.9L205.0 437.1L205.9 436.3L206.8 435.5L207.6 434.7L208.5 433.9L209.4 433.2L210.2 432.4L211.1 431.7L212.0 430.9L212.8 430.2L213.7 429.5L214.5 428.8L215.4 428.1L216.3 427.4L217.1 426.7L218.0 426.1L218.9 425.4L219.7 424.8L220.6 424.2L221.4 423.6L222.3 423.0L223.2 422.4L224.0 421.8L224.9 421.2L225.8 420.7L226.6 420.1L227.5 419.6L228.3 419.1L229.2 418.6L230.1 418.1L230.9 417.6L231.8 417.2L232.7 416.7L233.5 416.3L234.4 415.9L235.2 415.5L236.1 415.1L237.0 414.8L237.8 414.4L238.7 414.1L239.6 413.7L240.4 413.4L241.3 413.2L242.2 412.9L243.0 412.6L243.9 412.4L244.7 412.2L245.6 411.9L246.5 411.7L247.3 411.6L248.2 411.4L249.1 411.3L249.9 411.1L250.8 411.0L251.6 410.9L252.5 410.9L253.4 410.8L254.2 410.8L255.1 410.7L256.0 410.7L256.8 410.7L257.7 410.7L258.5 410.8L259.4 410.8L260.3 410.9L261.1 411.0L262.0 411.1L262.9 411.2L263.7 411.4L264.6 411.5L265.5 411.7L266.3 411.9L267.2 412.1L268.0 412.3L268.9 412.5L269.8 412.8L270.6 413.1L271.5 413.3L272.4 413.6L273.2 414.0L274.1 414.3L274.9 414.6L275.8 415.0L276.7 415.4L277.5 415.8L278.4 416.2L279.3 416.6L280.1 417.0L281.0 417.5L281.8 418.0L282.7 418.4L283.6 418.9L284.4 419.4L285.3 420.0L286.2 420.5L287.0 421.0L287.9 421.6L288.7 422.2L289.6 422.8L290.5 423.4L291.3 424.0L292.2 424.6L293.1 425.2L293.9 425.9L294.8 426.5L295.7 427.2L296.5 427.9L297.4 428.6L298.2 429.3L299.1 430.0L300.0 430.7L300.8 431.4L301.7 432.2L302.6 432.9L303.4 433.7L304.3 434.5L305.1 435.2L306.0 436.0L306.9 436.8L307.7 437.6L308.6 438.4L309.5 439.2L310.3 440.0L311.2 440.9L312.0 441.7L312.9 442.5L313.8 443.4L314.6 444.2L315.5 445.1L316.4 445.9L317.2 446.8L318.1 447.7L318.9 448.5L319.8 449.4L320.7 450.3L321.5 451.2L322.4 452.0" fill="none" stroke="#FF0000" stroke-width="2.3" stroke-linejoin="round" />
<path d="M64.4 458.0L65.2 485.5L65.7 483.7L66.2 485.7L67.2 484.4L68.3 484.7L69.3 487.9L70.3 488.0L71.4 489.1L72.1 488.7L72.3 448.7L72.9 454.3L73.7 456.3L74.7 459.7L75.8 457.0L76.3 459.3L76.8 465.3L77.3 456.0L77.8 458.0L78.8 461.7L79.9 457.7L80.9 455.6L81.9 458.7L83.0 455.4L84.0 458.0L84.8 435.4L85.0 444.7L85.3 470.7L85.8 456.7L87.1 459.2L88.1 458.6L89.2 457.8L90.2 456.8L91.4 458.0L91.5 503.4L92.0 501.5L92.5 500.3L93.6 502.2L94.6 501.8L95.6 501.6L96.7 505.9L97.7 504.6L98.5 503.3L98.6 448.7L99.2 454.3L100.0 459.8L101.0 458.4L102.1 458.6L102.6 459.3L103.1 465.3L103.6 456.0L104.1 458.0L105.2 456.4L106.2 457.3L107.2 461.8L108.3 457.9L109.3 460.6L110.3 458.0L111.1 435.4L111.4 444.7L111.6 470.7L112.1 456.7L113.4 457.8L114.5 458.4L115.5 458.1L116.5 454.4L117.2 458.0L117.3 507.6L117.8 505.8L118.3 504.3L119.4 503.0L120.4 502.2L121.4 506.2L122.5 500.6L123.5 502.4L124.3 503.6L124.4 448.7L125.0 454.3L125.8 455.7L126.8 460.0L127.9 456.1L128.4 459.3L128.9 465.3L129.4 456.0L129.9 458.0L131.0 452.6L132.0 456.6L133.0 458.5L134.1 457.5L135.1 455.8L136.1 458.0L136.9 435.4L137.2 444.7L137.4 470.7L137.9 456.7L139.2 454.5L140.3 460.8L141.3 459.1L142.3 460.1L143.0 458.0L143.1 497.4L143.6 495.6L144.1 493.9L145.2 490.5L146.2 491.3L147.2 494.0L148.2 491.7L149.3 488.3L150.1 489.9L150.2 448.7L150.8 454.3L151.6 459.2L152.6 458.2L153.7 457.2L154.2 459.3L154.7 465.3L155.2 456.0L155.7 458.0L156.8 457.2L157.8 456.6L158.8 460.2L159.9 459.7L160.9 459.3L161.9 458.0L162.7 435.4L163.0 444.7L163.2 470.7L163.7 456.7L165.0 453.8L166.1 454.9L167.1 459.6L168.1 459.5L169.1 454.0L169.5 458.0L169.7 475.2L170.2 473.3L170.7 472.1L171.7 467.7L172.8 466.2L173.8 469.5L174.8 467.9L175.9 466.1L176.6 465.5L176.8 448.7L177.4 454.3L178.2 460.0L179.2 460.2L180.2 458.9L180.8 459.3L181.3 465.3L181.8 456.0L182.3 458.0L183.3 458.4L184.4 459.0L185.4 461.1L186.4 454.5L187.5 463.4L188.5 458.0L189.3 435.4L189.5 444.7L189.8 470.7L190.3 456.7L191.6 456.5L192.6 455.0L193.7 460.0L194.7 457.5L195.1 458.0L195.2 449.2L195.7 447.4L196.2 447.7L197.3 443.5L198.3 443.3L199.3 442.0L200.4 438.7L201.4 439.5L202.2 439.8L202.3 463.3L202.9 460.1L203.7 454.8L204.8 456.5L205.8 460.8L206.3 459.3L206.8 465.3L207.3 456.0L207.8 458.0L208.9 461.3L209.9 454.8L210.9 457.8L212.0 457.1L213.0 460.0L214.0 458.0L214.8 435.4L215.1 444.7L215.3 470.7L215.8 456.7L217.1 457.8L218.2 462.9L219.2 454.8L220.2 460.6L221.4 458.0L221.5 408.8L222.0 419.1L222.6 427.1L223.6 424.0L224.6 423.0L225.7 419.6L226.7 421.9L227.7 418.9L228.5 419.0L228.6 463.3L229.3 460.1L230.0 460.2L231.1 452.8L232.1 456.7L232.6 459.3L233.1 465.3L233.6 456.0L234.2 458.0L235.2 456.4L236.2 460.2L237.3 456.6L238.3 456.4L239.3 461.7L240.4 458.0L241.1 435.4L241.4 444.7L241.6 470.7L242.2 456.7L243.5 459.7L244.5 460.2L245.5 461.3L246.5 457.7L247.6 456.7L248.0 458.0L248.1 396.8L248.6 407.0L249.1 413.9L250.2 412.2L251.2 410.9L252.2 411.3L253.3 412.2L254.3 409.1L255.1 410.7L255.2 463.3L255.8 460.1L256.6 456.0L257.6 456.4L258.7 458.5L259.2 459.3L259.7 465.3L260.2 456.0L260.7 458.0L261.8 458.9L262.8 458.3L263.8 455.2L264.9 459.8L265.9 457.0L266.9 458.0L267.7 435.4L268.0 444.7L268.2 470.7L268.7 456.7L270.0 461.6L271.1 459.2L272.1 462.6L273.1 452.7L273.8 458.0L273.9 399.6L274.4 409.8L274.9 411.6L276.0 412.6L277.0 414.9L278.0 414.0L279.1 413.9L280.1 415.0L280.9 417.4L281.0 463.3L281.6 460.1L282.4 455.8L283.4 460.1L284.5 457.0L285.0 459.3L285.5 465.3L286.0 456.0L286.5 458.0L287.6 460.6L288.6 457.0L289.6 455.5L290.7 461.2L291.7 453.9L292.7 458.0L293.5 435.4L293.8 444.7L294.0 470.7L294.5 456.7L295.8 458.2L296.9 455.7L297.9 458.9L298.9 460.6L300.1 458.0L300.2 416.3L300.7 426.5L301.2 431.1L302.3 436.8L303.3 433.3L304.3 432.2L305.4 434.8L306.4 434.8L307.2 437.1L307.3 463.3L308.0 460.1L308.7 456.8L309.8 456.3L310.8 457.7L311.3 459.3L311.8 465.3L312.3 456.0L312.9 458.0L313.9 458.2L314.9 455.1L315.9 454.2L317.0 457.0L318.0 459.8L319.0 458.0L319.8 435.4L320.1 444.7L320.3 470.7L320.9 456.7L322.1 457.2L323.2 458.1" fill="none" stroke="#0072BD" stroke-width="2.2" stroke-linejoin="round" />
</g>
<rect x="64.40" y="391.00" width="258.00" height="133.00" fill="none" stroke="#4a4a4a" stroke-width="1.1" />
<rect x="162.40" y="481.20" width="156.40" height="37.70" fill="#fff" stroke="#4a4a4a" stroke-width="1.1" />
<line x1="167.40" y1="491.90" x2="214.60" y2="491.90" stroke="#FF0000" stroke-width="2.3" />
<text id="L_e_leg1" transform="translate(219.40 496.50)" font-size="12.4" text-anchor="start" font-weight="normal" fill="#222222" stroke="#222222" stroke-width="0.2">channel 1 input</text>
<line x1="167.40" y1="508.50" x2="214.60" y2="508.50" stroke="#0072BD" stroke-width="2.3" />
<text id="L_e_leg2" transform="translate(219.00 512.60)" font-size="12.4" text-anchor="start" font-weight="normal" fill="#222222" stroke="#222222" stroke-width="0.2">measured output</text>
<text id="L_e_y0.1" transform="translate(60.30 395.80) scale(1.1 1)" font-size="12" text-anchor="end" font-weight="normal" fill="#222222" stroke="#222222" stroke-width="0.2">0.1</text>
<text id="L_e_y0.05" transform="translate(60.00 429.00) scale(1.1 1)" font-size="12" text-anchor="end" font-weight="normal" fill="#222222" stroke="#222222" stroke-width="0.2">0.05</text>
<text id="L_e_y0" transform="translate(60.00 462.30) scale(1.1 1)" font-size="12" text-anchor="end" font-weight="normal" fill="#222222" stroke="#222222" stroke-width="0.2">0</text>
<text id="L_e_y-0.05" transform="translate(60.00 495.60) scale(1.1 1)" font-size="12" text-anchor="end" font-weight="normal" fill="#222222" stroke="#222222" stroke-width="0.2">-0.05</text>
<text id="L_e_y-0.1" transform="translate(60.20 529.50) scale(1.1 1)" font-size="12" text-anchor="end" font-weight="normal" fill="#222222" stroke="#222222" stroke-width="0.2">-0.1</text>
<text id="L_e_x0" transform="translate(65.00 541.40) scale(1.1 1)" font-size="12" text-anchor="middle" font-weight="normal" fill="#222222" stroke="#222222" stroke-width="0.2">0</text>
<text id="L_e_x2" transform="translate(116.00 541.60) scale(1.1 1)" font-size="12" text-anchor="middle" font-weight="normal" fill="#222222" stroke="#222222" stroke-width="0.2">2</text>
<text id="L_e_x4" transform="translate(167.60 541.60) scale(1.1 1)" font-size="12" text-anchor="middle" font-weight="normal" fill="#222222" stroke="#222222" stroke-width="0.2">4</text>
<text id="L_e_x6" transform="translate(219.20 541.60) scale(1.1 1)" font-size="12" text-anchor="middle" font-weight="normal" fill="#222222" stroke="#222222" stroke-width="0.2">6</text>
<text id="L_e_x8" transform="translate(270.80 541.60) scale(1.1 1)" font-size="12" text-anchor="middle" font-weight="normal" fill="#222222" stroke="#222222" stroke-width="0.2">8</text>
<text id="L_e_x10" transform="translate(321.40 541.40) scale(1.1 1)" font-size="12" text-anchor="middle" font-weight="normal" fill="#222222" stroke="#222222" stroke-width="0.2">10</text>
<text id="L_e_xl" transform="translate(193.50 560.30) scale(1.1 1)" font-size="13.8" text-anchor="middle" font-weight="normal" fill="#222222" stroke="#222222" stroke-width="0.2">time [ms]</text>
<text id="L_e_yl" transform="translate(23.00 457.70) rotate(-90) scale(1.1 1)" font-size="13.6" text-anchor="middle" font-weight="normal" fill="#222222" stroke="#222222" stroke-width="0.2">Voltage [V]</text>
<text id="L_e_lab" transform="translate(17.30 551.65) scale(1.2 1)" font-size="13" text-anchor="start" font-weight="normal" fill="#222222" stroke="#222222" stroke-width="0.2">e)</text>
<line x1="420.23" y1="391.00" x2="420.23" y2="515.60" stroke="#d4d4d4" stroke-width="0.6" stroke-dasharray="1 1.5"/>
<line x1="437.68" y1="391.00" x2="437.68" y2="515.60" stroke="#d4d4d4" stroke-width="0.6" stroke-dasharray="1 1.5"/>
<line x1="450.06" y1="391.00" x2="450.06" y2="515.60" stroke="#d4d4d4" stroke-width="0.6" stroke-dasharray="1 1.5"/>
<line x1="459.67" y1="391.00" x2="459.67" y2="515.60" stroke="#d4d4d4" stroke-width="0.6" stroke-dasharray="1 1.5"/>
<line x1="467.51" y1="391.00" x2="467.51" y2="515.60" stroke="#d4d4d4" stroke-width="0.6" stroke-dasharray="1 1.5"/>
<line x1="474.15" y1="391.00" x2="474.15" y2="515.60" stroke="#d4d4d4" stroke-width="0.6" stroke-dasharray="1 1.5"/>
<line x1="479.90" y1="391.00" x2="479.90" y2="515.60" stroke="#d4d4d4" stroke-width="0.6" stroke-dasharray="1 1.5"/>
<line x1="484.97" y1="391.00" x2="484.97" y2="515.60" stroke="#d4d4d4" stroke-width="0.6" stroke-dasharray="1 1.5"/>
<line x1="519.33" y1="391.00" x2="519.33" y2="515.60" stroke="#d4d4d4" stroke-width="0.6" stroke-dasharray="1 1.5"/>
<line x1="536.78" y1="391.00" x2="536.78" y2="515.60" stroke="#d4d4d4" stroke-width="0.6" stroke-dasharray="1 1.5"/>
<line x1="549.16" y1="391.00" x2="549.16" y2="515.60" stroke="#d4d4d4" stroke-width="0.6" stroke-dasharray="1 1.5"/>
<line x1="558.77" y1="391.00" x2="558.77" y2="515.60" stroke="#d4d4d4" stroke-width="0.6" stroke-dasharray="1 1.5"/>
<line x1="566.61" y1="391.00" x2="566.61" y2="515.60" stroke="#d4d4d4" stroke-width="0.6" stroke-dasharray="1 1.5"/>
<line x1="573.25" y1="391.00" x2="573.25" y2="515.60" stroke="#d4d4d4" stroke-width="0.6" stroke-dasharray="1 1.5"/>
<line x1="579.00" y1="391.00" x2="579.00" y2="515.60" stroke="#d4d4d4" stroke-width="0.6" stroke-dasharray="1 1.5"/>
<line x1="584.07" y1="391.00" x2="584.07" y2="515.60" stroke="#d4d4d4" stroke-width="0.6" stroke-dasharray="1 1.5"/>
<line x1="618.43" y1="391.00" x2="618.43" y2="515.60" stroke="#d4d4d4" stroke-width="0.6" stroke-dasharray="1 1.5"/>
<line x1="635.88" y1="391.00" x2="635.88" y2="515.60" stroke="#d4d4d4" stroke-width="0.6" stroke-dasharray="1 1.5"/>
<line x1="648.26" y1="391.00" x2="648.26" y2="515.60" stroke="#d4d4d4" stroke-width="0.6" stroke-dasharray="1 1.5"/>
<line x1="390.40" y1="500.61" x2="657.60" y2="500.61" stroke="#d4d4d4" stroke-width="0.6" stroke-dasharray="1 1.5"/>
<line x1="390.40" y1="491.84" x2="657.60" y2="491.84" stroke="#d4d4d4" stroke-width="0.6" stroke-dasharray="1 1.5"/>
<line x1="390.40" y1="485.62" x2="657.60" y2="485.62" stroke="#d4d4d4" stroke-width="0.6" stroke-dasharray="1 1.5"/>
<line x1="390.40" y1="480.79" x2="657.60" y2="480.79" stroke="#d4d4d4" stroke-width="0.6" stroke-dasharray="1 1.5"/>
<line x1="390.40" y1="476.85" x2="657.60" y2="476.85" stroke="#d4d4d4" stroke-width="0.6" stroke-dasharray="1 1.5"/>
<line x1="390.40" y1="473.51" x2="657.60" y2="473.51" stroke="#d4d4d4" stroke-width="0.6" stroke-dasharray="1 1.5"/>
<line x1="390.40" y1="470.63" x2="657.60" y2="470.63" stroke="#d4d4d4" stroke-width="0.6" stroke-dasharray="1 1.5"/>
<line x1="390.40" y1="468.08" x2="657.60" y2="468.08" stroke="#d4d4d4" stroke-width="0.6" stroke-dasharray="1 1.5"/>
<line x1="390.40" y1="450.81" x2="657.60" y2="450.81" stroke="#d4d4d4" stroke-width="0.6" stroke-dasharray="1 1.5"/>
<line x1="390.40" y1="442.04" x2="657.60" y2="442.04" stroke="#d4d4d4" stroke-width="0.6" stroke-dasharray="1 1.5"/>
<line x1="390.40" y1="435.82" x2="657.60" y2="435.82" stroke="#d4d4d4" stroke-width="0.6" stroke-dasharray="1 1.5"/>
<line x1="390.40" y1="430.99" x2="657.60" y2="430.99" stroke="#d4d4d4" stroke-width="0.6" stroke-dasharray="1 1.5"/>
<line x1="390.40" y1="427.05" x2="657.60" y2="427.05" stroke="#d4d4d4" stroke-width="0.6" stroke-dasharray="1 1.5"/>
<line x1="390.40" y1="423.71" x2="657.60" y2="423.71" stroke="#d4d4d4" stroke-width="0.6" stroke-dasharray="1 1.5"/>
<line x1="390.40" y1="420.83" x2="657.60" y2="420.83" stroke="#d4d4d4" stroke-width="0.6" stroke-dasharray="1 1.5"/>
<line x1="390.40" y1="418.28" x2="657.60" y2="418.28" stroke="#d4d4d4" stroke-width="0.6" stroke-dasharray="1 1.5"/>
<line x1="390.40" y1="401.01" x2="657.60" y2="401.01" stroke="#d4d4d4" stroke-width="0.6" stroke-dasharray="1 1.5"/>
<line x1="390.40" y1="392.24" x2="657.60" y2="392.24" stroke="#d4d4d4" stroke-width="0.6" stroke-dasharray="1 1.5"/>
<line x1="390.40" y1="465.80" x2="657.60" y2="465.80" stroke="#e2e2e2" stroke-width="0.8" />
<line x1="390.40" y1="416.00" x2="657.60" y2="416.00" stroke="#e2e2e2" stroke-width="0.8" />
<line x1="489.50" y1="391.00" x2="489.50" y2="515.60" stroke="#e2e2e2" stroke-width="0.8" />
<line x1="588.60" y1="391.00" x2="588.60" y2="515.60" stroke="#e2e2e2" stroke-width="0.8" />
<line x1="390.40" y1="515.60" x2="393.40" y2="515.60" stroke="#4a4a4a" stroke-width="1" />
<line x1="657.60" y1="515.60" x2="654.60" y2="515.60" stroke="#4a4a4a" stroke-width="1" />
<line x1="390.40" y1="500.61" x2="392.00" y2="500.61" stroke="#4a4a4a" stroke-width="0.8" />
<line x1="657.60" y1="500.61" x2="656.00" y2="500.61" stroke="#4a4a4a" stroke-width="0.8" />
<line x1="390.40" y1="491.84" x2="392.00" y2="491.84" stroke="#4a4a4a" stroke-width="0.8" />
<line x1="657.60" y1="491.84" x2="656.00" y2="491.84" stroke="#4a4a4a" stroke-width="0.8" />
<line x1="390.40" y1="485.62" x2="392.00" y2="485.62" stroke="#4a4a4a" stroke-width="0.8" />
<line x1="657.60" y1="485.62" x2="656.00" y2="485.62" stroke="#4a4a4a" stroke-width="0.8" />
<line x1="390.40" y1="480.79" x2="392.00" y2="480.79" stroke="#4a4a4a" stroke-width="0.8" />
<line x1="657.60" y1="480.79" x2="656.00" y2="480.79" stroke="#4a4a4a" stroke-width="0.8" />
<line x1="390.40" y1="476.85" x2="392.00" y2="476.85" stroke="#4a4a4a" stroke-width="0.8" />
<line x1="657.60" y1="476.85" x2="656.00" y2="476.85" stroke="#4a4a4a" stroke-width="0.8" />
<line x1="390.40" y1="473.51" x2="392.00" y2="473.51" stroke="#4a4a4a" stroke-width="0.8" />
<line x1="657.60" y1="473.51" x2="656.00" y2="473.51" stroke="#4a4a4a" stroke-width="0.8" />
<line x1="390.40" y1="470.63" x2="392.00" y2="470.63" stroke="#4a4a4a" stroke-width="0.8" />
<line x1="657.60" y1="470.63" x2="656.00" y2="470.63" stroke="#4a4a4a" stroke-width="0.8" />
<line x1="390.40" y1="468.08" x2="392.00" y2="468.08" stroke="#4a4a4a" stroke-width="0.8" />
<line x1="657.60" y1="468.08" x2="656.00" y2="468.08" stroke="#4a4a4a" stroke-width="0.8" />
<line x1="390.40" y1="465.80" x2="393.40" y2="465.80" stroke="#4a4a4a" stroke-width="1" />
<line x1="657.60" y1="465.80" x2="654.60" y2="465.80" stroke="#4a4a4a" stroke-width="1" />
<line x1="390.40" y1="450.81" x2="392.00" y2="450.81" stroke="#4a4a4a" stroke-width="0.8" />
<line x1="657.60" y1="450.81" x2="656.00" y2="450.81" stroke="#4a4a4a" stroke-width="0.8" />
<line x1="390.40" y1="442.04" x2="392.00" y2="442.04" stroke="#4a4a4a" stroke-width="0.8" />
<line x1="657.60" y1="442.04" x2="656.00" y2="442.04" stroke="#4a4a4a" stroke-width="0.8" />
<line x1="390.40" y1="435.82" x2="392.00" y2="435.82" stroke="#4a4a4a" stroke-width="0.8" />
<line x1="657.60" y1="435.82" x2="656.00" y2="435.82" stroke="#4a4a4a" stroke-width="0.8" />
<line x1="390.40" y1="430.99" x2="392.00" y2="430.99" stroke="#4a4a4a" stroke-width="0.8" />
<line x1="657.60" y1="430.99" x2="656.00" y2="430.99" stroke="#4a4a4a" stroke-width="0.8" />
<line x1="390.40" y1="427.05" x2="392.00" y2="427.05" stroke="#4a4a4a" stroke-width="0.8" />
<line x1="657.60" y1="427.05" x2="656.00" y2="427.05" stroke="#4a4a4a" stroke-width="0.8" />
<line x1="390.40" y1="423.71" x2="392.00" y2="423.71" stroke="#4a4a4a" stroke-width="0.8" />
<line x1="657.60" y1="423.71" x2="656.00" y2="423.71" stroke="#4a4a4a" stroke-width="0.8" />
<line x1="390.40" y1="420.83" x2="392.00" y2="420.83" stroke="#4a4a4a" stroke-width="0.8" />
<line x1="657.60" y1="420.83" x2="656.00" y2="420.83" stroke="#4a4a4a" stroke-width="0.8" />
<line x1="390.40" y1="418.28" x2="392.00" y2="418.28" stroke="#4a4a4a" stroke-width="0.8" />
<line x1="657.60" y1="418.28" x2="656.00" y2="418.28" stroke="#4a4a4a" stroke-width="0.8" />
<line x1="390.40" y1="416.00" x2="393.40" y2="416.00" stroke="#4a4a4a" stroke-width="1" />
<line x1="657.60" y1="416.00" x2="654.60" y2="416.00" stroke="#4a4a4a" stroke-width="1" />
<line x1="390.40" y1="401.01" x2="392.00" y2="401.01" stroke="#4a4a4a" stroke-width="0.8" />
<line x1="657.60" y1="401.01" x2="656.00" y2="401.01" stroke="#4a4a4a" stroke-width="0.8" />
<line x1="390.40" y1="392.24" x2="392.00" y2="392.24" stroke="#4a4a4a" stroke-width="0.8" />
<line x1="657.60" y1="392.24" x2="656.00" y2="392.24" stroke="#4a4a4a" stroke-width="0.8" />
<line x1="390.40" y1="515.60" x2="390.40" y2="512.60" stroke="#4a4a4a" stroke-width="1" />
<line x1="390.40" y1="391.00" x2="390.40" y2="394.00" stroke="#4a4a4a" stroke-width="1" />
<line x1="489.50" y1="515.60" x2="489.50" y2="512.60" stroke="#4a4a4a" stroke-width="1" />
<line x1="489.50" y1="391.00" x2="489.50" y2="394.00" stroke="#4a4a4a" stroke-width="1" />
<line x1="588.60" y1="515.60" x2="588.60" y2="512.60" stroke="#4a4a4a" stroke-width="1" />
<line x1="588.60" y1="391.00" x2="588.60" y2="394.00" stroke="#4a4a4a" stroke-width="1" />
<line x1="420.23" y1="515.60" x2="420.23" y2="514.00" stroke="#4a4a4a" stroke-width="0.8" />
<line x1="420.23" y1="391.00" x2="420.23" y2="392.60" stroke="#4a4a4a" stroke-width="0.8" />
<line x1="437.68" y1="515.60" x2="437.68" y2="514.00" stroke="#4a4a4a" stroke-width="0.8" />
<line x1="437.68" y1="391.00" x2="437.68" y2="392.60" stroke="#4a4a4a" stroke-width="0.8" />
<line x1="450.06" y1="515.60" x2="450.06" y2="514.00" stroke="#4a4a4a" stroke-width="0.8" />
<line x1="450.06" y1="391.00" x2="450.06" y2="392.60" stroke="#4a4a4a" stroke-width="0.8" />
<line x1="459.67" y1="515.60" x2="459.67" y2="514.00" stroke="#4a4a4a" stroke-width="0.8" />
<line x1="459.67" y1="391.00" x2="459.67" y2="392.60" stroke="#4a4a4a" stroke-width="0.8" />
<line x1="467.51" y1="515.60" x2="467.51" y2="514.00" stroke="#4a4a4a" stroke-width="0.8" />
<line x1="467.51" y1="391.00" x2="467.51" y2="392.60" stroke="#4a4a4a" stroke-width="0.8" />
<line x1="474.15" y1="515.60" x2="474.15" y2="514.00" stroke="#4a4a4a" stroke-width="0.8" />
<line x1="474.15" y1="391.00" x2="474.15" y2="392.60" stroke="#4a4a4a" stroke-width="0.8" />
<line x1="479.90" y1="515.60" x2="479.90" y2="514.00" stroke="#4a4a4a" stroke-width="0.8" />
<line x1="479.90" y1="391.00" x2="479.90" y2="392.60" stroke="#4a4a4a" stroke-width="0.8" />
<line x1="484.97" y1="515.60" x2="484.97" y2="514.00" stroke="#4a4a4a" stroke-width="0.8" />
<line x1="484.97" y1="391.00" x2="484.97" y2="392.60" stroke="#4a4a4a" stroke-width="0.8" />
<line x1="519.33" y1="515.60" x2="519.33" y2="514.00" stroke="#4a4a4a" stroke-width="0.8" />
<line x1="519.33" y1="391.00" x2="519.33" y2="392.60" stroke="#4a4a4a" stroke-width="0.8" />
<line x1="536.78" y1="515.60" x2="536.78" y2="514.00" stroke="#4a4a4a" stroke-width="0.8" />
<line x1="536.78" y1="391.00" x2="536.78" y2="392.60" stroke="#4a4a4a" stroke-width="0.8" />
<line x1="549.16" y1="515.60" x2="549.16" y2="514.00" stroke="#4a4a4a" stroke-width="0.8" />
<line x1="549.16" y1="391.00" x2="549.16" y2="392.60" stroke="#4a4a4a" stroke-width="0.8" />
<line x1="558.77" y1="515.60" x2="558.77" y2="514.00" stroke="#4a4a4a" stroke-width="0.8" />
<line x1="558.77" y1="391.00" x2="558.77" y2="392.60" stroke="#4a4a4a" stroke-width="0.8" />
<line x1="566.61" y1="515.60" x2="566.61" y2="514.00" stroke="#4a4a4a" stroke-width="0.8" />
<line x1="566.61" y1="391.00" x2="566.61" y2="392.60" stroke="#4a4a4a" stroke-width="0.8" />
<line x1="573.25" y1="515.60" x2="573.25" y2="514.00" stroke="#4a4a4a" stroke-width="0.8" />
<line x1="573.25" y1="391.00" x2="573.25" y2="392.60" stroke="#4a4a4a" stroke-width="0.8" />
<line x1="579.00" y1="515.60" x2="579.00" y2="514.00" stroke="#4a4a4a" stroke-width="0.8" />
<line x1="579.00" y1="391.00" x2="579.00" y2="392.60" stroke="#4a4a4a" stroke-width="0.8" />
<line x1="584.07" y1="515.60" x2="584.07" y2="514.00" stroke="#4a4a4a" stroke-width="0.8" />
<line x1="584.07" y1="391.00" x2="584.07" y2="392.60" stroke="#4a4a4a" stroke-width="0.8" />
<line x1="618.43" y1="515.60" x2="618.43" y2="514.00" stroke="#4a4a4a" stroke-width="0.8" />
<line x1="618.43" y1="391.00" x2="618.43" y2="392.60" stroke="#4a4a4a" stroke-width="0.8" />
<line x1="635.88" y1="515.60" x2="635.88" y2="514.00" stroke="#4a4a4a" stroke-width="0.8" />
<line x1="635.88" y1="391.00" x2="635.88" y2="392.60" stroke="#4a4a4a" stroke-width="0.8" />
<line x1="648.26" y1="515.60" x2="648.26" y2="514.00" stroke="#4a4a4a" stroke-width="0.8" />
<line x1="648.26" y1="391.00" x2="648.26" y2="392.60" stroke="#4a4a4a" stroke-width="0.8" />
<clipPath id="cf"><rect x="384.4" y="391" width="279.20000000000005" height="128.60000000000002"/></clipPath>
<g clip-path="url(#cf)">
<path d="M390.4 422.8L392.6 422.8L394.9 422.8L397.1 422.8L399.4 422.8L401.6 422.8L403.9 422.8L406.1 422.8L408.4 422.8L410.6 422.8L412.9 422.8L415.1 422.8L417.4 422.8L419.6 422.8L421.9 422.8L424.1 422.8L426.4 422.8L428.6 422.8L430.9 422.8L433.1 422.8L435.4 422.8L437.6 422.8L439.8 422.8L442.1 422.8L444.3 422.8L446.6 422.9L448.8 422.9L451.1 422.9L453.3 422.9L455.6 422.9L457.8 422.9L460.1 422.9L462.3 422.9L464.6 422.9L466.8 422.9L469.1 422.9L471.3 423.0L473.6 423.0L475.8 423.0L478.1 423.0L480.3 423.0L482.6 423.1L484.8 423.1L487.0 423.1L489.3 423.1L491.5 423.2L493.8 423.2L496.0 423.3L498.3 423.3L500.5 423.4L502.8 423.4L505.0 423.5L507.3 423.6L509.5 423.6L511.8 423.7L514.0 423.8L516.3 423.9L518.5 424.1L520.8 424.2L523.0 424.3L525.3 424.5L527.5 424.7L529.8 424.8L532.0 425.0L534.2 425.3L536.5 425.5L538.7 425.8L541.0 426.0L543.2 426.3L545.5 426.7L547.7 427.0L550.0 427.4L552.2 427.8L554.5 428.2L556.7 428.7L559.0 429.2L561.2 429.7L563.5 430.3L565.7 430.8L568.0 431.4L570.2 432.1L572.5 432.7L574.7 433.4L577.0 434.2L579.2 434.9L581.4 435.7L583.7 436.5L585.9 437.3L588.2 438.1L590.4 439.0L592.7 439.9L594.9 440.8L597.2 441.7L599.4 442.7L601.7 443.6L603.9 444.6L606.2 445.6L608.4 446.6L610.7 447.6L612.9 448.6L615.2 449.6L617.4 450.7L619.7 451.7L621.9 452.8L624.2 453.8L626.4 454.9L628.6 456.0L630.9 457.1L633.1 458.2L635.4 459.2L637.6 460.3L639.9 461.4L642.1 462.5L644.4 463.6L646.6 464.7L648.9 465.8L651.1 467.0L653.4 468.1L655.6 469.2L657.9 470.3" fill="none" stroke="#D95319" stroke-width="2.4" stroke-linejoin="round" />
<circle cx="390.4" cy="428.6" r="3.5" fill="none" stroke="#0072BD" stroke-width="2.2"/>
<circle cx="437.7" cy="414.7" r="3.5" fill="none" stroke="#0072BD" stroke-width="2.2"/>
<circle cx="459.7" cy="425.0" r="3.5" fill="none" stroke="#0072BD" stroke-width="2.2"/>
<circle cx="474.1" cy="428.6" r="3.5" fill="none" stroke="#0072BD" stroke-width="2.2"/>
<circle cx="489.5" cy="426.0" r="3.5" fill="none" stroke="#0072BD" stroke-width="2.2"/>
<circle cx="519.3" cy="432.4" r="3.5" fill="none" stroke="#0072BD" stroke-width="2.2"/>
<circle cx="536.8" cy="425.4" r="3.5" fill="none" stroke="#0072BD" stroke-width="2.2"/>
<circle cx="549.2" cy="423.5" r="3.5" fill="none" stroke="#0072BD" stroke-width="2.2"/>
<circle cx="558.8" cy="419.5" r="3.5" fill="none" stroke="#0072BD" stroke-width="2.2"/>
<circle cx="566.6" cy="418.2" r="3.5" fill="none" stroke="#0072BD" stroke-width="2.2"/>
<circle cx="573.2" cy="422.5" r="3.5" fill="none" stroke="#0072BD" stroke-width="2.2"/>
<circle cx="579.0" cy="422.5" r="3.5" fill="none" stroke="#0072BD" stroke-width="2.2"/>
<circle cx="584.1" cy="428.6" r="3.5" fill="none" stroke="#0072BD" stroke-width="2.2"/>
<circle cx="588.6" cy="428.9" r="3.5" fill="none" stroke="#0072BD" stroke-width="2.2"/>
<circle cx="596.4" cy="434.9" r="3.5" fill="none" stroke="#0072BD" stroke-width="2.2"/>
<circle cx="603.1" cy="437.2" r="3.5" fill="none" stroke="#0072BD" stroke-width="2.2"/>
<circle cx="608.8" cy="441.9" r="3.5" fill="none" stroke="#0072BD" stroke-width="2.2"/>
<circle cx="613.9" cy="445.0" r="3.5" fill="none" stroke="#0072BD" stroke-width="2.2"/>
<circle cx="618.4" cy="452.1" r="3.5" fill="none" stroke="#0072BD" stroke-width="2.2"/>
<circle cx="626.3" cy="456.8" r="3.5" fill="none" stroke="#0072BD" stroke-width="2.2"/>
<circle cx="638.1" cy="465.4" r="3.5" fill="none" stroke="#0072BD" stroke-width="2.2"/>
<circle cx="648.3" cy="469.5" r="3.5" fill="none" stroke="#0072BD" stroke-width="2.2"/>
<circle cx="656.6" cy="475.8" r="3.5" fill="none" stroke="#0072BD" stroke-width="2.2"/>
</g>
<rect x="390.40" y="391.00" width="267.20" height="124.60" fill="none" stroke="#4a4a4a" stroke-width="1.1" />
<rect x="390.40" y="483.30" width="149.20" height="32.30" fill="#fff" stroke="#4a4a4a" stroke-width="1.1" />
<circle cx="413.6" cy="493" r="3.5" fill="none" stroke="#0072BD" stroke-width="2.2"/>
<line x1="394.50" y1="506.50" x2="432.80" y2="506.50" stroke="#D95319" stroke-width="2.3" />
<text id="L_f_leg1" transform="translate(436.50 497.40)" font-size="10" text-anchor="start" font-weight="normal" fill="#222222" stroke="#222222" stroke-width="0.2">Measured impedance</text>
<text id="L_f_leg2" transform="translate(436.60 511.40)" font-size="10" text-anchor="start" font-weight="normal" fill="#222222" stroke="#222222" stroke-width="0.2">Fitted impedance</text>
<text id="L_f_y7" transform="translate(382.50 521.80) scale(1.1 1)" font-size="12" text-anchor="end" font-weight="normal" fill="#222222" stroke="#222222" stroke-width="0.2">10<tspan font-size="9.6" dy="-5.2">7</tspan></text>
<text id="L_f_y8" transform="translate(382.50 471.90) scale(1.1 1)" font-size="12" text-anchor="end" font-weight="normal" fill="#222222" stroke="#222222" stroke-width="0.2">10<tspan font-size="9.6" dy="-5.2">8</tspan></text>
<text id="L_f_y9" transform="translate(382.50 421.80) scale(1.1 1)" font-size="12" text-anchor="end" font-weight="normal" fill="#222222" stroke="#222222" stroke-width="0.2">10<tspan font-size="9.6" dy="-5.2">9</tspan></text>
<text id="L_f_x0" transform="translate(390.20 539.50) scale(1.1 1)" font-size="12" text-anchor="middle" font-weight="normal" fill="#222222" stroke="#222222" stroke-width="0.2">10<tspan font-size="9.6" dy="-5.2">0</tspan></text>
<text id="L_f_x1" transform="translate(488.40 540.60) scale(1.1 1)" font-size="12" text-anchor="middle" font-weight="normal" fill="#222222" stroke="#222222" stroke-width="0.2">10<tspan font-size="9.6" dy="-5.2">1</tspan></text>
<text id="L_f_x2" transform="translate(588.60 540.60) scale(1.1 1)" font-size="12" text-anchor="middle" font-weight="normal" fill="#222222" stroke="#222222" stroke-width="0.2">10<tspan font-size="9.6" dy="-5.2">2</tspan></text>
<text id="L_f_xl" transform="translate(523.70 557.50) scale(1.1 1)" font-size="12" text-anchor="middle" font-weight="normal" fill="#222222" stroke="#222222" stroke-width="0.2">frequency [Hz]</text>
<text id="L_f_yl" transform="translate(354.10 453.60) rotate(-90) scale(1.1 1)" font-size="12" text-anchor="middle" font-weight="normal" fill="#222222" stroke="#222222" stroke-width="0.2">Input impedance [Ω]</text>
<text id="L_f_lab" transform="translate(334.80 556.70) scale(1.2 1)" font-size="13" text-anchor="start" font-weight="normal" fill="#222222" stroke="#222222" stroke-width="0.2">f)</text>
<line x1="6.35" y1="566.60" x2="674.25" y2="566.60" stroke="#111" stroke-width="1.3" />
<line x1="6.35" y1="600.40" x2="674.25" y2="600.40" stroke="#111" stroke-width="1.3" />
<line x1="6.35" y1="635.60" x2="674.25" y2="635.60" stroke="#111" stroke-width="1.3" />
<line x1="6.35" y1="658.40" x2="674.25" y2="658.40" stroke="#111" stroke-width="1.3" />
<line x1="6.35" y1="703.60" x2="674.25" y2="703.60" stroke="#111" stroke-width="1.3" />
<line x1="6.35" y1="725.60" x2="674.25" y2="725.60" stroke="#111" stroke-width="1.3" />
<line x1="6.35" y1="746.60" x2="674.25" y2="746.60" stroke="#111" stroke-width="1.3" />
<line x1="6.35" y1="768.60" x2="674.25" y2="768.60" stroke="#111" stroke-width="1.3" />
<line x1="6.35" y1="789.60" x2="674.25" y2="789.60" stroke="#111" stroke-width="1.3" />
<line x1="6.35" y1="823.60" x2="674.25" y2="823.60" stroke="#111" stroke-width="1.3" />
<line x1="6.35" y1="844.60" x2="674.25" y2="844.60" stroke="#111" stroke-width="1.3" />
<line x1="6.35" y1="866.40" x2="674.25" y2="866.40" stroke="#111" stroke-width="1.3" />
<line x1="6.35" y1="887.60" x2="674.25" y2="887.60" stroke="#111" stroke-width="1.3" />
<line x1="6.35" y1="909.60" x2="674.25" y2="909.60" stroke="#111" stroke-width="1.3" />
<line x1="6.35" y1="944.00" x2="674.25" y2="944.00" stroke="#111" stroke-width="1.3" />
<line x1="7.00" y1="566.60" x2="7.00" y2="944.00" stroke="#111" stroke-width="1.3" />
<line x1="117.40" y1="566.60" x2="117.40" y2="944.00" stroke="#111" stroke-width="1.3" />
<line x1="203.00" y1="566.60" x2="203.00" y2="944.00" stroke="#111" stroke-width="1.3" />
<line x1="293.00" y1="566.60" x2="293.00" y2="944.00" stroke="#111" stroke-width="1.3" />
<line x1="388.00" y1="566.60" x2="388.00" y2="944.00" stroke="#111" stroke-width="1.3" />
<line x1="483.00" y1="566.60" x2="483.00" y2="944.00" stroke="#111" stroke-width="1.3" />
<line x1="578.40" y1="566.60" x2="578.40" y2="944.00" stroke="#111" stroke-width="1.3" />
<line x1="673.60" y1="566.60" x2="673.60" y2="944.00" stroke="#111" stroke-width="1.3" />
<text id="L_t_0_1_0" transform="translate(160.20 580.60)" font-size="10.2" text-anchor="middle" font-weight="bold" fill="#111" stroke="#111" stroke-width="0.1">Moy<tspan font-size="6.5" dy="-3.8">26</tspan></text>
<text id="L_t_0_2_0" transform="translate(248.00 580.60)" font-size="10.2" text-anchor="middle" font-weight="bold" fill="#111" stroke="#111" stroke-width="0.1">Zulqarnain<tspan font-size="6.5" dy="-3.8">27</tspan></text>
<text id="L_t_0_3_0" transform="translate(340.50 580.60)" font-size="10.2" text-anchor="middle" font-weight="bold" fill="#111" stroke="#111" stroke-width="0.1">Genco<tspan font-size="6.5" dy="-3.8">8</tspan></text>
<text id="L_t_0_4_0" transform="translate(435.50 580.60)" font-size="10.2" text-anchor="middle" font-weight="bold" fill="#111" stroke="#111" stroke-width="0.1">Van</text>
<text id="L_t_0_4_1" transform="translate(435.50 592.90)" font-size="10.2" text-anchor="middle" font-weight="bold" fill="#111" stroke="#111" stroke-width="0.1">Oosterhout<tspan font-size="6.5" dy="-3.8">9</tspan></text>
<text id="L_t_0_5_0" transform="translate(530.70 580.60)" font-size="10.2" text-anchor="middle" font-weight="bold" fill="#111" stroke="#111" stroke-width="0.1">Van</text>
<text id="L_t_0_5_1" transform="translate(530.70 592.90)" font-size="10.2" text-anchor="middle" font-weight="bold" fill="#111" stroke="#111" stroke-width="0.1">Oosterhout<tspan font-size="6.5" dy="-3.8">13</tspan></text>
<text id="L_t_0_6_0" transform="translate(626.00 580.60)" font-size="10.2" text-anchor="middle" font-weight="bold" fill="#111" stroke="#111" stroke-width="0.1">This work</text>
<text id="L_t_1_0_0" transform="translate(62.20 615.00) scale(0.98 1)" font-size="10.0" text-anchor="middle" font-weight="bold" fill="#111" stroke="#111" stroke-width="0.1">Technology</text>
<text id="L_t_1_0_1" transform="translate(62.20 627.30) scale(0.98 1)" font-size="10.0" text-anchor="middle" font-weight="bold" fill="#111" stroke="#111" stroke-width="0.1">(feature size)</text>
<text id="L_t_1_1_0" transform="translate(160.20 615.00) scale(0.98 1)" font-size="10.0" text-anchor="middle" font-weight="normal" fill="#111" stroke="#111" stroke-width="0.2">A-Si (6μm)</text>
<text id="L_t_1_2_0" transform="translate(248.00 615.00) scale(0.98 1)" font-size="10.0" text-anchor="middle" font-weight="normal" fill="#111" stroke="#111" stroke-width="0.2">a-IGZO (1.5μm)</text>
<text id="L_t_1_3_0" transform="translate(340.50 615.00) scale(0.98 1)" font-size="10.0" text-anchor="middle" font-weight="normal" fill="#111" stroke="#111" stroke-width="0.2">a-IGZO</text>
<text id="L_t_1_4_0" transform="translate(435.50 615.00) scale(0.98 1)" font-size="10.0" text-anchor="middle" font-weight="normal" fill="#111" stroke="#111" stroke-width="0.2">A-IGZO (800nm)</text>
<text id="L_t_1_5_0" transform="translate(530.70 615.00) scale(0.98 1)" font-size="10.0" text-anchor="middle" font-weight="normal" fill="#111" stroke="#111" stroke-width="0.2">A-IGZO (600nm)</text>
<text id="L_t_1_6_0" transform="translate(626.00 615.00) scale(0.98 1)" font-size="10.0" text-anchor="middle" font-weight="normal" fill="#111" stroke="#111" stroke-width="0.2">A-IGZO (600nm)</text>
<text id="L_t_2_0_0" transform="translate(62.20 650.20) scale(0.98 1)" font-size="10.0" text-anchor="middle" font-weight="bold" fill="#111" stroke="#111" stroke-width="0.1">Supply voltage</text>
<text id="L_t_2_1_0" transform="translate(160.20 650.20) scale(0.98 1)" font-size="10.0" text-anchor="middle" font-weight="normal" fill="#111" stroke="#111" stroke-width="0.2">55V</text>
<text id="L_t_2_2_0" transform="translate(248.00 650.20) scale(0.98 1)" font-size="10.0" text-anchor="middle" font-weight="normal" fill="#111" stroke="#111" stroke-width="0.2">10V</text>
<text id="L_t_2_3_0" transform="translate(340.50 650.20) scale(0.98 1)" font-size="10.0" text-anchor="middle" font-weight="normal" fill="#111" stroke="#111" stroke-width="0.2">26V</text>
<text id="L_t_2_4_0" transform="translate(435.50 650.20) scale(0.98 1)" font-size="10.0" text-anchor="middle" font-weight="normal" fill="#111" stroke="#111" stroke-width="0.2">4V</text>
<text id="L_t_2_5_0" transform="translate(530.70 650.20) scale(0.98 1)" font-size="10.0" text-anchor="middle" font-weight="normal" fill="#111" stroke="#111" stroke-width="0.2">3.5V</text>
<text id="L_t_2_6_0" transform="translate(626.00 650.20) scale(0.98 1)" font-size="10.0" text-anchor="middle" font-weight="normal" fill="#111" stroke="#111" stroke-width="0.2">3.5V</text>
<text id="L_t_3_0_0" transform="translate(62.20 673.00) scale(0.98 1)" font-size="10.0" text-anchor="middle" font-weight="bold" fill="#111" stroke="#111" stroke-width="0.1">Architecture</text>
<text id="L_t_3_1_0" transform="translate(160.20 673.00) scale(0.98 1)" font-size="10.0" text-anchor="middle" font-weight="normal" fill="#111" stroke="#111" stroke-width="0.2">RL amplifier +</text>
<text id="L_t_3_1_1" transform="translate(160.20 685.30) scale(0.98 1)" font-size="10.0" text-anchor="middle" font-weight="normal" fill="#111" stroke="#111" stroke-width="0.2">5kHz chopping</text>
<text id="L_t_3_2_0" transform="translate(248.00 673.00) scale(0.98 1)" font-size="10.0" text-anchor="middle" font-weight="normal" fill="#111" stroke="#111" stroke-width="0.2">DCL amplifier +</text>
<text id="L_t_3_2_1" transform="translate(248.00 685.30) scale(0.98 1)" font-size="10.0" text-anchor="middle" font-weight="normal" fill="#111" stroke="#111" stroke-width="0.2">1kHz chopping</text>
<text id="L_t_3_3_0" transform="translate(340.50 673.00) scale(0.98 1)" font-size="10.0" text-anchor="middle" font-weight="normal" fill="#111" stroke="#111" stroke-width="0.2">PFL amplifier +</text>
<text id="L_t_3_3_1" transform="translate(340.50 685.30) scale(0.98 1)" font-size="10.0" text-anchor="middle" font-weight="normal" fill="#111" stroke="#111" stroke-width="0.2">8kHz chopping</text>
<text id="L_t_3_4_0" transform="translate(435.50 673.00) scale(0.98 1)" font-size="10.0" text-anchor="middle" font-weight="normal" fill="#111" stroke="#111" stroke-width="0.2">BSL amplifier +</text>
<text id="L_t_3_4_1" transform="translate(435.50 685.30) scale(0.98 1)" font-size="10.0" text-anchor="middle" font-weight="normal" fill="#111" stroke="#111" stroke-width="0.2">10kHz</text>
<text id="L_t_3_4_2" transform="translate(435.50 697.60) scale(0.98 1)" font-size="10.0" text-anchor="middle" font-weight="normal" fill="#111" stroke="#111" stroke-width="0.2">autozeroing</text>
<text id="L_t_3_5_0" transform="translate(530.70 673.00) scale(0.98 1)" font-size="10.0" text-anchor="middle" font-weight="normal" fill="#111" stroke="#111" stroke-width="0.2">BSL amplifier +</text>
<text id="L_t_3_5_1" transform="translate(530.70 685.30) scale(0.98 1)" font-size="10.0" text-anchor="middle" font-weight="normal" fill="#111" stroke="#111" stroke-width="0.2">16kHz chopping</text>
<text id="L_t_3_6_0" transform="translate(626.00 673.00) scale(0.98 1)" font-size="10.0" text-anchor="middle" font-weight="normal" fill="#111" stroke="#111" stroke-width="0.2">BSL amplifier +</text>
<text id="L_t_3_6_1" transform="translate(626.00 685.30) scale(0.98 1)" font-size="10.0" text-anchor="middle" font-weight="normal" fill="#111" stroke="#111" stroke-width="0.2">8kHz autozeroing</text>
<text id="L_t_4_0_0" transform="translate(62.20 718.20) scale(0.98 1)" font-size="10.0" text-anchor="middle" font-weight="bold" fill="#111" stroke="#111" stroke-width="0.1">Application</text>
<text id="L_t_4_1_0" transform="translate(160.20 718.20) scale(0.98 1)" font-size="10.0" text-anchor="middle" font-weight="normal" fill="#111" stroke="#111" stroke-width="0.2">EEG</text>
<text id="L_t_4_2_0" transform="translate(248.00 718.20) scale(0.98 1)" font-size="10.0" text-anchor="middle" font-weight="normal" fill="#111" stroke="#111" stroke-width="0.2">ECG</text>
<text id="L_t_4_3_0" transform="translate(340.50 718.20) scale(0.98 1)" font-size="10.0" text-anchor="middle" font-weight="normal" fill="#111" stroke="#111" stroke-width="0.2">EMG</text>
<text id="L_t_4_4_0" transform="translate(435.50 718.20) scale(0.98 1)" font-size="10.0" text-anchor="middle" font-weight="normal" fill="#111" stroke="#111" stroke-width="0.2">EMG</text>
<text id="L_t_4_5_0" transform="translate(530.70 718.20) scale(0.98 1)" font-size="10.0" text-anchor="middle" font-weight="normal" fill="#111" stroke="#111" stroke-width="0.2">ECoG</text>
<text id="L_t_4_6_0" transform="translate(626.00 718.20) scale(0.98 1)" font-size="10.0" text-anchor="middle" font-weight="normal" fill="#111" stroke="#111" stroke-width="0.2">EMG</text>
<text id="L_t_5_0_0" transform="translate(62.20 740.20) scale(0.98 1)" font-size="10.0" text-anchor="middle" font-weight="bold" fill="#111" stroke="#111" stroke-width="0.1">Signal Bandwidth</text>
<text id="L_t_5_1_0" transform="translate(160.20 740.20) scale(0.98 1)" font-size="10.0" text-anchor="middle" font-weight="normal" fill="#111" stroke="#111" stroke-width="0.2">100Hz</text>
<text id="L_t_5_2_0" transform="translate(248.00 740.20) scale(0.98 1)" font-size="10.0" text-anchor="middle" font-weight="normal" fill="#111" stroke="#111" stroke-width="0.2">100Hz</text>
<text id="L_t_5_3_0" transform="translate(340.50 740.20) scale(0.98 1)" font-size="10.0" text-anchor="middle" font-weight="normal" fill="#111" stroke="#111" stroke-width="0.2">500Hz</text>
<text id="L_t_5_4_0" transform="translate(435.50 740.20) scale(0.98 1)" font-size="10.0" text-anchor="middle" font-weight="normal" fill="#111" stroke="#111" stroke-width="0.2">1000Hz</text>
<text id="L_t_5_5_0" transform="translate(530.70 740.20) scale(0.98 1)" font-size="10.0" text-anchor="middle" font-weight="normal" fill="#111" stroke="#111" stroke-width="0.2">120Hz</text>
<text id="L_t_5_6_0" transform="translate(626.00 740.20) scale(0.98 1)" font-size="10.0" text-anchor="middle" font-weight="normal" fill="#111" stroke="#111" stroke-width="0.2">500Hz</text>
<text id="L_t_6_0_0" transform="translate(62.20 761.20) scale(0.98 1)" font-size="10.0" text-anchor="middle" font-weight="bold" fill="#111" stroke="#111" stroke-width="0.1">Amplification</text>
<text id="L_t_6_1_0" transform="translate(160.20 761.20) scale(0.98 1)" font-size="10.0" text-anchor="middle" font-weight="normal" fill="#111" stroke="#111" stroke-width="0.2">20dB</text>
<text id="L_t_6_2_0" transform="translate(248.00 761.20) scale(0.98 1)" font-size="10.0" text-anchor="middle" font-weight="normal" fill="#111" stroke="#111" stroke-width="0.2">23.5dB</text>
<text id="L_t_6_3_0" transform="translate(340.50 761.20) scale(0.98 1)" font-size="10.0" text-anchor="middle" font-weight="normal" fill="#111" stroke="#111" stroke-width="0.2">20uA/V</text>
<text id="L_t_6_4_0" transform="translate(435.50 761.20) scale(0.98 1)" font-size="10.0" text-anchor="middle" font-weight="normal" fill="#111" stroke="#111" stroke-width="0.2">0dB</text>
<text id="L_t_6_5_0" transform="translate(530.70 761.20) scale(0.98 1)" font-size="10.0" text-anchor="middle" font-weight="normal" fill="#111" stroke="#111" stroke-width="0.2">14dB</text>
<text id="L_t_6_6_0" transform="translate(626.00 761.20) scale(0.98 1)" font-size="10.0" text-anchor="middle" font-weight="normal" fill="#111" stroke="#111" stroke-width="0.2">0dB</text>
<text id="L_t_7_0_0" transform="translate(62.20 783.20) scale(0.98 1)" font-size="10.0" text-anchor="middle" font-weight="bold" fill="#111" stroke="#111" stroke-width="0.1">Noise level</text>
<text id="L_t_7_1_0" transform="translate(160.20 783.20) scale(0.98 1)" font-size="10.0" text-anchor="middle" font-weight="normal" fill="#111" stroke="#111" stroke-width="0.2">230nV/sqrt(Hz)</text>
<text id="L_t_7_2_0" transform="translate(248.00 783.20) scale(0.98 1)" font-size="10.0" text-anchor="middle" font-weight="normal" fill="#111" stroke="#111" stroke-width="0.2">800nV/sqrt(Hz)</text>
<text id="L_t_7_3_0" transform="translate(340.50 783.20) scale(0.98 1)" font-size="10.0" text-anchor="middle" font-weight="normal" fill="#111" stroke="#111" stroke-width="0.2">2.46μV/sqrt(Hz)</text>
<text id="L_t_7_4_0" transform="translate(435.50 783.20) scale(0.98 1)" font-size="10.0" text-anchor="middle" font-weight="normal" fill="#111" stroke="#111" stroke-width="0.2">2μV/sqrt(Hz)</text>
<text id="L_t_7_5_0" transform="translate(530.70 783.20) scale(0.98 1)" font-size="10.0" text-anchor="middle" font-weight="normal" fill="#111" stroke="#111" stroke-width="0.2">70nV/sqrt(Hz)</text>
<text id="L_t_7_6_0" transform="translate(626.00 783.20) scale(0.98 1)" font-size="10.0" text-anchor="middle" font-weight="normal" fill="#111" stroke="#111" stroke-width="0.2">980nV/sqrt(Hz)</text>
<text id="L_t_8_0_0" transform="translate(62.20 804.20) scale(0.98 1)" font-size="10.0" text-anchor="middle" font-weight="bold" fill="#111" stroke="#111" stroke-width="0.1">Power dissipation/</text>
<text id="L_t_8_0_1" transform="translate(62.20 816.50) scale(0.98 1)" font-size="10.0" text-anchor="middle" font-weight="bold" fill="#111" stroke="#111" stroke-width="0.1">channel</text>
<text id="L_t_8_1_0" transform="translate(160.20 804.20) scale(0.98 1)" font-size="10.0" text-anchor="middle" font-weight="normal" fill="#111" stroke="#111" stroke-width="0.2">11mW</text>
<text id="L_t_8_2_0" transform="translate(248.00 804.20) scale(0.98 1)" font-size="10.0" text-anchor="middle" font-weight="normal" fill="#111" stroke="#111" stroke-width="0.2">280uW</text>
<text id="L_t_8_3_0" transform="translate(340.50 804.20) scale(0.98 1)" font-size="10.0" text-anchor="middle" font-weight="normal" fill="#111" stroke="#111" stroke-width="0.2">5.13mW</text>
<text id="L_t_8_4_0" transform="translate(435.50 804.20) scale(0.98 1)" font-size="10.0" text-anchor="middle" font-weight="normal" fill="#111" stroke="#111" stroke-width="0.2">220uW</text>
<text id="L_t_8_5_0" transform="translate(530.70 804.20) scale(0.98 1)" font-size="10.0" text-anchor="middle" font-weight="normal" fill="#111" stroke="#111" stroke-width="0.2">46uW</text>
<text id="L_t_8_6_0" transform="translate(626.00 804.20) scale(0.98 1)" font-size="10.0" text-anchor="middle" font-weight="normal" fill="#111" stroke="#111" stroke-width="0.2">55.3uW</text>
<text id="L_t_9_0_0" transform="translate(62.20 838.20) scale(0.98 1)" font-size="10.0" text-anchor="middle" font-weight="bold" fill="#111" stroke="#111" stroke-width="0.1">NEF</text>
<text id="L_t_9_1_0" transform="translate(160.20 838.20) scale(0.98 1)" font-size="10.0" text-anchor="middle" font-weight="normal" fill="#111" stroke="#111" stroke-width="0.2">126</text>
<text id="L_t_9_2_0" transform="translate(248.00 838.20) scale(0.98 1)" font-size="10.0" text-anchor="middle" font-weight="normal" fill="#111" stroke="#111" stroke-width="0.2">110</text>
<text id="L_t_9_3_0" transform="translate(340.50 838.20) scale(0.98 1)" font-size="10.0" text-anchor="middle" font-weight="normal" fill="#111" stroke="#111" stroke-width="0.2">1338</text>
<text id="L_t_9_4_0" transform="translate(435.50 838.20) scale(0.98 1)" font-size="10.0" text-anchor="middle" font-weight="normal" fill="#111" stroke="#111" stroke-width="0.2">1007</text>
<text id="L_t_9_5_0" transform="translate(530.70 838.20) scale(0.98 1)" font-size="10.0" text-anchor="middle" font-weight="normal" fill="#111" stroke="#111" stroke-width="0.2">9.8</text>
<text id="L_t_9_6_0" transform="translate(626.00 838.20) scale(0.98 1)" font-size="10.0" text-anchor="middle" font-weight="normal" fill="#111" stroke="#111" stroke-width="0.2">150</text>
<text id="L_t_10_0_0" transform="translate(62.20 859.20) scale(0.98 1)" font-size="10.0" text-anchor="middle" font-weight="bold" fill="#111" stroke="#111" stroke-width="0.1">PEF</text>
<text id="L_t_10_1_0" transform="translate(160.20 859.20) scale(0.98 1)" font-size="10.0" text-anchor="middle" font-weight="normal" fill="#111" stroke="#111" stroke-width="0.2">877e3</text>
<text id="L_t_10_2_0" transform="translate(248.00 859.20) scale(0.98 1)" font-size="10.0" text-anchor="middle" font-weight="normal" fill="#111" stroke="#111" stroke-width="0.2">121e3</text>
<text id="L_t_10_3_0" transform="translate(340.50 859.20) scale(0.98 1)" font-size="10.0" text-anchor="middle" font-weight="normal" fill="#111" stroke="#111" stroke-width="0.2">4.65e7</text>
<text id="L_t_10_4_0" transform="translate(435.50 859.20) scale(0.98 1)" font-size="10.0" text-anchor="middle" font-weight="normal" fill="#111" stroke="#111" stroke-width="0.2">4.1e6</text>
<text id="L_t_10_5_0" transform="translate(530.70 859.20) scale(0.98 1)" font-size="10.0" text-anchor="middle" font-weight="normal" fill="#111" stroke="#111" stroke-width="0.2">330</text>
<text id="L_t_10_6_0" transform="translate(626.00 859.20) scale(0.98 1)" font-size="10.0" text-anchor="middle" font-weight="normal" fill="#111" stroke="#111" stroke-width="0.2">79e3</text>
<text id="L_t_11_0_0" transform="translate(62.20 881.00) scale(0.98 1)" font-size="10.0" text-anchor="middle" font-weight="bold" fill="#111" stroke="#111" stroke-width="0.1">Input impedance</text>
<text id="L_t_11_1_0" transform="translate(160.20 881.00) scale(0.98 1)" font-size="10.0" text-anchor="middle" font-weight="normal" fill="#111" stroke="#111" stroke-width="0.2">260kΩ (DC)</text>
<text id="L_t_11_2_0" transform="translate(248.00 881.00) scale(0.98 1)" font-size="10.0" text-anchor="middle" font-weight="normal" fill="#111" stroke="#111" stroke-width="0.2">16.5MΩ (50Hz)</text>
<text id="L_t_11_3_0" transform="translate(340.50 881.00) scale(0.98 1)" font-size="10.0" text-anchor="middle" font-weight="normal" fill="#111" stroke="#111" stroke-width="0.2">25MΩ (50Hz)</text>
<text id="L_t_11_4_0" transform="translate(435.50 881.00) scale(0.98 1)" font-size="10.0" text-anchor="middle" font-weight="normal" fill="#111" stroke="#111" stroke-width="0.2">250MΩ (50Hz)</text>
<text id="L_t_11_5_0" transform="translate(530.70 881.00) scale(0.98 1)" font-size="10.0" text-anchor="middle" font-weight="normal" fill="#111" stroke="#111" stroke-width="0.2">7.3 MΩ (70Hz)</text>
<text id="L_t_11_6_0" transform="translate(626.00 881.00) scale(0.98 1)" font-size="10.0" text-anchor="middle" font-weight="normal" fill="#111" stroke="#111" stroke-width="0.2">841MΩ (50Hz)</text>
<text id="L_t_12_0_0" transform="translate(62.20 902.20) scale(0.98 1)" font-size="10.0" text-anchor="middle" font-weight="bold" fill="#111" stroke="#111" stroke-width="0.1">Area/channel</text>
<text id="L_t_12_1_0" transform="translate(160.20 902.20) scale(0.98 1)" font-size="10.0" text-anchor="middle" font-weight="normal" fill="#111" stroke="#111" stroke-width="0.2">-</text>
<text id="L_t_12_2_0" transform="translate(248.00 902.20) scale(0.98 1)" font-size="10.0" text-anchor="middle" font-weight="normal" fill="#111" stroke="#111" stroke-width="0.2">24mm<tspan font-size="6.5" dy="-3.8">2</tspan></text>
<text id="L_t_12_3_0" transform="translate(340.50 902.20) scale(0.98 1)" font-size="10.0" text-anchor="middle" font-weight="normal" fill="#111" stroke="#111" stroke-width="0.2">16mm<tspan font-size="6.5" dy="-3.8">2</tspan></text>
<text id="L_t_12_4_0" transform="translate(435.50 902.20) scale(0.98 1)" font-size="10.0" text-anchor="middle" font-weight="normal" fill="#111" stroke="#111" stroke-width="0.2">0.22mm<tspan font-size="6.5" dy="-3.8">2</tspan></text>
<text id="L_t_12_5_0" transform="translate(530.70 902.20) scale(0.98 1)" font-size="10.0" text-anchor="middle" font-weight="normal" fill="#111" stroke="#111" stroke-width="0.2">1.3mm<tspan font-size="6.5" dy="-3.8">2</tspan></text>
<text id="L_t_12_6_0" transform="translate(626.00 902.20) scale(0.98 1)" font-size="10.0" text-anchor="middle" font-weight="normal" fill="#111" stroke="#111" stroke-width="0.2">0.88mm<tspan font-size="6.5" dy="-3.8">2</tspan></text>
<text id="L_t_13_0_0" transform="translate(62.20 924.20) scale(0.98 1)" font-size="10.0" text-anchor="middle" font-weight="bold" fill="#111" stroke="#111" stroke-width="0.1">Power</text>
<text id="L_t_13_0_1" transform="translate(62.20 936.50) scale(0.98 1)" font-size="10.0" text-anchor="middle" font-weight="bold" fill="#111" stroke="#111" stroke-width="0.1">consumption/area</text>
<text id="L_t_13_1_0" transform="translate(160.20 924.20) scale(0.98 1)" font-size="10.0" text-anchor="middle" font-weight="normal" fill="#111" stroke="#111" stroke-width="0.2">-</text>
<text id="L_t_13_2_0" transform="translate(248.00 924.20) scale(0.98 1)" font-size="10.0" text-anchor="middle" font-weight="normal" fill="#111" stroke="#111" stroke-width="0.2">1.17mW/cm<tspan font-size="6.5" dy="-3.8">2</tspan></text>
<text id="L_t_13_3_0" transform="translate(340.50 924.20) scale(0.98 1)" font-size="10.0" text-anchor="middle" font-weight="normal" fill="#111" stroke="#111" stroke-width="0.2">32.1mW/cm<tspan font-size="6.5" dy="-3.8">2</tspan></text>
<text id="L_t_13_4_0" transform="translate(435.50 924.20) scale(0.98 1)" font-size="10.0" text-anchor="middle" font-weight="normal" fill="#111" stroke="#111" stroke-width="0.2">100mW/cm<tspan font-size="6.5" dy="-3.8">2</tspan></text>
<text id="L_t_13_5_0" transform="translate(530.70 924.20) scale(0.98 1)" font-size="10.0" text-anchor="middle" font-weight="normal" fill="#111" stroke="#111" stroke-width="0.2">3.5mW/cm<tspan font-size="6.5" dy="-3.8">2</tspan></text>
<text id="L_t_13_6_0" transform="translate(626.00 924.20) scale(0.98 1)" font-size="10.0" text-anchor="middle" font-weight="normal" fill="#111" stroke="#111" stroke-width="0.2">6.3mW/cm<tspan font-size="6.5" dy="-3.8">2</tspan></text>
<text id="L_g_lab" transform="translate(11.60 961.00) scale(1.2 1)" font-size="13" text-anchor="start" font-weight="normal" fill="#222" stroke="#222" stroke-width="0.2">g)</text>
</svg>
</body></html>
